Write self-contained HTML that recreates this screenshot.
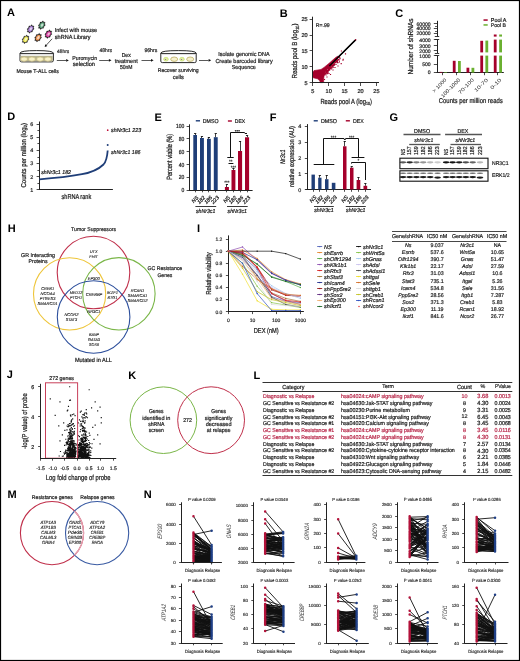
<!DOCTYPE html>
<html><head><meta charset="utf-8"><style>
html,body{margin:0;padding:0;background:#fff;}
svg{display:block;will-change:transform;filter:blur(0.3px);}
text{font-family:"Liberation Sans", sans-serif;text-rendering:geometricPrecision;}
</style></head><body>
<svg width="520" height="661" viewBox="0 0 520 661">
<rect x="0" y="0" width="520" height="661" fill="#fff"/>
<text x="7.00" y="16.08" font-size="11" font-weight="bold" fill="#000">A</text>
<path d="M32.72,30.32 L32.20,32.11 L30.75,32.10 L29.36,33.33 L28.69,32.05 L27.25,32.01 L27.75,30.22 L27.10,28.93 L28.48,27.68 L29.00,25.89 L30.45,25.90 L31.84,24.67 L32.51,25.95 L33.95,25.99 L33.45,27.78 L34.10,29.07Z" fill="#222" stroke="#111" stroke-width="0.3"/>
<ellipse cx="30.6" cy="29.0" rx="2.1" ry="3.1" transform="rotate(32 30.6 29.0)" fill="#a47ad0"/>
<ellipse cx="30.8" cy="28.8" rx="1.1" ry="1.7" transform="rotate(32 30.6 29.0)" fill="#fff" opacity="0.65"/>
<path d="M43.92,26.52 L43.40,28.31 L41.95,28.30 L40.56,29.53 L39.89,28.25 L38.45,28.21 L38.95,26.42 L38.30,25.13 L39.68,23.88 L40.20,22.09 L41.65,22.10 L43.04,20.87 L43.71,22.15 L45.15,22.19 L44.65,23.98 L45.30,25.27Z" fill="#222" stroke="#111" stroke-width="0.3"/>
<ellipse cx="41.8" cy="25.2" rx="2.1" ry="3.1" transform="rotate(32 41.8 25.2)" fill="#5aa078"/>
<ellipse cx="42.0" cy="25.0" rx="1.1" ry="1.7" transform="rotate(32 41.8 25.2)" fill="#fff" opacity="0.65"/>
<path d="M27.72,40.62 L27.20,42.41 L25.75,42.40 L24.36,43.63 L23.69,42.35 L22.25,42.31 L22.75,40.52 L22.10,39.23 L23.48,37.98 L24.00,36.19 L25.45,36.20 L26.84,34.97 L27.51,36.25 L28.95,36.29 L28.45,38.08 L29.10,39.37Z" fill="#222" stroke="#111" stroke-width="0.3"/>
<ellipse cx="25.6" cy="39.3" rx="2.1" ry="3.1" transform="rotate(32 25.6 39.3)" fill="#ece85a"/>
<ellipse cx="25.8" cy="39.099999999999994" rx="1.1" ry="1.7" transform="rotate(32 25.6 39.3)" fill="#fff" opacity="0.65"/>
<path d="M40.22,38.92 L39.70,40.71 L38.25,40.70 L36.86,41.93 L36.19,40.65 L34.75,40.61 L35.25,38.82 L34.60,37.53 L35.98,36.28 L36.50,34.49 L37.95,34.50 L39.34,33.27 L40.01,34.55 L41.45,34.59 L40.95,36.38 L41.60,37.67Z" fill="#222" stroke="#111" stroke-width="0.3"/>
<ellipse cx="38.1" cy="37.6" rx="2.1" ry="3.1" transform="rotate(32 38.1 37.6)" fill="#e89050"/>
<ellipse cx="38.300000000000004" cy="37.4" rx="1.1" ry="1.7" transform="rotate(32 38.1 37.6)" fill="#fff" opacity="0.65"/>
<path d="M50.52,35.42 L50.00,37.21 L48.55,37.20 L47.16,38.43 L46.49,37.15 L45.05,37.11 L45.55,35.32 L44.90,34.03 L46.28,32.78 L46.80,30.99 L48.25,31.00 L49.64,29.77 L50.31,31.05 L51.75,31.09 L51.25,32.88 L51.90,34.17Z" fill="#222" stroke="#111" stroke-width="0.3"/>
<ellipse cx="48.4" cy="34.1" rx="2.1" ry="3.1" transform="rotate(32 48.4 34.1)" fill="#d840a0"/>
<ellipse cx="48.6" cy="33.9" rx="1.1" ry="1.7" transform="rotate(32 48.4 34.1)" fill="#fff" opacity="0.65"/>
<text x="54.80" y="32.17" font-size="5.75" text-anchor="start" fill="#1c1c1c" stroke="#1c1c1c" stroke-width="0.220" textLength="42.20" lengthAdjust="spacingAndGlyphs">Infect with mouse</text>
<text x="54.80" y="38.61" font-size="5.87" text-anchor="start" fill="#1c1c1c" stroke="#1c1c1c" stroke-width="0.230" textLength="35.70" lengthAdjust="spacingAndGlyphs">shRNA Library</text>
<line x1="52.10" y1="38.80" x2="46.35" y2="45.08" stroke="#111" stroke-width="0.7"/>
<path d="M44.60,47.00 L45.32,44.14 L47.39,46.03Z" fill="#111" stroke="none" stroke-width="1"/>
<path d="M20.0,53.2 L20.0,60.5 Q20.0,61.9 21.6,61.9 L51.8,61.9 Q53.4,61.9 53.4,60.5 L53.4,53.2 Z" fill="#fff" stroke="#111" stroke-width="0.9"/>
<rect x="20.60" y="55.80" width="32.20" height="5.50" fill="#b8b490"/>
<ellipse cx="24.1" cy="59.1" rx="3.4" ry="2.1" fill="#f8f2c8" stroke="#cdbf80" stroke-width="0.7"/>
<ellipse cx="31.9" cy="59.1" rx="3.4" ry="2.1" fill="#f8f2c8" stroke="#cdbf80" stroke-width="0.7"/>
<ellipse cx="40.1" cy="59.1" rx="3.4" ry="2.1" fill="#f8f2c8" stroke="#cdbf80" stroke-width="0.7"/>
<ellipse cx="47.9" cy="59.1" rx="3.4" ry="2.1" fill="#f8f2c8" stroke="#cdbf80" stroke-width="0.7"/>
<path d="M20.0,53.2 Q20.0,50.6 36.7,50.6 Q53.4,50.6 53.4,53.2" fill="#fff" stroke="#111" stroke-width="0.9"/>
<line x1="20.00" y1="53.50" x2="53.40" y2="53.50" stroke="#111" stroke-width="0.7"/>
<line x1="20.50" y1="54.40" x2="52.90" y2="54.40" stroke="#bbb" stroke-width="0.5"/>
<path d="M160.8,53.2 L160.8,61.2 Q160.8,62.6 162.4,62.6 L194.6,62.6 Q196.2,62.6 196.2,61.2 L196.2,53.2 Z" fill="#fff" stroke="#111" stroke-width="0.9"/>
<ellipse cx="166.0" cy="59.2" rx="2.3" ry="1.9" fill="#e0f0a0" stroke="#c8e070" stroke-width="0.7"/>
<ellipse cx="174.2" cy="59.2" rx="3.5" ry="2.2" fill="#f6f0cc" stroke="#b0a050" stroke-width="0.7"/>
<ellipse cx="182.0" cy="59.2" rx="2.3" ry="1.9" fill="#e0f0a0" stroke="#c8e070" stroke-width="0.7"/>
<ellipse cx="190.2" cy="59.2" rx="3.5" ry="2.2" fill="#f6f0cc" stroke="#b0a050" stroke-width="0.7"/>
<path d="M160.8,53.2 Q160.8,50.6 178.5,50.6 Q196.2,50.6 196.2,53.2" fill="#fff" stroke="#111" stroke-width="0.9"/>
<line x1="160.80" y1="53.50" x2="196.20" y2="53.50" stroke="#111" stroke-width="0.7"/>
<line x1="161.30" y1="54.40" x2="195.70" y2="54.40" stroke="#bbb" stroke-width="0.5"/>
<circle cx="165.60" cy="59.60" r="0.50" fill="#8040a0" stroke="none" stroke-width="1"/>
<circle cx="181.60" cy="59.60" r="0.50" fill="#8040a0" stroke="none" stroke-width="1"/>
<text x="16.40" y="72.98" font-size="5.5" text-anchor="start" fill="#1c1c1c" stroke="#1c1c1c" stroke-width="0.202" textLength="42.40" lengthAdjust="spacingAndGlyphs">Mouse T-ALL cells</text>
<text x="57.10" y="52.75" font-size="5.13" text-anchor="start" fill="#1c1c1c" stroke="#1c1c1c" stroke-width="0.175" textLength="12.10" lengthAdjust="spacingAndGlyphs">48hrs</text>
<line x1="56.80" y1="60.50" x2="66.20" y2="60.50" stroke="#111" stroke-width="0.7"/>
<path d="M68.80,60.40 L66.20,61.80 L66.20,59.00Z" fill="#111" stroke="none" stroke-width="1"/>
<text x="72.20" y="59.62" font-size="5.61" text-anchor="start" fill="#1c1c1c" stroke="#1c1c1c" stroke-width="0.210" textLength="25.00" lengthAdjust="spacingAndGlyphs">Puromycin</text>
<text x="72.80" y="66.35" font-size="5.96" text-anchor="start" fill="#1c1c1c" stroke="#1c1c1c" stroke-width="0.237" textLength="22.20" lengthAdjust="spacingAndGlyphs">selection</text>
<text x="99.60" y="52.39" font-size="5.25" text-anchor="start" fill="#1c1c1c" stroke="#1c1c1c" stroke-width="0.184" textLength="12.40" lengthAdjust="spacingAndGlyphs">48hrs</text>
<line x1="99.20" y1="60.50" x2="108.90" y2="60.50" stroke="#111" stroke-width="0.7"/>
<path d="M111.50,60.30 L108.90,61.70 L108.90,58.90Z" fill="#111" stroke="none" stroke-width="1"/>
<text x="126.20" y="56.79" font-size="5.8" text-anchor="middle" fill="#1c1c1c" stroke="#1c1c1c" stroke-width="0.224" textLength="9.00" lengthAdjust="spacingAndGlyphs">Dex</text>
<text x="126.20" y="63.09" font-size="5.8" text-anchor="middle" fill="#1c1c1c" stroke="#1c1c1c" stroke-width="0.224" textLength="23.00" lengthAdjust="spacingAndGlyphs">treatment</text>
<text x="126.20" y="69.29" font-size="5.8" text-anchor="middle" fill="#1c1c1c" stroke="#1c1c1c" stroke-width="0.224" textLength="12.60" lengthAdjust="spacingAndGlyphs">50nM</text>
<text x="144.40" y="52.47" font-size="5.47" text-anchor="start" fill="#1c1c1c" stroke="#1c1c1c" stroke-width="0.199" textLength="12.90" lengthAdjust="spacingAndGlyphs">96hrs</text>
<line x1="141.50" y1="60.50" x2="151.00" y2="60.50" stroke="#111" stroke-width="0.7"/>
<path d="M153.60,60.30 L151.00,61.70 L151.00,58.90Z" fill="#111" stroke="none" stroke-width="1"/>
<text x="157.70" y="72.37" font-size="5.47" text-anchor="start" fill="#1c1c1c" stroke="#1c1c1c" stroke-width="0.199" textLength="41.00" lengthAdjust="spacingAndGlyphs">Recover surviving</text>
<text x="178.20" y="78.69" font-size="5.8" text-anchor="middle" fill="#1c1c1c" stroke="#1c1c1c" stroke-width="0.224" textLength="11.00" lengthAdjust="spacingAndGlyphs">cells</text>
<line x1="199.00" y1="60.50" x2="208.60" y2="60.50" stroke="#111" stroke-width="0.7"/>
<path d="M211.20,60.30 L208.60,61.70 L208.60,58.90Z" fill="#111" stroke="none" stroke-width="1"/>
<text x="218.30" y="56.48" font-size="5.79" text-anchor="start" fill="#1c1c1c" stroke="#1c1c1c" stroke-width="0.223" textLength="51.30" lengthAdjust="spacingAndGlyphs">Isolate genomic DNA</text>
<text x="215.40" y="62.69" font-size="5.81" text-anchor="start" fill="#1c1c1c" stroke="#1c1c1c" stroke-width="0.225" textLength="57.30" lengthAdjust="spacingAndGlyphs">Create barcoded library</text>
<text x="231.70" y="68.64" font-size="5.67" text-anchor="start" fill="#1c1c1c" stroke="#1c1c1c" stroke-width="0.214" textLength="24.10" lengthAdjust="spacingAndGlyphs">Sequence</text>
<text x="279.80" y="16.68" font-size="11" font-weight="bold" fill="#000">B</text>
<line x1="317.57" y1="77.61" x2="355.73" y2="39.77" stroke="#000" stroke-width="1.25"/>
<path d="M312.8,72.5 L314.0,70.6 L318.0,69.9 L321.0,69.4 L324.0,67.4 L327.0,65.0 L330.0,62.5 L333.0,59.8 L336.0,57.2 L337.8,56.2 L338.6,57.4 L336.5,60.3 L333.5,63.3 L330.5,66.2 L327.5,69.0 L325.3,71.5 L324.3,74.5 L323.8,78.0 L323.6,82.5 L320.5,82.7 L319.5,80.5 L317.5,78.8 L315.0,78.2 L312.8,77.6Z" fill="#a5002b" stroke="#a5002b" stroke-width="0.6"/>
<path d="M326.2 70.6h1.1v1.1h-1.1zM330.9 64.8h1.1v1.1h-1.1zM321.8 74.5h1.1v1.1h-1.1zM326.5 70.5h1.1v1.1h-1.1zM336.6 61.1h1.1v1.1h-1.1zM325.6 73.0h1.1v1.1h-1.1zM329.3 67.1h1.1v1.1h-1.1zM322.0 74.2h1.1v1.1h-1.1zM329.1 69.7h1.1v1.1h-1.1zM329.1 68.3h1.1v1.1h-1.1zM333.7 63.2h1.1v1.1h-1.1zM337.4 62.1h1.1v1.1h-1.1zM335.6 60.5h1.1v1.1h-1.1zM326.1 70.9h1.1v1.1h-1.1zM331.5 65.1h1.1v1.1h-1.1zM328.3 68.9h1.1v1.1h-1.1zM332.3 65.6h1.1v1.1h-1.1zM338.9 61.3h1.1v1.1h-1.1zM333.3 64.9h1.1v1.1h-1.1zM338.0 59.4h1.1v1.1h-1.1zM333.0 64.3h1.1v1.1h-1.1zM330.1 65.4h1.1v1.1h-1.1zM335.2 60.6h1.1v1.1h-1.1zM334.4 61.7h1.1v1.1h-1.1zM325.9 71.1h1.1v1.1h-1.1zM321.9 73.7h1.1v1.1h-1.1zM334.0 64.2h1.1v1.1h-1.1zM342.7 58.7h1.1v1.1h-1.1zM327.9 69.8h1.1v1.1h-1.1zM321.9 74.5h1.1v1.1h-1.1zM330.8 64.7h1.1v1.1h-1.1zM336.4 62.2h1.1v1.1h-1.1zM336.5 60.6h1.1v1.1h-1.1zM330.6 66.8h1.1v1.1h-1.1zM332.8 66.6h1.1v1.1h-1.1zM331.4 66.7h1.1v1.1h-1.1zM326.1 72.5h1.1v1.1h-1.1zM329.4 66.0h1.1v1.1h-1.1zM327.7 67.7h1.1v1.1h-1.1zM331.0 64.6h1.1v1.1h-1.1zM333.4 64.5h1.1v1.1h-1.1zM327.2 69.8h1.1v1.1h-1.1zM323.6 74.3h1.1v1.1h-1.1zM336.2 59.8h1.1v1.1h-1.1zM331.0 65.5h1.1v1.1h-1.1zM327.4 70.0h1.1v1.1h-1.1zM327.8 70.4h1.1v1.1h-1.1zM323.8 74.3h1.1v1.1h-1.1zM326.3 70.7h1.1v1.1h-1.1zM325.3 71.2h1.1v1.1h-1.1zM333.2 63.5h1.1v1.1h-1.1zM327.1 69.6h1.1v1.1h-1.1zM335.2 61.2h1.1v1.1h-1.1zM332.6 64.4h1.1v1.1h-1.1zM326.0 71.3h1.1v1.1h-1.1zM325.0 72.6h1.1v1.1h-1.1zM324.3 72.7h1.1v1.1h-1.1zM331.6 64.7h1.1v1.1h-1.1zM323.7 73.5h1.1v1.1h-1.1zM326.2 70.6h1.1v1.1h-1.1zM330.8 68.5h1.1v1.1h-1.1zM327.5 71.8h1.1v1.1h-1.1zM336.7 60.3h1.1v1.1h-1.1zM337.1 59.3h1.1v1.1h-1.1zM334.0 63.3h1.1v1.1h-1.1zM329.5 66.7h1.1v1.1h-1.1zM326.6 71.0h1.1v1.1h-1.1zM325.6 69.9h1.1v1.1h-1.1zM336.6 61.5h1.1v1.1h-1.1zM336.9 60.6h1.1v1.1h-1.1zM321.1 74.5h1.1v1.1h-1.1zM326.7 70.3h1.1v1.1h-1.1zM329.6 68.0h1.1v1.1h-1.1zM326.3 70.4h1.1v1.1h-1.1zM328.8 67.3h1.1v1.1h-1.1zM327.1 71.4h1.1v1.1h-1.1zM324.6 73.2h1.1v1.1h-1.1zM333.7 61.5h1.1v1.1h-1.1zM331.2 64.4h1.1v1.1h-1.1zM325.4 70.9h1.1v1.1h-1.1zM330.5 67.7h1.1v1.1h-1.1zM321.7 74.3h1.1v1.1h-1.1zM327.1 73.1h1.1v1.1h-1.1zM336.2 61.1h1.1v1.1h-1.1zM326.5 69.9h1.1v1.1h-1.1zM332.5 64.3h1.1v1.1h-1.1zM324.3 71.5h1.1v1.1h-1.1zM330.0 66.1h1.1v1.1h-1.1zM322.8 73.6h1.1v1.1h-1.1zM330.8 65.4h1.1v1.1h-1.1zM334.9 62.1h1.1v1.1h-1.1zM329.5 68.3h1.1v1.1h-1.1zM328.2 68.3h1.1v1.1h-1.1zM327.4 70.6h1.1v1.1h-1.1zM323.6 73.4h1.1v1.1h-1.1zM336.4 60.5h1.1v1.1h-1.1zM335.5 60.5h1.1v1.1h-1.1zM330.5 67.8h1.1v1.1h-1.1zM333.7 64.6h1.1v1.1h-1.1zM331.7 64.6h1.1v1.1h-1.1zM322.6 72.6h1.1v1.1h-1.1zM323.2 72.2h1.1v1.1h-1.1zM325.2 73.7h1.1v1.1h-1.1zM327.0 71.6h1.1v1.1h-1.1zM324.2 73.3h1.1v1.1h-1.1zM336.3 61.2h1.1v1.1h-1.1zM336.4 61.8h1.1v1.1h-1.1zM329.1 66.4h1.1v1.1h-1.1zM333.3 62.4h1.1v1.1h-1.1zM329.0 69.6h1.1v1.1h-1.1zM325.3 70.9h1.1v1.1h-1.1zM330.7 65.2h1.1v1.1h-1.1zM328.0 68.8h1.1v1.1h-1.1zM329.3 68.0h1.1v1.1h-1.1zM338.8 59.4h1.1v1.1h-1.1zM324.5 72.9h1.1v1.1h-1.1zM333.5 63.6h1.1v1.1h-1.1zM331.9 64.2h1.1v1.1h-1.1zM322.4 74.4h1.1v1.1h-1.1zM331.7 66.4h1.1v1.1h-1.1z" fill="#a5002b"/>
<path d="M340.8 50.4h1.2v1.2h-1.2zM344.9 53.2h1.2v1.2h-1.2zM340.6 63.0h1.2v1.2h-1.2zM339.1 56.7h1.2v1.2h-1.2zM337.9 58.9h1.2v1.2h-1.2zM339.4 58.0h1.2v1.2h-1.2zM342.4 59.6h1.2v1.2h-1.2zM328.4 72.9h1.2v1.2h-1.2zM332.4 69.4h1.2v1.2h-1.2zM326.4 76.4h1.2v1.2h-1.2zM329.9 73.9h1.2v1.2h-1.2zM334.4 66.9h1.2v1.2h-1.2zM337.4 65.4h1.2v1.2h-1.2zM323.9 78.9h1.2v1.2h-1.2zM325.4 74.4h1.2v1.2h-1.2zM331.4 67.4h1.2v1.2h-1.2zM335.4 63.9h1.2v1.2h-1.2z" fill="#a5002b"/>
<line x1="329.34" y1="66.00" x2="355.73" y2="39.77" stroke="#000" stroke-width="1.25"/>
<circle cx="355.73" cy="39.77" r="0.70" fill="#a5002b" stroke="none" stroke-width="1"/>
<line x1="312.50" y1="16.70" x2="312.50" y2="83.10" stroke="#222" stroke-width="1.0"/>
<line x1="312.40" y1="82.50" x2="379.00" y2="82.50" stroke="#222" stroke-width="1.0"/>
<line x1="309.60" y1="82.50" x2="312.80" y2="82.50" stroke="#222" stroke-width="0.8"/>
<text x="307.70" y="84.72" font-size="5.6" text-anchor="end" fill="#1c1c1c" stroke="#1c1c1c" stroke-width="0.209">5</text>
<line x1="312.50" y1="82.70" x2="312.50" y2="86.00" stroke="#222" stroke-width="0.8"/>
<text x="312.80" y="93.02" font-size="5.6" text-anchor="middle" fill="#1c1c1c" stroke="#1c1c1c" stroke-width="0.209">5</text>
<line x1="309.60" y1="66.50" x2="312.80" y2="66.50" stroke="#222" stroke-width="0.8"/>
<text x="307.70" y="68.82" font-size="5.6" text-anchor="end" fill="#1c1c1c" stroke="#1c1c1c" stroke-width="0.209">10</text>
<line x1="328.50" y1="82.70" x2="328.50" y2="86.00" stroke="#222" stroke-width="0.8"/>
<text x="328.70" y="93.02" font-size="5.6" text-anchor="middle" fill="#1c1c1c" stroke="#1c1c1c" stroke-width="0.209">10</text>
<line x1="309.60" y1="50.50" x2="312.80" y2="50.50" stroke="#222" stroke-width="0.8"/>
<text x="307.70" y="52.92" font-size="5.6" text-anchor="end" fill="#1c1c1c" stroke="#1c1c1c" stroke-width="0.209">15</text>
<line x1="344.50" y1="82.70" x2="344.50" y2="86.00" stroke="#222" stroke-width="0.8"/>
<text x="344.60" y="93.02" font-size="5.6" text-anchor="middle" fill="#1c1c1c" stroke="#1c1c1c" stroke-width="0.209">15</text>
<line x1="309.60" y1="35.50" x2="312.80" y2="35.50" stroke="#222" stroke-width="0.8"/>
<text x="307.70" y="37.02" font-size="5.6" text-anchor="end" fill="#1c1c1c" stroke="#1c1c1c" stroke-width="0.209">20</text>
<line x1="360.50" y1="82.70" x2="360.50" y2="86.00" stroke="#222" stroke-width="0.8"/>
<text x="360.50" y="93.02" font-size="5.6" text-anchor="middle" fill="#1c1c1c" stroke="#1c1c1c" stroke-width="0.209">20</text>
<line x1="309.60" y1="19.50" x2="312.80" y2="19.50" stroke="#222" stroke-width="0.8"/>
<text x="307.70" y="21.12" font-size="5.6" text-anchor="end" fill="#1c1c1c" stroke="#1c1c1c" stroke-width="0.209">25</text>
<line x1="376.50" y1="82.70" x2="376.50" y2="86.00" stroke="#222" stroke-width="0.8"/>
<text x="376.40" y="93.02" font-size="5.6" text-anchor="middle" fill="#1c1c1c" stroke="#1c1c1c" stroke-width="0.209">25</text>
<text x="315.80" y="27.37" font-size="5.46" text-anchor="start" fill="#1c1c1c" stroke="#1c1c1c" stroke-width="0.199" textLength="13.90" lengthAdjust="spacingAndGlyphs">R=.99</text>
<text x="320.4" y="103.60" font-size="7.3" stroke="#1c1c1c" stroke-width="0.24" fill="#1c1c1c" textLength="51.6" lengthAdjust="spacingAndGlyphs">Reads pool A (log<tspan font-size="4.6" dy="1.5">10</tspan><tspan dy="-1.5">)</tspan></text>
<text transform="translate(294.5,51) rotate(-90)" x="0" y="2.6" font-size="7.3" stroke="#1c1c1c" stroke-width="0.24" text-anchor="middle" fill="#1c1c1c" textLength="55" lengthAdjust="spacingAndGlyphs">Reads pool B (log<tspan font-size="4.6" dy="1.5">10</tspan><tspan dy="-1.5">)</tspan></text>
<text x="395.20" y="17.08" font-size="11" font-weight="bold" fill="#000">C</text>
<line x1="437.50" y1="20.80" x2="437.50" y2="36.40" stroke="#222" stroke-width="1.0"/>
<line x1="437.50" y1="39.40" x2="437.50" y2="53.00" stroke="#222" stroke-width="1.0"/>
<line x1="437.50" y1="55.60" x2="437.50" y2="72.80" stroke="#222" stroke-width="1.0"/>
<line x1="434.80" y1="36.50" x2="439.20" y2="36.50" stroke="#222" stroke-width="0.9"/>
<line x1="434.80" y1="39.50" x2="439.20" y2="39.50" stroke="#222" stroke-width="0.9"/>
<line x1="434.80" y1="53.50" x2="439.20" y2="53.50" stroke="#222" stroke-width="0.9"/>
<line x1="434.80" y1="55.50" x2="439.20" y2="55.50" stroke="#222" stroke-width="0.9"/>
<line x1="433.80" y1="23.50" x2="437.00" y2="23.50" stroke="#222" stroke-width="0.8"/>
<text x="430.70" y="25.64" font-size="5.1" text-anchor="end" fill="#1c1c1c" stroke="#1c1c1c" stroke-width="0.173">60000</text>
<line x1="433.80" y1="28.50" x2="437.00" y2="28.50" stroke="#222" stroke-width="0.8"/>
<text x="430.70" y="30.34" font-size="5.1" text-anchor="end" fill="#1c1c1c" stroke="#1c1c1c" stroke-width="0.173">40000</text>
<line x1="433.80" y1="33.50" x2="437.00" y2="33.50" stroke="#222" stroke-width="0.8"/>
<text x="430.70" y="34.84" font-size="5.1" text-anchor="end" fill="#1c1c1c" stroke="#1c1c1c" stroke-width="0.173">20000</text>
<line x1="433.80" y1="39.50" x2="437.00" y2="39.50" stroke="#222" stroke-width="0.8"/>
<text x="430.70" y="41.54" font-size="5.1" text-anchor="end" fill="#1c1c1c" stroke="#1c1c1c" stroke-width="0.173">4000</text>
<line x1="433.80" y1="45.50" x2="437.00" y2="45.50" stroke="#222" stroke-width="0.8"/>
<text x="430.70" y="47.64" font-size="5.1" text-anchor="end" fill="#1c1c1c" stroke="#1c1c1c" stroke-width="0.173">3000</text>
<line x1="433.80" y1="50.50" x2="437.00" y2="50.50" stroke="#222" stroke-width="0.8"/>
<text x="430.70" y="52.64" font-size="5.1" text-anchor="end" fill="#1c1c1c" stroke="#1c1c1c" stroke-width="0.173">2000</text>
<line x1="433.80" y1="55.50" x2="437.00" y2="55.50" stroke="#222" stroke-width="0.8"/>
<text x="430.70" y="57.54" font-size="5.1" text-anchor="end" fill="#1c1c1c" stroke="#1c1c1c" stroke-width="0.173">1000</text>
<line x1="433.80" y1="64.50" x2="437.00" y2="64.50" stroke="#222" stroke-width="0.8"/>
<text x="430.70" y="66.14" font-size="5.1" text-anchor="end" fill="#1c1c1c" stroke="#1c1c1c" stroke-width="0.173">500</text>
<line x1="433.80" y1="72.50" x2="437.00" y2="72.50" stroke="#222" stroke-width="0.8"/>
<text x="430.70" y="74.44" font-size="5.1" text-anchor="end" fill="#1c1c1c" stroke="#1c1c1c" stroke-width="0.173">0</text>
<line x1="435.00" y1="26.50" x2="437.00" y2="26.50" stroke="#222" stroke-width="0.7"/>
<line x1="435.00" y1="31.50" x2="437.00" y2="31.50" stroke="#222" stroke-width="0.7"/>
<line x1="436.60" y1="72.50" x2="503.80" y2="72.50" stroke="#222" stroke-width="1.0"/>
<line x1="442.50" y1="72.60" x2="442.50" y2="75.20" stroke="#222" stroke-width="0.8"/>
<line x1="456.50" y1="72.60" x2="456.50" y2="75.20" stroke="#222" stroke-width="0.8"/>
<line x1="470.50" y1="72.60" x2="470.50" y2="75.20" stroke="#222" stroke-width="0.8"/>
<line x1="484.50" y1="72.60" x2="484.50" y2="75.20" stroke="#222" stroke-width="0.8"/>
<line x1="497.50" y1="72.60" x2="497.50" y2="75.20" stroke="#222" stroke-width="0.8"/>
<rect x="439.60" y="71.90" width="2.80" height="0.70" fill="#a5002b"/>
<rect x="444.20" y="72.00" width="2.80" height="0.60" fill="#6ab030"/>
<rect x="452.80" y="60.80" width="2.80" height="11.80" fill="#a5002b"/>
<rect x="458.00" y="61.00" width="2.80" height="11.60" fill="#6ab030"/>
<rect x="466.50" y="67.70" width="2.80" height="4.90" fill="#a5002b"/>
<rect x="471.50" y="67.80" width="2.80" height="4.80" fill="#6ab030"/>
<rect x="480.30" y="40.80" width="2.80" height="11.60" fill="#a5002b"/>
<rect x="480.30" y="55.60" width="2.80" height="17.00" fill="#a5002b"/>
<rect x="485.40" y="40.60" width="2.80" height="11.80" fill="#6ab030"/>
<rect x="485.40" y="55.60" width="2.80" height="17.00" fill="#6ab030"/>
<rect x="493.80" y="34.50" width="2.80" height="2.10" fill="#a5002b"/>
<rect x="493.80" y="39.60" width="2.80" height="12.80" fill="#a5002b"/>
<rect x="493.80" y="55.60" width="2.80" height="17.00" fill="#a5002b"/>
<rect x="499.20" y="34.50" width="2.80" height="2.10" fill="#6ab030"/>
<rect x="499.20" y="39.60" width="2.80" height="12.80" fill="#6ab030"/>
<rect x="499.20" y="55.60" width="2.80" height="17.00" fill="#6ab030"/>
<rect x="483.50" y="19.30" width="4.20" height="1.50" fill="#a5002b"/>
<text x="490.80" y="22.07" font-size="5.76" text-anchor="start" fill="#1c1c1c" stroke="#1c1c1c" stroke-width="0.221" textLength="15.70" lengthAdjust="spacingAndGlyphs">Pool A</text>
<rect x="483.50" y="24.20" width="4.20" height="1.50" fill="#6ab030"/>
<text x="490.80" y="26.87" font-size="5.47" text-anchor="start" fill="#1c1c1c" stroke="#1c1c1c" stroke-width="0.199" textLength="15.20" lengthAdjust="spacingAndGlyphs">Pool B</text>
<text transform="translate(410.80,46.50) rotate(-90)" x="0" y="2.63" font-size="7.3" text-anchor="middle" fill="#1c1c1c" stroke="#1c1c1c" stroke-width="0.240" textLength="56.00" lengthAdjust="spacingAndGlyphs">Number of shRNAs</text>
<text transform="translate(445.60,79.00) rotate(-45)" x="0" y="1.8" font-size="5.0" text-anchor="end" fill="#1c1c1c" textLength="18.0" lengthAdjust="spacingAndGlyphs">&gt; 1000</text>
<text transform="translate(459.30,79.00) rotate(-45)" x="0" y="1.8" font-size="5.0" text-anchor="end" fill="#1c1c1c" textLength="25.0" lengthAdjust="spacingAndGlyphs">100-1000</text>
<text transform="translate(473.10,79.00) rotate(-45)" x="0" y="1.8" font-size="5.0" text-anchor="end" fill="#1c1c1c" textLength="20.0" lengthAdjust="spacingAndGlyphs">70-100</text>
<text transform="translate(487.00,79.00) rotate(-45)" x="0" y="1.8" font-size="5.0" text-anchor="end" fill="#1c1c1c" textLength="17.0" lengthAdjust="spacingAndGlyphs">10-70</text>
<text transform="translate(500.50,79.00) rotate(-45)" x="0" y="1.8" font-size="5.0" text-anchor="end" fill="#1c1c1c" textLength="13.5" lengthAdjust="spacingAndGlyphs">0-10</text>
<text x="438.80" y="102.92" font-size="7.0" text-anchor="start" fill="#1c1c1c" stroke="#1c1c1c" stroke-width="0.240" textLength="63.90" lengthAdjust="spacingAndGlyphs">Counts per million reads</text>
<text x="7.30" y="120.18" font-size="11" font-weight="bold" fill="#000">D</text>
<line x1="39.50" y1="121.50" x2="39.50" y2="189.90" stroke="#222" stroke-width="1.0"/>
<line x1="38.80" y1="189.50" x2="112.90" y2="189.50" stroke="#222" stroke-width="1.0"/>
<line x1="36.60" y1="124.50" x2="39.20" y2="124.50" stroke="#222" stroke-width="0.8"/>
<text x="33.20" y="126.24" font-size="5.4" text-anchor="end" fill="#1c1c1c" stroke="#1c1c1c" stroke-width="0.194">6</text>
<line x1="37.40" y1="130.50" x2="39.20" y2="130.50" stroke="#222" stroke-width="0.8"/>
<line x1="36.60" y1="137.50" x2="39.20" y2="137.50" stroke="#222" stroke-width="0.8"/>
<text x="33.20" y="139.32" font-size="5.4" text-anchor="end" fill="#1c1c1c" stroke="#1c1c1c" stroke-width="0.194">5</text>
<line x1="37.40" y1="143.50" x2="39.20" y2="143.50" stroke="#222" stroke-width="0.8"/>
<line x1="36.60" y1="150.50" x2="39.20" y2="150.50" stroke="#222" stroke-width="0.8"/>
<text x="33.20" y="152.40" font-size="5.4" text-anchor="end" fill="#1c1c1c" stroke="#1c1c1c" stroke-width="0.194">4</text>
<line x1="37.40" y1="157.50" x2="39.20" y2="157.50" stroke="#222" stroke-width="0.8"/>
<line x1="36.60" y1="163.50" x2="39.20" y2="163.50" stroke="#222" stroke-width="0.8"/>
<text x="33.20" y="165.48" font-size="5.4" text-anchor="end" fill="#1c1c1c" stroke="#1c1c1c" stroke-width="0.194">3</text>
<line x1="37.40" y1="170.50" x2="39.20" y2="170.50" stroke="#222" stroke-width="0.8"/>
<line x1="36.60" y1="176.50" x2="39.20" y2="176.50" stroke="#222" stroke-width="0.8"/>
<text x="33.20" y="178.56" font-size="5.4" text-anchor="end" fill="#1c1c1c" stroke="#1c1c1c" stroke-width="0.194">2</text>
<line x1="37.40" y1="183.50" x2="39.20" y2="183.50" stroke="#222" stroke-width="0.8"/>
<line x1="36.60" y1="189.50" x2="39.20" y2="189.50" stroke="#222" stroke-width="0.8"/>
<text x="33.20" y="191.64" font-size="5.4" text-anchor="end" fill="#1c1c1c" stroke="#1c1c1c" stroke-width="0.194">1</text>
<text transform="translate(23.0,155.3) rotate(-90)" x="0" y="2.5" font-size="7.0" stroke="#1c1c1c" stroke-width="0.24" text-anchor="middle" fill="#1c1c1c" textLength="64.5" lengthAdjust="spacingAndGlyphs">Counts per million (log<tspan font-size="4.6" dy="1.5">2</tspan><tspan dy="-1.5">)</tspan></text>
<path d="M39.4,179.3 C55,178.2 70,176.5 82,174.2 C92,172.4 99,168.8 103.5,164.5 C106.2,161.6 107.2,157 107.7,150.5" fill="none" stroke="#1f3e78" stroke-width="1.8"/>
<circle cx="107.70" cy="145.00" r="1.00" fill="#1f3e78" stroke="none" stroke-width="1"/>
<circle cx="107.70" cy="130.20" r="0.85" fill="#c0103a" stroke="none" stroke-width="1"/>
<text x="111.00" y="132.23" font-size="5.65" text-anchor="start" fill="#1c1c1c" font-style="italic" stroke="#1c1c1c" stroke-width="0.213" textLength="30.20" lengthAdjust="spacingAndGlyphs">shNr3c1 223</text>
<text x="111.00" y="153.98" font-size="5.5" text-anchor="start" fill="#1c1c1c" font-style="italic" stroke="#1c1c1c" stroke-width="0.202" textLength="29.40" lengthAdjust="spacingAndGlyphs">shNr3c1 186</text>
<text x="41.20" y="174.01" font-size="5.57" text-anchor="start" fill="#1c1c1c" font-style="italic" stroke="#1c1c1c" stroke-width="0.207" textLength="29.80" lengthAdjust="spacingAndGlyphs">shNr3c1 182</text>
<text x="61.50" y="199.42" font-size="7.0" text-anchor="start" fill="#1c1c1c" stroke="#1c1c1c" stroke-width="0.240" textLength="29.70" lengthAdjust="spacingAndGlyphs">shRNA rank</text>
<text x="154.50" y="120.88" font-size="11" font-weight="bold" fill="#000">E</text>
<rect x="195.80" y="120.10" width="4.20" height="1.40" fill="#1f3e78"/>
<text x="202.80" y="122.80" font-size="5.55" text-anchor="start" fill="#1c1c1c" stroke="#1c1c1c" stroke-width="0.205" textLength="15.70" lengthAdjust="spacingAndGlyphs">DMSO</text>
<rect x="227.90" y="120.30" width="4.00" height="1.40" fill="#a5002b"/>
<text x="234.80" y="122.93" font-size="5.36" text-anchor="start" fill="#1c1c1c" stroke="#1c1c1c" stroke-width="0.192" textLength="10.40" lengthAdjust="spacingAndGlyphs">DEX</text>
<line x1="189.50" y1="124.30" x2="189.50" y2="190.40" stroke="#222" stroke-width="1.0"/>
<line x1="188.80" y1="190.50" x2="252.60" y2="190.50" stroke="#222" stroke-width="1.0"/>
<line x1="186.60" y1="126.50" x2="189.20" y2="126.50" stroke="#222" stroke-width="0.8"/>
<text x="184.30" y="128.32" font-size="5.9" text-anchor="end" fill="#1c1c1c" stroke="#1c1c1c" stroke-width="0.232" textLength="8.37" lengthAdjust="spacingAndGlyphs">100</text>
<line x1="186.60" y1="138.50" x2="189.20" y2="138.50" stroke="#222" stroke-width="0.8"/>
<text x="184.30" y="141.08" font-size="5.9" text-anchor="end" fill="#1c1c1c" stroke="#1c1c1c" stroke-width="0.232" textLength="5.58" lengthAdjust="spacingAndGlyphs">80</text>
<line x1="186.60" y1="151.50" x2="189.20" y2="151.50" stroke="#222" stroke-width="0.8"/>
<text x="184.30" y="153.84" font-size="5.9" text-anchor="end" fill="#1c1c1c" stroke="#1c1c1c" stroke-width="0.232" textLength="5.58" lengthAdjust="spacingAndGlyphs">60</text>
<line x1="186.60" y1="164.50" x2="189.20" y2="164.50" stroke="#222" stroke-width="0.8"/>
<text x="184.30" y="166.60" font-size="5.9" text-anchor="end" fill="#1c1c1c" stroke="#1c1c1c" stroke-width="0.232" textLength="5.58" lengthAdjust="spacingAndGlyphs">40</text>
<line x1="186.60" y1="177.50" x2="189.20" y2="177.50" stroke="#222" stroke-width="0.8"/>
<text x="184.30" y="179.36" font-size="5.9" text-anchor="end" fill="#1c1c1c" stroke="#1c1c1c" stroke-width="0.232" textLength="5.58" lengthAdjust="spacingAndGlyphs">20</text>
<line x1="186.60" y1="190.50" x2="189.20" y2="190.50" stroke="#222" stroke-width="0.8"/>
<text x="184.30" y="192.12" font-size="5.9" text-anchor="end" fill="#1c1c1c" stroke="#1c1c1c" stroke-width="0.232" textLength="2.79" lengthAdjust="spacingAndGlyphs">0</text>
<text transform="translate(169.20,156.80) rotate(-90)" x="0" y="2.74" font-size="7.6" text-anchor="middle" fill="#1c1c1c" stroke="#1c1c1c" stroke-width="0.240" textLength="46.00" lengthAdjust="spacingAndGlyphs">Percent viable (%)</text>
<rect x="193.30" y="135.00" width="3.70" height="55.00" fill="#1f3e78"/>
<line x1="195.50" y1="133.80" x2="195.50" y2="135.00" stroke="#111" stroke-width="0.8"/>
<line x1="194.05" y1="133.50" x2="196.25" y2="133.50" stroke="#111" stroke-width="0.9"/>
<rect x="200.00" y="138.00" width="3.90" height="52.00" fill="#1f3e78"/>
<line x1="201.50" y1="136.60" x2="201.50" y2="138.00" stroke="#111" stroke-width="0.8"/>
<line x1="200.85" y1="136.50" x2="203.05" y2="136.50" stroke="#111" stroke-width="0.9"/>
<rect x="207.00" y="138.80" width="3.80" height="51.20" fill="#1f3e78"/>
<line x1="208.50" y1="137.00" x2="208.50" y2="138.80" stroke="#111" stroke-width="0.8"/>
<line x1="207.80" y1="137.50" x2="210.00" y2="137.50" stroke="#111" stroke-width="0.9"/>
<rect x="213.80" y="137.20" width="3.90" height="52.80" fill="#1f3e78"/>
<line x1="215.50" y1="133.80" x2="215.50" y2="137.20" stroke="#111" stroke-width="0.8"/>
<line x1="214.65" y1="133.50" x2="216.85" y2="133.50" stroke="#111" stroke-width="0.9"/>
<rect x="224.90" y="187.00" width="4.00" height="3.00" fill="#a5002b"/>
<line x1="226.50" y1="184.60" x2="226.50" y2="187.00" stroke="#111" stroke-width="0.8"/>
<line x1="225.80" y1="184.50" x2="228.00" y2="184.50" stroke="#111" stroke-width="0.9"/>
<rect x="231.50" y="170.00" width="3.90" height="20.00" fill="#a5002b"/>
<line x1="233.50" y1="168.20" x2="233.50" y2="170.00" stroke="#111" stroke-width="0.8"/>
<line x1="232.35" y1="168.50" x2="234.55" y2="168.50" stroke="#111" stroke-width="0.9"/>
<rect x="238.00" y="151.00" width="4.10" height="39.00" fill="#a5002b"/>
<line x1="240.50" y1="141.00" x2="240.50" y2="151.00" stroke="#111" stroke-width="0.8"/>
<line x1="238.95" y1="141.50" x2="241.15" y2="141.50" stroke="#111" stroke-width="0.9"/>
<rect x="245.00" y="137.30" width="4.10" height="52.70" fill="#a5002b"/>
<line x1="247.50" y1="135.60" x2="247.50" y2="137.30" stroke="#111" stroke-width="0.8"/>
<line x1="245.95" y1="135.50" x2="248.15" y2="135.50" stroke="#111" stroke-width="0.9"/>
<path d="M230.5,157.5 L230.5,132.5 L244.5,132.5 L245.0,133.5 L247.0,133.5" fill="none" stroke="#111" stroke-width="1.0"/>
<line x1="227.30" y1="157.50" x2="233.70" y2="157.50" stroke="#111" stroke-width="1.0"/>
<text x="237.40" y="132.58" font-size="4.4" text-anchor="middle" fill="#111" stroke="#111" stroke-width="0.129">***</text>
<text x="230.80" y="163.06" font-size="4.6" text-anchor="middle" fill="#111" stroke="#111" stroke-width="0.141">**</text>
<line x1="228.50" y1="163.50" x2="233.40" y2="163.50" stroke="#111" stroke-width="1.0"/>
<text x="233.40" y="169.06" font-size="4.6" text-anchor="middle" fill="#111" stroke="#111" stroke-width="0.141">***</text>
<text x="226.90" y="184.26" font-size="4.6" text-anchor="middle" fill="#111" stroke="#111" stroke-width="0.141">***</text>
<line x1="195.50" y1="190.00" x2="195.50" y2="192.30" stroke="#222" stroke-width="0.8"/>
<line x1="202.50" y1="190.00" x2="202.50" y2="192.30" stroke="#222" stroke-width="0.8"/>
<line x1="208.50" y1="190.00" x2="208.50" y2="192.30" stroke="#222" stroke-width="0.8"/>
<line x1="215.50" y1="190.00" x2="215.50" y2="192.30" stroke="#222" stroke-width="0.8"/>
<line x1="226.50" y1="190.00" x2="226.50" y2="192.30" stroke="#222" stroke-width="0.8"/>
<line x1="233.50" y1="190.00" x2="233.50" y2="192.30" stroke="#222" stroke-width="0.8"/>
<line x1="240.50" y1="190.00" x2="240.50" y2="192.30" stroke="#222" stroke-width="0.8"/>
<line x1="247.50" y1="190.00" x2="247.50" y2="192.30" stroke="#222" stroke-width="0.8"/>
<text transform="translate(197.40,196.60) rotate(-47)" x="0" y="1.9" font-size="5.3" text-anchor="end" font-style="italic" fill="#222" stroke="#222" stroke-width="0.22">NS</text>
<text transform="translate(204.20,196.60) rotate(-47)" x="0" y="1.9" font-size="5.3" text-anchor="end" font-style="italic" fill="#222" stroke="#222" stroke-width="0.22">182</text>
<text transform="translate(211.10,196.60) rotate(-47)" x="0" y="1.9" font-size="5.3" text-anchor="end" font-style="italic" fill="#222" stroke="#222" stroke-width="0.22">186</text>
<text transform="translate(218.00,196.60) rotate(-47)" x="0" y="1.9" font-size="5.3" text-anchor="end" font-style="italic" fill="#222" stroke="#222" stroke-width="0.22">223</text>
<text transform="translate(229.10,196.60) rotate(-47)" x="0" y="1.9" font-size="5.3" text-anchor="end" font-style="italic" fill="#222" stroke="#222" stroke-width="0.22">NS</text>
<text transform="translate(235.70,196.60) rotate(-47)" x="0" y="1.9" font-size="5.3" text-anchor="end" font-style="italic" fill="#222" stroke="#222" stroke-width="0.22">182</text>
<text transform="translate(242.30,196.60) rotate(-47)" x="0" y="1.9" font-size="5.3" text-anchor="end" font-style="italic" fill="#222" stroke="#222" stroke-width="0.22">186</text>
<text transform="translate(249.30,196.60) rotate(-47)" x="0" y="1.9" font-size="5.3" text-anchor="end" font-style="italic" fill="#222" stroke="#222" stroke-width="0.22">223</text>
<line x1="195.40" y1="206.50" x2="216.20" y2="206.50" stroke="#222" stroke-width="0.9"/>
<line x1="227.00" y1="206.50" x2="247.70" y2="206.50" stroke="#222" stroke-width="0.9"/>
<text x="205.60" y="212.69" font-size="5.8" text-anchor="middle" fill="#1c1c1c" font-style="italic" stroke="#1c1c1c" stroke-width="0.224" textLength="19.40" lengthAdjust="spacingAndGlyphs">shNr3c1</text>
<text x="237.30" y="212.69" font-size="5.8" text-anchor="middle" fill="#1c1c1c" font-style="italic" stroke="#1c1c1c" stroke-width="0.224" textLength="19.40" lengthAdjust="spacingAndGlyphs">shNr3c1</text>
<text x="269.80" y="120.58" font-size="11" font-weight="bold" fill="#000">F</text>
<rect x="313.70" y="120.10" width="4.10" height="1.40" fill="#1f3e78"/>
<text x="320.90" y="122.83" font-size="5.65" text-anchor="start" fill="#1c1c1c" stroke="#1c1c1c" stroke-width="0.213" textLength="16.00" lengthAdjust="spacingAndGlyphs">DMSO</text>
<rect x="345.80" y="120.10" width="4.10" height="1.40" fill="#a5002b"/>
<text x="353.00" y="122.79" font-size="5.52" text-anchor="start" fill="#1c1c1c" stroke="#1c1c1c" stroke-width="0.203" textLength="10.70" lengthAdjust="spacingAndGlyphs">DEX</text>
<line x1="307.50" y1="124.10" x2="307.50" y2="189.90" stroke="#222" stroke-width="1.0"/>
<line x1="305.40" y1="189.50" x2="371.00" y2="189.50" stroke="#222" stroke-width="1.0"/>
<line x1="304.80" y1="126.50" x2="307.40" y2="126.50" stroke="#222" stroke-width="0.8"/>
<text x="301.20" y="128.34" font-size="5.4" text-anchor="end" fill="#1c1c1c" stroke="#1c1c1c" stroke-width="0.194">4</text>
<line x1="304.80" y1="142.50" x2="307.40" y2="142.50" stroke="#222" stroke-width="0.8"/>
<text x="301.20" y="144.14" font-size="5.4" text-anchor="end" fill="#1c1c1c" stroke="#1c1c1c" stroke-width="0.194">3</text>
<line x1="304.80" y1="158.50" x2="307.40" y2="158.50" stroke="#222" stroke-width="0.8"/>
<text x="301.20" y="159.94" font-size="5.4" text-anchor="end" fill="#1c1c1c" stroke="#1c1c1c" stroke-width="0.194">2</text>
<line x1="304.80" y1="173.50" x2="307.40" y2="173.50" stroke="#222" stroke-width="0.8"/>
<text x="301.20" y="175.74" font-size="5.4" text-anchor="end" fill="#1c1c1c" stroke="#1c1c1c" stroke-width="0.194">1</text>
<line x1="304.80" y1="189.50" x2="307.40" y2="189.50" stroke="#222" stroke-width="0.8"/>
<text x="301.20" y="191.54" font-size="5.4" text-anchor="end" fill="#1c1c1c" stroke="#1c1c1c" stroke-width="0.194">0</text>
<text transform="translate(282.60,156.80) rotate(-90)" x="0" y="2.45" font-size="6.8" text-anchor="middle" fill="#1c1c1c" font-style="italic" stroke="#1c1c1c" stroke-width="0.240" textLength="14.50" lengthAdjust="spacingAndGlyphs">Nr3c1</text>
<text transform="translate(291.20,156.50) rotate(-90)" x="0" y="2.45" font-size="6.8" text-anchor="middle" fill="#1c1c1c" stroke="#1c1c1c" stroke-width="0.240" textLength="61.00" lengthAdjust="spacingAndGlyphs">relative expression (AU)</text>
<rect x="311.50" y="174.60" width="3.40" height="14.90" fill="#1f3e78"/>
<rect x="318.20" y="177.70" width="3.30" height="11.80" fill="#1f3e78"/>
<line x1="319.50" y1="175.80" x2="319.50" y2="177.70" stroke="#111" stroke-width="0.8"/>
<line x1="318.75" y1="175.50" x2="320.95" y2="175.50" stroke="#111" stroke-width="0.9"/>
<rect x="325.00" y="179.20" width="3.50" height="10.30" fill="#1f3e78"/>
<line x1="326.50" y1="175.50" x2="326.50" y2="179.20" stroke="#111" stroke-width="0.8"/>
<line x1="325.65" y1="175.50" x2="327.85" y2="175.50" stroke="#111" stroke-width="0.9"/>
<rect x="331.80" y="182.80" width="3.60" height="6.70" fill="#1f3e78"/>
<rect x="343.00" y="146.30" width="3.50" height="43.20" fill="#a5002b"/>
<line x1="344.50" y1="141.20" x2="344.50" y2="146.30" stroke="#111" stroke-width="0.8"/>
<line x1="343.65" y1="141.50" x2="345.85" y2="141.50" stroke="#111" stroke-width="0.9"/>
<rect x="350.00" y="167.70" width="3.50" height="21.80" fill="#a5002b"/>
<line x1="351.50" y1="166.60" x2="351.50" y2="167.70" stroke="#111" stroke-width="0.8"/>
<line x1="350.65" y1="166.50" x2="352.85" y2="166.50" stroke="#111" stroke-width="0.9"/>
<rect x="356.60" y="180.00" width="3.70" height="9.50" fill="#a5002b"/>
<line x1="358.50" y1="177.50" x2="358.50" y2="180.00" stroke="#111" stroke-width="0.8"/>
<line x1="357.35" y1="177.50" x2="359.55" y2="177.50" stroke="#111" stroke-width="0.9"/>
<rect x="363.50" y="185.80" width="3.70" height="3.70" fill="#a5002b"/>
<line x1="365.50" y1="183.50" x2="365.50" y2="185.80" stroke="#111" stroke-width="0.8"/>
<line x1="364.25" y1="183.50" x2="366.45" y2="183.50" stroke="#111" stroke-width="0.9"/>
<line x1="313.70" y1="164.50" x2="334.30" y2="164.50" stroke="#111" stroke-width="1.0"/>
<path d="M323.5,164.5 L323.5,138.5 L344.0,138.5 L344.6,140.0" fill="none" stroke="#111" stroke-width="1.0"/>
<path d="M345.0,140.0 L345.6,138.5 L358.5,138.5 L358.5,157.5" fill="none" stroke="#111" stroke-width="1.0"/>
<line x1="351.60" y1="157.50" x2="364.40" y2="157.50" stroke="#111" stroke-width="1.0"/>
<text x="333.50" y="138.96" font-size="4.6" text-anchor="middle" fill="#111" stroke="#111" stroke-width="0.141">***</text>
<text x="351.60" y="138.96" font-size="4.6" text-anchor="middle" fill="#111" stroke="#111" stroke-width="0.141">***</text>
<text x="358.40" y="161.96" font-size="4.6" text-anchor="middle" fill="#111" stroke="#111" stroke-width="0.141">*</text>
<path d="M351.5,163.6 L351.5,162.5 L365.5,162.5 L365.5,180.0" fill="none" stroke="#111" stroke-width="1.0"/>
<line x1="313.50" y1="189.50" x2="313.50" y2="191.80" stroke="#222" stroke-width="0.8"/>
<line x1="319.50" y1="189.50" x2="319.50" y2="191.80" stroke="#222" stroke-width="0.8"/>
<line x1="326.50" y1="189.50" x2="326.50" y2="191.80" stroke="#222" stroke-width="0.8"/>
<line x1="333.50" y1="189.50" x2="333.50" y2="191.80" stroke="#222" stroke-width="0.8"/>
<line x1="344.50" y1="189.50" x2="344.50" y2="191.80" stroke="#222" stroke-width="0.8"/>
<line x1="351.50" y1="189.50" x2="351.50" y2="191.80" stroke="#222" stroke-width="0.8"/>
<line x1="358.50" y1="189.50" x2="358.50" y2="191.80" stroke="#222" stroke-width="0.8"/>
<line x1="365.50" y1="189.50" x2="365.50" y2="191.80" stroke="#222" stroke-width="0.8"/>
<text transform="translate(315.40,196.20) rotate(-47)" x="0" y="1.9" font-size="5.3" text-anchor="end" font-style="italic" fill="#222" stroke="#222" stroke-width="0.22">NS</text>
<text transform="translate(322.10,196.20) rotate(-47)" x="0" y="1.9" font-size="5.3" text-anchor="end" font-style="italic" fill="#222" stroke="#222" stroke-width="0.22">182</text>
<text transform="translate(329.00,196.20) rotate(-47)" x="0" y="1.9" font-size="5.3" text-anchor="end" font-style="italic" fill="#222" stroke="#222" stroke-width="0.22">186</text>
<text transform="translate(335.80,196.20) rotate(-47)" x="0" y="1.9" font-size="5.3" text-anchor="end" font-style="italic" fill="#222" stroke="#222" stroke-width="0.22">223</text>
<text transform="translate(347.00,196.20) rotate(-47)" x="0" y="1.9" font-size="5.3" text-anchor="end" font-style="italic" fill="#222" stroke="#222" stroke-width="0.22">NS</text>
<text transform="translate(354.00,196.20) rotate(-47)" x="0" y="1.9" font-size="5.3" text-anchor="end" font-style="italic" fill="#222" stroke="#222" stroke-width="0.22">182</text>
<text transform="translate(360.70,196.20) rotate(-47)" x="0" y="1.9" font-size="5.3" text-anchor="end" font-style="italic" fill="#222" stroke="#222" stroke-width="0.22">186</text>
<text transform="translate(367.60,196.20) rotate(-47)" x="0" y="1.9" font-size="5.3" text-anchor="end" font-style="italic" fill="#222" stroke="#222" stroke-width="0.22">223</text>
<line x1="314.00" y1="206.50" x2="333.80" y2="206.50" stroke="#222" stroke-width="0.9"/>
<line x1="345.80" y1="206.50" x2="365.80" y2="206.50" stroke="#222" stroke-width="0.9"/>
<text x="323.90" y="212.49" font-size="5.8" text-anchor="middle" fill="#1c1c1c" font-style="italic" stroke="#1c1c1c" stroke-width="0.224" textLength="19.40" lengthAdjust="spacingAndGlyphs">shNr3c1</text>
<text x="355.80" y="212.49" font-size="5.8" text-anchor="middle" fill="#1c1c1c" font-style="italic" stroke="#1c1c1c" stroke-width="0.224" textLength="19.40" lengthAdjust="spacingAndGlyphs">shNr3c1</text>
<text x="389.60" y="120.58" font-size="11" font-weight="bold" fill="#000">G</text>
<text x="414.00" y="132.95" font-size="5.69" text-anchor="start" fill="#1c1c1c" stroke="#1c1c1c" stroke-width="0.216" textLength="16.10" lengthAdjust="spacingAndGlyphs">DMSO</text>
<text x="457.50" y="132.81" font-size="5.57" text-anchor="start" fill="#1c1c1c" stroke="#1c1c1c" stroke-width="0.207" textLength="10.80" lengthAdjust="spacingAndGlyphs">DEX</text>
<line x1="403.50" y1="134.50" x2="440.50" y2="134.50" stroke="#555" stroke-width="1.5"/>
<line x1="445.10" y1="134.50" x2="482.00" y2="134.50" stroke="#555" stroke-width="1.5"/>
<text x="414.20" y="142.16" font-size="5.44" text-anchor="start" fill="#1c1c1c" font-style="italic" stroke="#1c1c1c" stroke-width="0.197" textLength="19.10" lengthAdjust="spacingAndGlyphs">shNr3c1</text>
<text x="455.50" y="142.03" font-size="5.64" text-anchor="start" fill="#1c1c1c" font-style="italic" stroke="#1c1c1c" stroke-width="0.212" textLength="19.80" lengthAdjust="spacingAndGlyphs">shNr3c1</text>
<line x1="409.20" y1="144.50" x2="439.80" y2="144.50" stroke="#555" stroke-width="1.3"/>
<line x1="450.50" y1="144.50" x2="481.00" y2="144.50" stroke="#555" stroke-width="1.3"/>
<text transform="translate(404.60,155.0) rotate(-90)" x="0" y="0" font-size="5.8" fill="#1c1c1c" stroke="#1c1c1c" stroke-width="0.2" textLength="6.2" lengthAdjust="spacingAndGlyphs">NS</text>
<text transform="translate(411.30,155.0) rotate(-90)" x="0" y="0" font-size="5.8" fill="#1c1c1c" stroke="#1c1c1c" stroke-width="0.2" textLength="8.6" lengthAdjust="spacingAndGlyphs">157</text>
<text transform="translate(418.00,155.0) rotate(-90)" x="0" y="0" font-size="5.8" fill="#1c1c1c" stroke="#1c1c1c" stroke-width="0.2" textLength="8.6" lengthAdjust="spacingAndGlyphs">159</text>
<text transform="translate(424.80,155.0) rotate(-90)" x="0" y="0" font-size="5.8" fill="#1c1c1c" stroke="#1c1c1c" stroke-width="0.2" textLength="8.6" lengthAdjust="spacingAndGlyphs">182</text>
<text transform="translate(431.80,155.0) rotate(-90)" x="0" y="0" font-size="5.8" fill="#1c1c1c" stroke="#1c1c1c" stroke-width="0.2" textLength="8.6" lengthAdjust="spacingAndGlyphs">186</text>
<text transform="translate(439.20,155.0) rotate(-90)" x="0" y="0" font-size="5.8" fill="#1c1c1c" stroke="#1c1c1c" stroke-width="0.2" textLength="8.6" lengthAdjust="spacingAndGlyphs">223</text>
<text transform="translate(447.70,155.0) rotate(-90)" x="0" y="0" font-size="5.8" fill="#1c1c1c" stroke="#1c1c1c" stroke-width="0.2" textLength="6.2" lengthAdjust="spacingAndGlyphs">NS</text>
<text transform="translate(454.20,155.0) rotate(-90)" x="0" y="0" font-size="5.8" fill="#1c1c1c" stroke="#1c1c1c" stroke-width="0.2" textLength="8.6" lengthAdjust="spacingAndGlyphs">157</text>
<text transform="translate(460.80,155.0) rotate(-90)" x="0" y="0" font-size="5.8" fill="#1c1c1c" stroke="#1c1c1c" stroke-width="0.2" textLength="8.6" lengthAdjust="spacingAndGlyphs">159</text>
<text transform="translate(467.40,155.0) rotate(-90)" x="0" y="0" font-size="5.8" fill="#1c1c1c" stroke="#1c1c1c" stroke-width="0.2" textLength="8.6" lengthAdjust="spacingAndGlyphs">182</text>
<text transform="translate(474.30,155.0) rotate(-90)" x="0" y="0" font-size="5.8" fill="#1c1c1c" stroke="#1c1c1c" stroke-width="0.2" textLength="8.6" lengthAdjust="spacingAndGlyphs">186</text>
<text transform="translate(481.60,155.0) rotate(-90)" x="0" y="0" font-size="5.8" fill="#1c1c1c" stroke="#1c1c1c" stroke-width="0.2" textLength="8.6" lengthAdjust="spacingAndGlyphs">223</text>
<rect x="399.9" y="158.2" width="88.1" height="10.5" fill="#fff" stroke="#111" stroke-width="1.1"/>
<rect x="399.9" y="170.8" width="88.1" height="10.4" fill="#fff" stroke="#111" stroke-width="1.1"/>
<ellipse cx="403.00" cy="162.3" rx="3.2" ry="1.15" fill="#111" opacity="0.7"/>
<ellipse cx="409.70" cy="162.3" rx="3.2" ry="1.15" fill="#111" opacity="0.9"/>
<ellipse cx="416.40" cy="162.3" rx="3.2" ry="1.15" fill="#111" opacity="0.55"/>
<ellipse cx="423.20" cy="162.3" rx="3.2" ry="1.15" fill="#111" opacity="0.45"/>
<ellipse cx="430.20" cy="162.3" rx="3.2" ry="1.15" fill="#111" opacity="0.3"/>
<ellipse cx="437.60" cy="162.3" rx="3.2" ry="1.15" fill="#111" opacity="0.22"/>
<ellipse cx="446.10" cy="162.3" rx="3.2" ry="1.15" fill="#111" opacity="1"/>
<ellipse cx="452.60" cy="162.3" rx="3.2" ry="1.15" fill="#111" opacity="1"/>
<ellipse cx="459.20" cy="162.3" rx="3.2" ry="1.15" fill="#111" opacity="0.95"/>
<ellipse cx="465.80" cy="162.3" rx="3.2" ry="1.15" fill="#111" opacity="0.75"/>
<ellipse cx="472.70" cy="162.3" rx="3.2" ry="1.15" fill="#111" opacity="0.65"/>
<ellipse cx="480.00" cy="162.3" rx="3.2" ry="1.15" fill="#111" opacity="0.3"/>
<ellipse cx="403.00" cy="173.2" rx="3.2" ry="0.8" fill="#111" opacity="0.6"/>
<ellipse cx="403.00" cy="177.10" rx="3.3" ry="1.15" fill="#111" opacity="0.95"/>
<ellipse cx="409.70" cy="173.2" rx="3.2" ry="0.8" fill="#111" opacity="0.6"/>
<ellipse cx="409.70" cy="177.10" rx="3.3" ry="1.15" fill="#111" opacity="0.95"/>
<ellipse cx="416.40" cy="173.2" rx="3.2" ry="0.8" fill="#111" opacity="0.6"/>
<ellipse cx="416.40" cy="177.10" rx="3.3" ry="1.15" fill="#111" opacity="0.95"/>
<ellipse cx="423.20" cy="173.2" rx="3.2" ry="0.8" fill="#111" opacity="0.6"/>
<ellipse cx="423.20" cy="177.10" rx="3.3" ry="1.15" fill="#111" opacity="0.95"/>
<ellipse cx="430.20" cy="173.2" rx="3.2" ry="0.8" fill="#111" opacity="0.6"/>
<ellipse cx="430.20" cy="177.10" rx="3.3" ry="1.15" fill="#111" opacity="0.95"/>
<ellipse cx="437.60" cy="173.2" rx="3.2" ry="0.8" fill="#111" opacity="0.6"/>
<ellipse cx="437.60" cy="177.60" rx="3.3" ry="1.15" fill="#111" opacity="0.95"/>
<ellipse cx="446.10" cy="173.2" rx="3.2" ry="0.8" fill="#111" opacity="0.6"/>
<ellipse cx="446.10" cy="177.10" rx="3.3" ry="1.15" fill="#111" opacity="0.95"/>
<ellipse cx="452.60" cy="173.2" rx="3.2" ry="0.8" fill="#111" opacity="0.6"/>
<ellipse cx="452.60" cy="177.10" rx="3.3" ry="1.15" fill="#111" opacity="0.95"/>
<ellipse cx="459.20" cy="173.2" rx="3.2" ry="0.8" fill="#111" opacity="0.6"/>
<ellipse cx="459.20" cy="177.10" rx="3.3" ry="1.15" fill="#111" opacity="0.95"/>
<ellipse cx="465.80" cy="173.2" rx="3.2" ry="0.8" fill="#111" opacity="0.6"/>
<ellipse cx="465.80" cy="177.10" rx="3.3" ry="1.15" fill="#111" opacity="0.95"/>
<ellipse cx="472.70" cy="173.2" rx="3.2" ry="0.8" fill="#111" opacity="0.6"/>
<ellipse cx="472.70" cy="177.10" rx="3.3" ry="1.15" fill="#111" opacity="0.95"/>
<ellipse cx="480.00" cy="173.2" rx="3.2" ry="0.8" fill="#111" opacity="0.6"/>
<ellipse cx="480.00" cy="177.60" rx="3.3" ry="1.15" fill="#111" opacity="0.95"/>
<text x="492.00" y="164.83" font-size="5.37" text-anchor="start" fill="#1c1c1c" stroke="#1c1c1c" stroke-width="0.192" textLength="16.60" lengthAdjust="spacingAndGlyphs">NR3C1</text>
<text x="492.00" y="177.05" font-size="5.41" text-anchor="start" fill="#1c1c1c" stroke="#1c1c1c" stroke-width="0.195" textLength="17.60" lengthAdjust="spacingAndGlyphs">ERK1/2</text>
<text x="7.70" y="231.58" font-size="11" font-weight="bold" fill="#000">H</text>
<circle cx="93.50" cy="272.50" r="36.30" fill="none" stroke="#c0304b" stroke-width="1.1"/>
<circle cx="69.60" cy="293.90" r="36.10" fill="none" stroke="#eec53a" stroke-width="1.1"/>
<circle cx="118.90" cy="293.80" r="36.20" fill="none" stroke="#7ab648" stroke-width="1.1"/>
<circle cx="93.60" cy="317.00" r="36.30" fill="none" stroke="#2d4f9c" stroke-width="1.1"/>
<text x="71.10" y="231.17" font-size="5.46" text-anchor="start" fill="#1c1c1c" stroke="#1c1c1c" stroke-width="0.199" textLength="45.00" lengthAdjust="spacingAndGlyphs">Tumor Suppressors</text>
<text x="21.10" y="256.81" font-size="5.57" text-anchor="start" fill="#1c1c1c" stroke="#1c1c1c" stroke-width="0.207" textLength="33.90" lengthAdjust="spacingAndGlyphs">GR Interacting</text>
<text x="28.50" y="262.79" font-size="5.52" text-anchor="start" fill="#1c1c1c" stroke="#1c1c1c" stroke-width="0.203" textLength="19.10" lengthAdjust="spacingAndGlyphs">Proteins</text>
<text x="147.60" y="270.16" font-size="5.45" text-anchor="start" fill="#1c1c1c" stroke="#1c1c1c" stroke-width="0.198" textLength="34.60" lengthAdjust="spacingAndGlyphs">GC Resistance</text>
<text x="157.40" y="276.63" font-size="5.36" text-anchor="start" fill="#1c1c1c" stroke="#1c1c1c" stroke-width="0.192" textLength="14.90" lengthAdjust="spacingAndGlyphs">Genes</text>
<text x="74.90" y="362.42" font-size="5.88" text-anchor="start" fill="#1c1c1c" stroke="#1c1c1c" stroke-width="0.230" textLength="37.00" lengthAdjust="spacingAndGlyphs">Mutated in ALL</text>
<text x="93.60" y="252.88" font-size="4.1" text-anchor="middle" fill="#1c1c1c" font-style="italic" stroke="#1c1c1c" stroke-width="0.112" textLength="7.80" lengthAdjust="spacingAndGlyphs">UTX</text>
<text x="93.60" y="257.88" font-size="4.1" text-anchor="middle" fill="#1c1c1c" font-style="italic" stroke="#1c1c1c" stroke-width="0.112" textLength="8.60" lengthAdjust="spacingAndGlyphs">FHIT</text>
<text x="93.80" y="280.48" font-size="4.1" text-anchor="middle" fill="#1c1c1c" font-style="italic" stroke="#1c1c1c" stroke-width="0.112" textLength="12.10" lengthAdjust="spacingAndGlyphs">EP300</text>
<text x="47.60" y="289.58" font-size="4.1" text-anchor="middle" fill="#1c1c1c" font-style="italic" stroke="#1c1c1c" stroke-width="0.112" textLength="12.90" lengthAdjust="spacingAndGlyphs">CREB1</text>
<text x="47.60" y="294.58" font-size="4.1" text-anchor="middle" fill="#1c1c1c" font-style="italic" stroke="#1c1c1c" stroke-width="0.112" textLength="14.20" lengthAdjust="spacingAndGlyphs">NCOA4</text>
<text x="47.60" y="299.58" font-size="4.1" text-anchor="middle" fill="#1c1c1c" font-style="italic" stroke="#1c1c1c" stroke-width="0.112" textLength="15.50" lengthAdjust="spacingAndGlyphs">PTGES3</text>
<text x="47.60" y="304.58" font-size="4.1" text-anchor="middle" fill="#1c1c1c" font-style="italic" stroke="#1c1c1c" stroke-width="0.112" textLength="20.20" lengthAdjust="spacingAndGlyphs">SMARCD1</text>
<text x="76.00" y="294.18" font-size="4.1" text-anchor="middle" fill="#1c1c1c" font-style="italic" stroke="#1c1c1c" stroke-width="0.112" textLength="12.70" lengthAdjust="spacingAndGlyphs">MED12</text>
<text x="76.00" y="298.98" font-size="4.1" text-anchor="middle" fill="#1c1c1c" font-style="italic" stroke="#1c1c1c" stroke-width="0.112" textLength="11.90" lengthAdjust="spacingAndGlyphs">PTCH1</text>
<text x="94.00" y="296.38" font-size="4.1" text-anchor="middle" fill="#1c1c1c" font-style="italic" stroke="#1c1c1c" stroke-width="0.112" textLength="16.50" lengthAdjust="spacingAndGlyphs">CREBBP</text>
<text x="112.40" y="293.88" font-size="4.1" text-anchor="middle" fill="#1c1c1c" font-style="italic" stroke="#1c1c1c" stroke-width="0.112" textLength="11.00" lengthAdjust="spacingAndGlyphs">IKZF1</text>
<text x="112.40" y="298.78" font-size="4.1" text-anchor="middle" fill="#1c1c1c" font-style="italic" stroke="#1c1c1c" stroke-width="0.112" textLength="9.60" lengthAdjust="spacingAndGlyphs">BTG1</text>
<text x="137.60" y="291.58" font-size="4.1" text-anchor="middle" fill="#1c1c1c" font-style="italic" stroke="#1c1c1c" stroke-width="0.112" textLength="13.50" lengthAdjust="spacingAndGlyphs">RCAN1</text>
<text x="137.60" y="296.68" font-size="4.1" text-anchor="middle" fill="#1c1c1c" font-style="italic" stroke="#1c1c1c" stroke-width="0.112" textLength="19.50" lengthAdjust="spacingAndGlyphs">SMARCA1</text>
<text x="137.60" y="301.78" font-size="4.1" text-anchor="middle" fill="#1c1c1c" font-style="italic" stroke="#1c1c1c" stroke-width="0.112" textLength="20.00" lengthAdjust="spacingAndGlyphs">SMARCD2</text>
<text x="93.80" y="313.18" font-size="4.1" text-anchor="middle" fill="#1c1c1c" font-style="italic" stroke="#1c1c1c" stroke-width="0.112" textLength="13.00" lengthAdjust="spacingAndGlyphs">NR3C1</text>
<text x="71.40" y="315.88" font-size="4.1" text-anchor="middle" fill="#1c1c1c" font-style="italic" stroke="#1c1c1c" stroke-width="0.112" textLength="14.00" lengthAdjust="spacingAndGlyphs">NCOR2</text>
<text x="71.40" y="321.08" font-size="4.1" text-anchor="middle" fill="#1c1c1c" font-style="italic" stroke="#1c1c1c" stroke-width="0.112" textLength="11.50" lengthAdjust="spacingAndGlyphs">STAT3</text>
<text x="94.00" y="336.38" font-size="4.1" text-anchor="middle" fill="#1c1c1c" font-style="italic" stroke="#1c1c1c" stroke-width="0.112" textLength="10.00" lengthAdjust="spacingAndGlyphs">BANP</text>
<text x="94.00" y="341.43" font-size="4.1" text-anchor="middle" fill="#1c1c1c" font-style="italic" stroke="#1c1c1c" stroke-width="0.112" textLength="12.00" lengthAdjust="spacingAndGlyphs">GATA3</text>
<text x="94.00" y="346.48" font-size="4.1" text-anchor="middle" fill="#1c1c1c" font-style="italic" stroke="#1c1c1c" stroke-width="0.112" textLength="10.00" lengthAdjust="spacingAndGlyphs">SOX6</text>
<text x="197.00" y="231.68" font-size="11" font-weight="bold" fill="#000">I</text>
<line x1="228.50" y1="235.40" x2="228.50" y2="312.10" stroke="#222" stroke-width="1.0"/>
<line x1="228.10" y1="311.50" x2="303.90" y2="311.50" stroke="#222" stroke-width="1.0"/>
<line x1="225.90" y1="239.50" x2="228.50" y2="239.50" stroke="#222" stroke-width="0.8"/>
<text x="222.40" y="240.90" font-size="5.0" text-anchor="end" fill="#1c1c1c" stroke="#1c1c1c" stroke-width="0.167">1.2</text>
<line x1="225.90" y1="251.50" x2="228.50" y2="251.50" stroke="#222" stroke-width="0.8"/>
<text x="222.40" y="253.00" font-size="5.0" text-anchor="end" fill="#1c1c1c" stroke="#1c1c1c" stroke-width="0.167">1.0</text>
<line x1="225.90" y1="263.50" x2="228.50" y2="263.50" stroke="#222" stroke-width="0.8"/>
<text x="222.40" y="265.10" font-size="5.0" text-anchor="end" fill="#1c1c1c" stroke="#1c1c1c" stroke-width="0.167">0.8</text>
<line x1="225.90" y1="275.50" x2="228.50" y2="275.50" stroke="#222" stroke-width="0.8"/>
<text x="222.40" y="277.20" font-size="5.0" text-anchor="end" fill="#1c1c1c" stroke="#1c1c1c" stroke-width="0.167">0.6</text>
<line x1="225.90" y1="287.50" x2="228.50" y2="287.50" stroke="#222" stroke-width="0.8"/>
<text x="222.40" y="289.30" font-size="5.0" text-anchor="end" fill="#1c1c1c" stroke="#1c1c1c" stroke-width="0.167">0.4</text>
<line x1="225.90" y1="299.50" x2="228.50" y2="299.50" stroke="#222" stroke-width="0.8"/>
<text x="222.40" y="301.40" font-size="5.0" text-anchor="end" fill="#1c1c1c" stroke="#1c1c1c" stroke-width="0.167">0.2</text>
<line x1="225.90" y1="311.50" x2="228.50" y2="311.50" stroke="#222" stroke-width="0.8"/>
<text x="222.40" y="313.50" font-size="5.0" text-anchor="end" fill="#1c1c1c" stroke="#1c1c1c" stroke-width="0.167">0.0</text>
<line x1="228.50" y1="311.70" x2="228.50" y2="314.10" stroke="#222" stroke-width="0.8"/>
<text x="228.30" y="322.30" font-size="5.0" text-anchor="middle" fill="#1c1c1c" stroke="#1c1c1c" stroke-width="0.167">0</text>
<line x1="252.50" y1="311.70" x2="252.50" y2="314.10" stroke="#222" stroke-width="0.8"/>
<text x="252.50" y="322.30" font-size="5.0" text-anchor="middle" fill="#1c1c1c" stroke="#1c1c1c" stroke-width="0.167">10</text>
<line x1="276.50" y1="311.70" x2="276.50" y2="314.10" stroke="#222" stroke-width="0.8"/>
<text x="276.20" y="322.30" font-size="5.0" text-anchor="middle" fill="#1c1c1c" stroke="#1c1c1c" stroke-width="0.167">100</text>
<line x1="300.50" y1="311.70" x2="300.50" y2="314.10" stroke="#222" stroke-width="0.8"/>
<text x="300.40" y="322.30" font-size="5.0" text-anchor="middle" fill="#1c1c1c" stroke="#1c1c1c" stroke-width="0.167">1000</text>
<text x="253.70" y="333.29" font-size="7.2" text-anchor="start" fill="#1c1c1c" stroke="#1c1c1c" stroke-width="0.240" textLength="25.10" lengthAdjust="spacingAndGlyphs">DEX (nM)</text>
<text transform="translate(208.50,273.50) rotate(-90)" x="0" y="2.59" font-size="7.2" text-anchor="middle" fill="#1c1c1c" stroke="#1c1c1c" stroke-width="0.240" textLength="42.50" lengthAdjust="spacingAndGlyphs">Relative viability</text>
<polyline points="228.3,251.2 242.5,256.0 257.2,269.4 271.6,296.6 285.7,301.4 300.4,302.6" fill="none" stroke="#5566bb" stroke-width="0.7"/>
<rect x="227.70" y="250.60" width="1.20" height="1.20" fill="#5566bb"/>
<rect x="241.90" y="255.44" width="1.20" height="1.20" fill="#5566bb"/>
<rect x="256.60" y="268.75" width="1.20" height="1.20" fill="#5566bb"/>
<rect x="271.00" y="295.97" width="1.20" height="1.20" fill="#5566bb"/>
<rect x="285.10" y="300.81" width="1.20" height="1.20" fill="#5566bb"/>
<rect x="299.80" y="302.02" width="1.20" height="1.20" fill="#5566bb"/>
<polyline points="228.3,251.2 242.5,250.0 257.2,258.5 271.6,271.8 285.7,279.6 300.4,283.9" fill="none" stroke="#e5862e" stroke-width="0.7"/>
<rect x="227.70" y="250.60" width="1.20" height="1.20" fill="#e5862e"/>
<rect x="241.90" y="249.39" width="1.20" height="1.20" fill="#e5862e"/>
<rect x="256.60" y="257.86" width="1.20" height="1.20" fill="#e5862e"/>
<rect x="271.00" y="271.17" width="1.20" height="1.20" fill="#e5862e"/>
<rect x="285.10" y="279.03" width="1.20" height="1.20" fill="#e5862e"/>
<rect x="299.80" y="283.27" width="1.20" height="1.20" fill="#e5862e"/>
<polyline points="228.3,251.2 242.5,254.2 257.2,264.5 271.6,276.6 285.7,281.4 300.4,287.5" fill="none" stroke="#56ad47" stroke-width="0.7"/>
<rect x="227.70" y="250.60" width="1.20" height="1.20" fill="#56ad47"/>
<rect x="241.90" y="253.62" width="1.20" height="1.20" fill="#56ad47"/>
<rect x="256.60" y="263.91" width="1.20" height="1.20" fill="#56ad47"/>
<rect x="271.00" y="276.01" width="1.20" height="1.20" fill="#56ad47"/>
<rect x="285.10" y="280.85" width="1.20" height="1.20" fill="#56ad47"/>
<rect x="299.80" y="286.90" width="1.20" height="1.20" fill="#56ad47"/>
<polyline points="228.3,251.2 242.5,247.0 257.2,260.3 271.6,273.6 285.7,280.2 300.4,284.5" fill="none" stroke="#8e4fb2" stroke-width="0.7"/>
<rect x="227.70" y="250.60" width="1.20" height="1.20" fill="#8e4fb2"/>
<rect x="241.90" y="246.36" width="1.20" height="1.20" fill="#8e4fb2"/>
<rect x="256.60" y="259.67" width="1.20" height="1.20" fill="#8e4fb2"/>
<rect x="271.00" y="272.98" width="1.20" height="1.20" fill="#8e4fb2"/>
<rect x="285.10" y="279.64" width="1.20" height="1.20" fill="#8e4fb2"/>
<rect x="299.80" y="283.87" width="1.20" height="1.20" fill="#8e4fb2"/>
<polyline points="228.3,251.2 242.5,253.0 257.2,266.9 271.6,288.7 285.7,295.4 300.4,296.0" fill="none" stroke="#d92222" stroke-width="0.7"/>
<rect x="227.70" y="250.60" width="1.20" height="1.20" fill="#d92222"/>
<rect x="241.90" y="252.41" width="1.20" height="1.20" fill="#d92222"/>
<rect x="256.60" y="266.33" width="1.20" height="1.20" fill="#d92222"/>
<rect x="271.00" y="288.11" width="1.20" height="1.20" fill="#d92222"/>
<rect x="285.10" y="294.76" width="1.20" height="1.20" fill="#d92222"/>
<rect x="299.80" y="295.37" width="1.20" height="1.20" fill="#d92222"/>
<polyline points="228.3,251.2 242.5,254.8 257.2,278.4 271.6,292.9 285.7,298.4 300.4,301.4" fill="none" stroke="#a47434" stroke-width="0.7"/>
<rect x="227.70" y="250.60" width="1.20" height="1.20" fill="#a47434"/>
<rect x="241.90" y="254.23" width="1.20" height="1.20" fill="#a47434"/>
<rect x="256.60" y="277.82" width="1.20" height="1.20" fill="#a47434"/>
<rect x="271.00" y="292.34" width="1.20" height="1.20" fill="#a47434"/>
<rect x="285.10" y="297.79" width="1.20" height="1.20" fill="#a47434"/>
<rect x="299.80" y="300.81" width="1.20" height="1.20" fill="#a47434"/>
<polyline points="228.3,251.2 242.5,252.4 257.2,259.7 271.6,273.0 285.7,280.2 300.4,285.1" fill="none" stroke="#24318f" stroke-width="0.7"/>
<rect x="227.70" y="250.60" width="1.20" height="1.20" fill="#24318f"/>
<rect x="241.90" y="251.81" width="1.20" height="1.20" fill="#24318f"/>
<rect x="256.60" y="259.07" width="1.20" height="1.20" fill="#24318f"/>
<rect x="271.00" y="272.38" width="1.20" height="1.20" fill="#24318f"/>
<rect x="285.10" y="279.64" width="1.20" height="1.20" fill="#24318f"/>
<rect x="299.80" y="284.48" width="1.20" height="1.20" fill="#24318f"/>
<polyline points="228.3,251.2 242.5,253.6 257.2,267.5 271.6,289.9 285.7,294.8 300.4,296.6" fill="none" stroke="#951a1a" stroke-width="0.7"/>
<rect x="227.70" y="250.60" width="1.20" height="1.20" fill="#951a1a"/>
<rect x="241.90" y="253.02" width="1.20" height="1.20" fill="#951a1a"/>
<rect x="256.60" y="266.93" width="1.20" height="1.20" fill="#951a1a"/>
<rect x="271.00" y="289.32" width="1.20" height="1.20" fill="#951a1a"/>
<rect x="285.10" y="294.16" width="1.20" height="1.20" fill="#951a1a"/>
<rect x="299.80" y="295.97" width="1.20" height="1.20" fill="#951a1a"/>
<polyline points="228.3,251.2 242.5,258.5 257.2,275.4 271.6,293.6 285.7,300.8 300.4,304.4" fill="none" stroke="#602a80" stroke-width="0.7"/>
<rect x="227.70" y="250.60" width="1.20" height="1.20" fill="#602a80"/>
<rect x="241.90" y="257.86" width="1.20" height="1.20" fill="#602a80"/>
<rect x="256.60" y="274.80" width="1.20" height="1.20" fill="#602a80"/>
<rect x="271.00" y="292.95" width="1.20" height="1.20" fill="#602a80"/>
<rect x="285.10" y="300.21" width="1.20" height="1.20" fill="#602a80"/>
<rect x="299.80" y="303.84" width="1.20" height="1.20" fill="#602a80"/>
<polyline points="228.3,251.2 242.5,260.3 257.2,278.4 271.6,298.4 285.7,301.4 300.4,304.4" fill="none" stroke="#f0b070" stroke-width="0.7"/>
<rect x="227.70" y="250.60" width="1.20" height="1.20" fill="#f0b070"/>
<rect x="241.90" y="259.67" width="1.20" height="1.20" fill="#f0b070"/>
<rect x="256.60" y="277.82" width="1.20" height="1.20" fill="#f0b070"/>
<rect x="271.00" y="297.79" width="1.20" height="1.20" fill="#f0b070"/>
<rect x="285.10" y="300.81" width="1.20" height="1.20" fill="#f0b070"/>
<rect x="299.80" y="303.84" width="1.20" height="1.20" fill="#f0b070"/>
<polyline points="228.3,251.2 242.5,255.4 257.2,263.9 271.6,277.2 285.7,281.4 300.4,284.5" fill="none" stroke="#1f6a2a" stroke-width="0.7"/>
<rect x="227.70" y="250.60" width="1.20" height="1.20" fill="#1f6a2a"/>
<rect x="241.90" y="254.84" width="1.20" height="1.20" fill="#1f6a2a"/>
<rect x="256.60" y="263.30" width="1.20" height="1.20" fill="#1f6a2a"/>
<rect x="271.00" y="276.61" width="1.20" height="1.20" fill="#1f6a2a"/>
<rect x="285.10" y="280.85" width="1.20" height="1.20" fill="#1f6a2a"/>
<rect x="299.80" y="283.87" width="1.20" height="1.20" fill="#1f6a2a"/>
<polyline points="228.3,251.2 242.5,251.2 257.2,251.2 271.6,251.2 285.7,253.6 300.4,259.1" fill="none" stroke="#111111" stroke-width="0.7"/>
<rect x="227.70" y="250.60" width="1.20" height="1.20" fill="#111111"/>
<rect x="241.90" y="250.60" width="1.20" height="1.20" fill="#111111"/>
<rect x="256.60" y="250.60" width="1.20" height="1.20" fill="#111111"/>
<rect x="271.00" y="250.60" width="1.20" height="1.20" fill="#111111"/>
<rect x="285.10" y="253.02" width="1.20" height="1.20" fill="#111111"/>
<rect x="299.80" y="258.46" width="1.20" height="1.20" fill="#111111"/>
<polyline points="228.3,251.2 242.5,263.3 257.2,286.3 271.6,302.6 285.7,305.0 300.4,307.5" fill="none" stroke="#86c44a" stroke-width="0.7"/>
<rect x="227.70" y="250.60" width="1.20" height="1.20" fill="#86c44a"/>
<rect x="241.90" y="262.70" width="1.20" height="1.20" fill="#86c44a"/>
<rect x="256.60" y="285.69" width="1.20" height="1.20" fill="#86c44a"/>
<rect x="271.00" y="302.02" width="1.20" height="1.20" fill="#86c44a"/>
<rect x="285.10" y="304.44" width="1.20" height="1.20" fill="#86c44a"/>
<rect x="299.80" y="306.86" width="1.20" height="1.20" fill="#86c44a"/>
<polyline points="228.3,251.2 242.5,257.2 257.2,271.8 271.6,285.7 285.7,293.6 300.4,298.4" fill="none" stroke="#a8ccf0" stroke-width="0.7"/>
<rect x="227.70" y="250.60" width="1.20" height="1.20" fill="#a8ccf0"/>
<rect x="241.90" y="256.65" width="1.20" height="1.20" fill="#a8ccf0"/>
<rect x="256.60" y="271.17" width="1.20" height="1.20" fill="#a8ccf0"/>
<rect x="271.00" y="285.08" width="1.20" height="1.20" fill="#a8ccf0"/>
<rect x="285.10" y="292.95" width="1.20" height="1.20" fill="#a8ccf0"/>
<rect x="299.80" y="297.79" width="1.20" height="1.20" fill="#a8ccf0"/>
<polyline points="228.3,251.2 242.5,258.5 257.2,274.2 271.6,287.5 285.7,293.6 300.4,296.6" fill="none" stroke="#cbc4ee" stroke-width="0.7"/>
<rect x="227.70" y="250.60" width="1.20" height="1.20" fill="#cbc4ee"/>
<rect x="241.90" y="257.86" width="1.20" height="1.20" fill="#cbc4ee"/>
<rect x="256.60" y="273.59" width="1.20" height="1.20" fill="#cbc4ee"/>
<rect x="271.00" y="286.90" width="1.20" height="1.20" fill="#cbc4ee"/>
<rect x="285.10" y="292.95" width="1.20" height="1.20" fill="#cbc4ee"/>
<rect x="299.80" y="295.97" width="1.20" height="1.20" fill="#cbc4ee"/>
<polyline points="228.3,251.2 242.5,257.2 257.2,275.4 271.6,297.2 285.7,304.4 300.4,306.9" fill="none" stroke="#555555" stroke-width="0.7"/>
<rect x="227.70" y="250.60" width="1.20" height="1.20" fill="#555555"/>
<rect x="241.90" y="256.65" width="1.20" height="1.20" fill="#555555"/>
<rect x="256.60" y="274.80" width="1.20" height="1.20" fill="#555555"/>
<rect x="271.00" y="296.58" width="1.20" height="1.20" fill="#555555"/>
<rect x="285.10" y="303.84" width="1.20" height="1.20" fill="#555555"/>
<rect x="299.80" y="306.26" width="1.20" height="1.20" fill="#555555"/>
<polyline points="228.3,251.2 242.5,274.2 257.2,300.8 271.6,309.3 285.7,309.9 300.4,309.9" fill="none" stroke="#f0e030" stroke-width="0.7"/>
<rect x="227.70" y="250.60" width="1.20" height="1.20" fill="#f0e030"/>
<rect x="241.90" y="273.59" width="1.20" height="1.20" fill="#f0e030"/>
<rect x="256.60" y="300.21" width="1.20" height="1.20" fill="#f0e030"/>
<rect x="271.00" y="308.68" width="1.20" height="1.20" fill="#f0e030"/>
<rect x="285.10" y="309.28" width="1.20" height="1.20" fill="#f0e030"/>
<rect x="299.80" y="309.28" width="1.20" height="1.20" fill="#f0e030"/>
<polyline points="228.3,251.2 242.5,266.3 257.2,279.6 271.6,288.7 285.7,294.2 300.4,295.4" fill="none" stroke="#d4702a" stroke-width="0.7"/>
<rect x="227.70" y="250.60" width="1.20" height="1.20" fill="#d4702a"/>
<rect x="241.90" y="265.72" width="1.20" height="1.20" fill="#d4702a"/>
<rect x="256.60" y="279.03" width="1.20" height="1.20" fill="#d4702a"/>
<rect x="271.00" y="288.11" width="1.20" height="1.20" fill="#d4702a"/>
<rect x="285.10" y="293.55" width="1.20" height="1.20" fill="#d4702a"/>
<rect x="299.80" y="294.76" width="1.20" height="1.20" fill="#d4702a"/>
<polyline points="228.3,251.2 242.5,260.3 257.2,281.4 271.6,304.4 285.7,305.6 300.4,306.3" fill="none" stroke="#dddddd" stroke-width="0.7"/>
<rect x="227.70" y="250.60" width="1.20" height="1.20" fill="#dddddd"/>
<rect x="241.90" y="259.67" width="1.20" height="1.20" fill="#dddddd"/>
<rect x="256.60" y="280.85" width="1.20" height="1.20" fill="#dddddd"/>
<rect x="271.00" y="303.84" width="1.20" height="1.20" fill="#dddddd"/>
<rect x="285.10" y="305.05" width="1.20" height="1.20" fill="#dddddd"/>
<rect x="299.80" y="305.65" width="1.20" height="1.20" fill="#dddddd"/>
<polyline points="228.3,251.2 242.5,268.1 257.2,291.7 271.6,299.6 285.7,302.6 300.4,305.6" fill="none" stroke="#c4c426" stroke-width="0.7"/>
<rect x="227.70" y="250.60" width="1.20" height="1.20" fill="#c4c426"/>
<rect x="241.90" y="267.54" width="1.20" height="1.20" fill="#c4c426"/>
<rect x="256.60" y="291.13" width="1.20" height="1.20" fill="#c4c426"/>
<rect x="271.00" y="299.00" width="1.20" height="1.20" fill="#c4c426"/>
<rect x="285.10" y="302.02" width="1.20" height="1.20" fill="#c4c426"/>
<rect x="299.80" y="305.05" width="1.20" height="1.20" fill="#c4c426"/>
<polyline points="228.3,251.2 242.5,263.3 257.2,293.6 271.6,310.5 285.7,310.5 300.4,310.5" fill="none" stroke="#3152c2" stroke-width="0.7"/>
<rect x="227.70" y="250.60" width="1.20" height="1.20" fill="#3152c2"/>
<rect x="241.90" y="262.70" width="1.20" height="1.20" fill="#3152c2"/>
<rect x="256.60" y="292.95" width="1.20" height="1.20" fill="#3152c2"/>
<rect x="271.00" y="309.89" width="1.20" height="1.20" fill="#3152c2"/>
<rect x="285.10" y="309.89" width="1.20" height="1.20" fill="#3152c2"/>
<rect x="299.80" y="309.89" width="1.20" height="1.20" fill="#3152c2"/>
<polyline points="228.3,251.2 242.5,251.8 257.2,267.5 271.6,293.6 285.7,300.2 300.4,302.0" fill="none" stroke="#e02222" stroke-width="0.7"/>
<rect x="227.70" y="250.60" width="1.20" height="1.20" fill="#e02222"/>
<rect x="241.90" y="251.21" width="1.20" height="1.20" fill="#e02222"/>
<rect x="256.60" y="266.93" width="1.20" height="1.20" fill="#e02222"/>
<rect x="271.00" y="292.95" width="1.20" height="1.20" fill="#e02222"/>
<rect x="285.10" y="299.60" width="1.20" height="1.20" fill="#e02222"/>
<rect x="299.80" y="301.42" width="1.20" height="1.20" fill="#e02222"/>
<line x1="317.20" y1="246.50" x2="322.20" y2="246.50" stroke="#5566bb" stroke-width="0.9"/>
<rect x="319.10" y="246.00" width="1.20" height="1.20" fill="#5566bb"/>
<text x="324.10" y="248.58" font-size="5.5" text-anchor="start" fill="#1c1c1c" font-style="italic" stroke="#1c1c1c" stroke-width="0.202">NS</text>
<line x1="317.20" y1="252.50" x2="322.20" y2="252.50" stroke="#e5862e" stroke-width="0.9"/>
<rect x="319.10" y="251.99" width="1.20" height="1.20" fill="#e5862e"/>
<text x="324.10" y="254.57" font-size="5.5" text-anchor="start" fill="#1c1c1c" font-style="italic" stroke="#1c1c1c" stroke-width="0.202">shEsrrb</text>
<line x1="317.20" y1="258.50" x2="322.20" y2="258.50" stroke="#56ad47" stroke-width="0.9"/>
<rect x="319.10" y="257.98" width="1.20" height="1.20" fill="#56ad47"/>
<text x="324.10" y="260.56" font-size="5.5" text-anchor="start" fill="#1c1c1c" font-style="italic" stroke="#1c1c1c" stroke-width="0.202">shOlfr1294</text>
<line x1="317.20" y1="264.50" x2="322.20" y2="264.50" stroke="#8e4fb2" stroke-width="0.9"/>
<rect x="319.10" y="263.97" width="1.20" height="1.20" fill="#8e4fb2"/>
<text x="324.10" y="266.55" font-size="5.5" text-anchor="start" fill="#1c1c1c" font-style="italic" stroke="#1c1c1c" stroke-width="0.202">shKlk1b1</text>
<line x1="317.20" y1="270.50" x2="322.20" y2="270.50" stroke="#d92222" stroke-width="0.9"/>
<rect x="319.10" y="269.96" width="1.20" height="1.20" fill="#d92222"/>
<text x="324.10" y="272.54" font-size="5.5" text-anchor="start" fill="#1c1c1c" font-style="italic" stroke="#1c1c1c" stroke-width="0.202">shRfx3</text>
<line x1="317.20" y1="276.50" x2="322.20" y2="276.50" stroke="#a47434" stroke-width="0.9"/>
<rect x="319.10" y="275.95" width="1.20" height="1.20" fill="#a47434"/>
<text x="324.10" y="278.53" font-size="5.5" text-anchor="start" fill="#1c1c1c" font-style="italic" stroke="#1c1c1c" stroke-width="0.202">shStat3</text>
<line x1="317.20" y1="282.50" x2="322.20" y2="282.50" stroke="#24318f" stroke-width="0.9"/>
<rect x="319.10" y="281.94" width="1.20" height="1.20" fill="#24318f"/>
<text x="324.10" y="284.52" font-size="5.5" text-anchor="start" fill="#1c1c1c" font-style="italic" stroke="#1c1c1c" stroke-width="0.202">shIcam4</text>
<line x1="317.20" y1="288.50" x2="322.20" y2="288.50" stroke="#951a1a" stroke-width="0.9"/>
<rect x="319.10" y="287.93" width="1.20" height="1.20" fill="#951a1a"/>
<text x="324.10" y="290.51" font-size="5.5" text-anchor="start" fill="#1c1c1c" font-style="italic" stroke="#1c1c1c" stroke-width="0.202">shPpp5re2</text>
<line x1="317.20" y1="294.50" x2="322.20" y2="294.50" stroke="#602a80" stroke-width="0.9"/>
<rect x="319.10" y="293.92" width="1.20" height="1.20" fill="#602a80"/>
<text x="324.10" y="296.50" font-size="5.5" text-anchor="start" fill="#1c1c1c" font-style="italic" stroke="#1c1c1c" stroke-width="0.202">shSox2</text>
<line x1="317.20" y1="300.50" x2="322.20" y2="300.50" stroke="#f0b070" stroke-width="0.9"/>
<rect x="319.10" y="299.91" width="1.20" height="1.20" fill="#f0b070"/>
<text x="324.10" y="302.49" font-size="5.5" text-anchor="start" fill="#1c1c1c" font-style="italic" stroke="#1c1c1c" stroke-width="0.202">shEp300</text>
<line x1="317.20" y1="306.50" x2="322.20" y2="306.50" stroke="#1f6a2a" stroke-width="0.9"/>
<rect x="319.10" y="305.90" width="1.20" height="1.20" fill="#1f6a2a"/>
<text x="324.10" y="308.48" font-size="5.5" text-anchor="start" fill="#1c1c1c" font-style="italic" stroke="#1c1c1c" stroke-width="0.202">shIkzf1</text>
<line x1="356.10" y1="246.50" x2="361.10" y2="246.50" stroke="#111111" stroke-width="0.9"/>
<rect x="358.00" y="246.00" width="1.20" height="1.20" fill="#111111"/>
<text x="362.90" y="248.58" font-size="5.5" text-anchor="start" fill="#1c1c1c" font-style="italic" stroke="#1c1c1c" stroke-width="0.202">shNr3c1</text>
<line x1="356.10" y1="252.50" x2="361.10" y2="252.50" stroke="#86c44a" stroke-width="0.9"/>
<rect x="358.00" y="251.99" width="1.20" height="1.20" fill="#86c44a"/>
<text x="362.90" y="254.57" font-size="5.5" text-anchor="start" fill="#1c1c1c" font-style="italic" stroke="#1c1c1c" stroke-width="0.202">shWnt5a</text>
<line x1="356.10" y1="258.50" x2="361.10" y2="258.50" stroke="#a8ccf0" stroke-width="0.9"/>
<rect x="358.00" y="257.98" width="1.20" height="1.20" fill="#a8ccf0"/>
<text x="362.90" y="260.56" font-size="5.5" text-anchor="start" fill="#1c1c1c" font-style="italic" stroke="#1c1c1c" stroke-width="0.202">shGnas</text>
<line x1="356.10" y1="264.50" x2="361.10" y2="264.50" stroke="#cbc4ee" stroke-width="0.9"/>
<rect x="358.00" y="263.97" width="1.20" height="1.20" fill="#cbc4ee"/>
<text x="362.90" y="266.55" font-size="5.5" text-anchor="start" fill="#1c1c1c" font-style="italic" stroke="#1c1c1c" stroke-width="0.202">shAdsl</text>
<line x1="356.10" y1="270.50" x2="361.10" y2="270.50" stroke="#555555" stroke-width="0.9"/>
<rect x="358.00" y="269.96" width="1.20" height="1.20" fill="#555555"/>
<text x="362.90" y="272.54" font-size="5.5" text-anchor="start" fill="#1c1c1c" font-style="italic" stroke="#1c1c1c" stroke-width="0.202">shAdssl1</text>
<line x1="356.10" y1="276.50" x2="361.10" y2="276.50" stroke="#f0e030" stroke-width="0.9"/>
<rect x="358.00" y="275.95" width="1.20" height="1.20" fill="#f0e030"/>
<text x="362.90" y="278.53" font-size="5.5" text-anchor="start" fill="#1c1c1c" font-style="italic" stroke="#1c1c1c" stroke-width="0.202">shItgal</text>
<line x1="356.10" y1="282.50" x2="361.10" y2="282.50" stroke="#d4702a" stroke-width="0.9"/>
<rect x="358.00" y="281.94" width="1.20" height="1.20" fill="#d4702a"/>
<text x="362.90" y="284.52" font-size="5.5" text-anchor="start" fill="#1c1c1c" font-style="italic" stroke="#1c1c1c" stroke-width="0.202">shSele</text>
<line x1="356.10" y1="288.50" x2="361.10" y2="288.50" stroke="#dddddd" stroke-width="0.9"/>
<rect x="358.00" y="287.93" width="1.20" height="1.20" fill="#dddddd"/>
<text x="362.90" y="290.51" font-size="5.5" text-anchor="start" fill="#1c1c1c" font-style="italic" stroke="#1c1c1c" stroke-width="0.202">shItgb1</text>
<line x1="356.10" y1="294.50" x2="361.10" y2="294.50" stroke="#c4c426" stroke-width="0.9"/>
<rect x="358.00" y="293.92" width="1.20" height="1.20" fill="#c4c426"/>
<text x="362.90" y="296.50" font-size="5.5" text-anchor="start" fill="#1c1c1c" font-style="italic" stroke="#1c1c1c" stroke-width="0.202">shCreb1</text>
<line x1="356.10" y1="300.50" x2="361.10" y2="300.50" stroke="#3152c2" stroke-width="0.9"/>
<rect x="358.00" y="299.91" width="1.20" height="1.20" fill="#3152c2"/>
<text x="362.90" y="302.49" font-size="5.5" text-anchor="start" fill="#1c1c1c" font-style="italic" stroke="#1c1c1c" stroke-width="0.202">shRcan1</text>
<rect x="358.40" y="305.90" width="1.20" height="1.20" fill="#e02222"/>
<text x="362.90" y="308.48" font-size="5.5" text-anchor="start" fill="#1c1c1c" font-style="italic" stroke="#1c1c1c" stroke-width="0.202">shNcor2</text>
<line x1="392.00" y1="231.50" x2="506.50" y2="231.50" stroke="#333" stroke-width="0.9"/>
<line x1="392.00" y1="241.50" x2="506.50" y2="241.50" stroke="#333" stroke-width="0.9"/>
<text x="392.00" y="237.81" font-size="5.58" text-anchor="start" fill="#1c1c1c" stroke="#1c1c1c" stroke-width="0.208" textLength="31.00" lengthAdjust="spacingAndGlyphs">Gene/shRNA</text>
<text x="427.00" y="237.84" font-size="5.67" text-anchor="start" fill="#1c1c1c" stroke="#1c1c1c" stroke-width="0.214" textLength="20.20" lengthAdjust="spacingAndGlyphs">IC50 nM</text>
<text x="452.00" y="237.81" font-size="5.58" text-anchor="start" fill="#1c1c1c" stroke="#1c1c1c" stroke-width="0.208" textLength="31.00" lengthAdjust="spacingAndGlyphs">Gene/shRNA</text>
<text x="487.00" y="237.84" font-size="5.67" text-anchor="start" fill="#1c1c1c" stroke="#1c1c1c" stroke-width="0.214" textLength="20.20" lengthAdjust="spacingAndGlyphs">IC50 nM</text>
<text x="408.20" y="246.81" font-size="5.3" text-anchor="middle" fill="#1c1c1c" font-style="italic" stroke="#1c1c1c" stroke-width="0.187">Ns</text>
<text x="437.10" y="246.81" font-size="5.3" text-anchor="middle" fill="#1c1c1c" stroke="#1c1c1c" stroke-width="0.187">9.037</text>
<text x="467.20" y="246.81" font-size="5.3" text-anchor="middle" fill="#1c1c1c" font-style="italic" stroke="#1c1c1c" stroke-width="0.187">Nr3c1</text>
<text x="497.40" y="246.81" font-size="5.3" text-anchor="middle" fill="#1c1c1c" stroke="#1c1c1c" stroke-width="0.187">NA</text>
<text x="408.20" y="253.97" font-size="5.3" text-anchor="middle" fill="#1c1c1c" font-style="italic" stroke="#1c1c1c" stroke-width="0.187">Esrrb</text>
<text x="437.10" y="253.97" font-size="5.3" text-anchor="middle" fill="#1c1c1c" stroke="#1c1c1c" stroke-width="0.187">537.6</text>
<text x="467.20" y="253.97" font-size="5.3" text-anchor="middle" fill="#1c1c1c" font-style="italic" stroke="#1c1c1c" stroke-width="0.187">Wnt5a</text>
<text x="497.40" y="253.97" font-size="5.3" text-anchor="middle" fill="#1c1c1c" stroke="#1c1c1c" stroke-width="0.187">10.65</text>
<text x="408.20" y="261.13" font-size="5.3" text-anchor="middle" fill="#1c1c1c" font-style="italic" stroke="#1c1c1c" stroke-width="0.187">Olfr1294</text>
<text x="437.10" y="261.13" font-size="5.3" text-anchor="middle" fill="#1c1c1c" stroke="#1c1c1c" stroke-width="0.187">390.7</text>
<text x="467.20" y="261.13" font-size="5.3" text-anchor="middle" fill="#1c1c1c" font-style="italic" stroke="#1c1c1c" stroke-width="0.187">Gnas</text>
<text x="497.40" y="261.13" font-size="5.3" text-anchor="middle" fill="#1c1c1c" stroke="#1c1c1c" stroke-width="0.187">51.47</text>
<text x="408.20" y="268.29" font-size="5.3" text-anchor="middle" fill="#1c1c1c" font-style="italic" stroke="#1c1c1c" stroke-width="0.187">Klk1b1</text>
<text x="437.10" y="268.29" font-size="5.3" text-anchor="middle" fill="#1c1c1c" stroke="#1c1c1c" stroke-width="0.187">22.17</text>
<text x="467.20" y="268.29" font-size="5.3" text-anchor="middle" fill="#1c1c1c" font-style="italic" stroke="#1c1c1c" stroke-width="0.187">Adsl</text>
<text x="497.40" y="268.29" font-size="5.3" text-anchor="middle" fill="#1c1c1c" stroke="#1c1c1c" stroke-width="0.187">27.59</text>
<text x="408.20" y="275.45" font-size="5.3" text-anchor="middle" fill="#1c1c1c" font-style="italic" stroke="#1c1c1c" stroke-width="0.187">Rfx3</text>
<text x="437.10" y="275.45" font-size="5.3" text-anchor="middle" fill="#1c1c1c" stroke="#1c1c1c" stroke-width="0.187">31.03</text>
<text x="467.20" y="275.45" font-size="5.3" text-anchor="middle" fill="#1c1c1c" font-style="italic" stroke="#1c1c1c" stroke-width="0.187">Adssl1</text>
<text x="497.40" y="275.45" font-size="5.3" text-anchor="middle" fill="#1c1c1c" stroke="#1c1c1c" stroke-width="0.187">10.6</text>
<text x="408.20" y="282.61" font-size="5.3" text-anchor="middle" fill="#1c1c1c" font-style="italic" stroke="#1c1c1c" stroke-width="0.187">Stat3</text>
<text x="437.10" y="282.61" font-size="5.3" text-anchor="middle" fill="#1c1c1c" stroke="#1c1c1c" stroke-width="0.187">735.1</text>
<text x="467.20" y="282.61" font-size="5.3" text-anchor="middle" fill="#1c1c1c" font-style="italic" stroke="#1c1c1c" stroke-width="0.187">Itgal</text>
<text x="497.40" y="282.61" font-size="5.3" text-anchor="middle" fill="#1c1c1c" stroke="#1c1c1c" stroke-width="0.187">5.26</text>
<text x="408.20" y="289.77" font-size="5.3" text-anchor="middle" fill="#1c1c1c" font-style="italic" stroke="#1c1c1c" stroke-width="0.187">Icam4</text>
<text x="437.10" y="289.77" font-size="5.3" text-anchor="middle" fill="#1c1c1c" stroke="#1c1c1c" stroke-width="0.187">534.8</text>
<text x="467.20" y="289.77" font-size="5.3" text-anchor="middle" fill="#1c1c1c" font-style="italic" stroke="#1c1c1c" stroke-width="0.187">Sele</text>
<text x="497.40" y="289.77" font-size="5.3" text-anchor="middle" fill="#1c1c1c" stroke="#1c1c1c" stroke-width="0.187">31.56</text>
<text x="408.20" y="296.93" font-size="5.3" text-anchor="middle" fill="#1c1c1c" font-style="italic" stroke="#1c1c1c" stroke-width="0.187">Ppp5re2</text>
<text x="437.10" y="296.93" font-size="5.3" text-anchor="middle" fill="#1c1c1c" stroke="#1c1c1c" stroke-width="0.187">28.56</text>
<text x="467.20" y="296.93" font-size="5.3" text-anchor="middle" fill="#1c1c1c" font-style="italic" stroke="#1c1c1c" stroke-width="0.187">Itgb1</text>
<text x="497.40" y="296.93" font-size="5.3" text-anchor="middle" fill="#1c1c1c" stroke="#1c1c1c" stroke-width="0.187">7.287</text>
<text x="408.20" y="304.09" font-size="5.3" text-anchor="middle" fill="#1c1c1c" font-style="italic" stroke="#1c1c1c" stroke-width="0.187">Sox2</text>
<text x="437.10" y="304.09" font-size="5.3" text-anchor="middle" fill="#1c1c1c" stroke="#1c1c1c" stroke-width="0.187">371.3</text>
<text x="467.20" y="304.09" font-size="5.3" text-anchor="middle" fill="#1c1c1c" font-style="italic" stroke="#1c1c1c" stroke-width="0.187">Creb1</text>
<text x="497.40" y="304.09" font-size="5.3" text-anchor="middle" fill="#1c1c1c" stroke="#1c1c1c" stroke-width="0.187">5.83</text>
<text x="408.20" y="311.25" font-size="5.3" text-anchor="middle" fill="#1c1c1c" font-style="italic" stroke="#1c1c1c" stroke-width="0.187">Ep300</text>
<text x="437.10" y="311.25" font-size="5.3" text-anchor="middle" fill="#1c1c1c" stroke="#1c1c1c" stroke-width="0.187">11.19</text>
<text x="467.20" y="311.25" font-size="5.3" text-anchor="middle" fill="#1c1c1c" font-style="italic" stroke="#1c1c1c" stroke-width="0.187">Rcan1</text>
<text x="497.40" y="311.25" font-size="5.3" text-anchor="middle" fill="#1c1c1c" stroke="#1c1c1c" stroke-width="0.187">18.92</text>
<text x="408.20" y="318.41" font-size="5.3" text-anchor="middle" fill="#1c1c1c" font-style="italic" stroke="#1c1c1c" stroke-width="0.187">Ikzf1</text>
<text x="437.10" y="318.41" font-size="5.3" text-anchor="middle" fill="#1c1c1c" stroke="#1c1c1c" stroke-width="0.187">841.6</text>
<text x="467.20" y="318.41" font-size="5.3" text-anchor="middle" fill="#1c1c1c" font-style="italic" stroke="#1c1c1c" stroke-width="0.187">Ncor2</text>
<text x="497.40" y="318.41" font-size="5.3" text-anchor="middle" fill="#1c1c1c" stroke="#1c1c1c" stroke-width="0.187">26.77</text>
<text x="6.80" y="377.88" font-size="11" font-weight="bold" fill="#000">J</text>
<text x="49.30" y="379.62" font-size="5.61" text-anchor="start" fill="#1c1c1c" stroke="#1c1c1c" stroke-width="0.210" textLength="24.70" lengthAdjust="spacingAndGlyphs">272 genes</text>
<path d="M73.7 448.7h1.15v1.15h-1.15zM81.4 448.0h1.15v1.15h-1.15zM66.7 449.8h1.15v1.15h-1.15zM66.2 453.7h1.15v1.15h-1.15zM70.3 439.7h1.15v1.15h-1.15zM82.5 421.4h1.15v1.15h-1.15zM83.3 447.3h1.15v1.15h-1.15zM83.5 456.9h1.15v1.15h-1.15zM74.4 454.6h1.15v1.15h-1.15zM71.1 437.6h1.15v1.15h-1.15zM78.6 446.5h1.15v1.15h-1.15zM70.6 454.1h1.15v1.15h-1.15zM82.5 429.8h1.15v1.15h-1.15zM67.7 453.9h1.15v1.15h-1.15zM66.4 441.9h1.15v1.15h-1.15zM72.7 423.3h1.15v1.15h-1.15zM74.5 415.1h1.15v1.15h-1.15zM66.3 456.8h1.15v1.15h-1.15zM66.1 456.6h1.15v1.15h-1.15zM70.6 421.6h1.15v1.15h-1.15zM68.8 456.4h1.15v1.15h-1.15zM72.1 440.3h1.15v1.15h-1.15zM74.6 455.3h1.15v1.15h-1.15zM81.9 456.1h1.15v1.15h-1.15zM69.2 455.0h1.15v1.15h-1.15zM71.1 419.3h1.15v1.15h-1.15zM80.2 455.0h1.15v1.15h-1.15zM69.9 436.8h1.15v1.15h-1.15zM81.7 455.0h1.15v1.15h-1.15zM69.5 441.6h1.15v1.15h-1.15zM73.2 456.6h1.15v1.15h-1.15zM80.3 454.6h1.15v1.15h-1.15zM69.5 423.0h1.15v1.15h-1.15zM71.9 448.3h1.15v1.15h-1.15zM69.6 431.7h1.15v1.15h-1.15zM85.1 454.5h1.15v1.15h-1.15zM88.3 455.2h1.15v1.15h-1.15zM81.1 434.5h1.15v1.15h-1.15zM82.2 454.6h1.15v1.15h-1.15zM80.7 447.8h1.15v1.15h-1.15zM70.3 455.5h1.15v1.15h-1.15zM69.4 448.7h1.15v1.15h-1.15zM81.7 447.3h1.15v1.15h-1.15zM72.1 456.9h1.15v1.15h-1.15zM86.0 456.1h1.15v1.15h-1.15zM73.8 433.6h1.15v1.15h-1.15zM82.4 448.1h1.15v1.15h-1.15zM82.6 450.5h1.15v1.15h-1.15zM79.9 456.7h1.15v1.15h-1.15zM86.7 443.1h1.15v1.15h-1.15zM80.5 440.5h1.15v1.15h-1.15zM80.1 452.9h1.15v1.15h-1.15zM80.0 451.8h1.15v1.15h-1.15zM80.8 448.4h1.15v1.15h-1.15zM80.9 447.4h1.15v1.15h-1.15zM73.0 446.6h1.15v1.15h-1.15zM70.4 443.2h1.15v1.15h-1.15zM83.7 451.3h1.15v1.15h-1.15zM83.6 450.5h1.15v1.15h-1.15zM75.2 447.3h1.15v1.15h-1.15zM85.9 454.4h1.15v1.15h-1.15zM83.2 455.1h1.15v1.15h-1.15zM69.4 432.1h1.15v1.15h-1.15zM79.9 453.3h1.15v1.15h-1.15zM77.2 455.2h1.15v1.15h-1.15zM84.7 434.6h1.15v1.15h-1.15zM69.9 448.1h1.15v1.15h-1.15zM71.8 438.0h1.15v1.15h-1.15zM85.2 444.2h1.15v1.15h-1.15zM69.8 451.1h1.15v1.15h-1.15zM66.4 455.0h1.15v1.15h-1.15zM73.0 453.5h1.15v1.15h-1.15zM82.3 414.1h1.15v1.15h-1.15zM70.9 435.3h1.15v1.15h-1.15zM68.4 444.3h1.15v1.15h-1.15zM74.8 451.0h1.15v1.15h-1.15zM79.7 451.2h1.15v1.15h-1.15zM81.0 423.2h1.15v1.15h-1.15zM80.8 455.2h1.15v1.15h-1.15zM70.9 450.7h1.15v1.15h-1.15zM82.5 455.5h1.15v1.15h-1.15zM85.9 449.6h1.15v1.15h-1.15zM79.2 442.3h1.15v1.15h-1.15zM86.9 456.6h1.15v1.15h-1.15zM85.1 443.7h1.15v1.15h-1.15zM84.6 431.6h1.15v1.15h-1.15zM74.6 448.5h1.15v1.15h-1.15zM79.0 450.9h1.15v1.15h-1.15zM81.9 455.1h1.15v1.15h-1.15zM77.9 443.9h1.15v1.15h-1.15zM73.7 432.7h1.15v1.15h-1.15zM81.8 453.4h1.15v1.15h-1.15zM82.4 436.6h1.15v1.15h-1.15zM71.6 448.9h1.15v1.15h-1.15zM88.7 450.4h1.15v1.15h-1.15zM71.4 440.2h1.15v1.15h-1.15zM71.0 453.2h1.15v1.15h-1.15zM68.9 449.7h1.15v1.15h-1.15zM80.8 437.8h1.15v1.15h-1.15zM66.5 425.4h1.15v1.15h-1.15zM67.8 454.9h1.15v1.15h-1.15zM82.6 446.6h1.15v1.15h-1.15zM81.0 437.5h1.15v1.15h-1.15zM69.8 437.4h1.15v1.15h-1.15zM88.4 455.1h1.15v1.15h-1.15zM77.9 448.4h1.15v1.15h-1.15zM82.4 450.0h1.15v1.15h-1.15zM82.5 449.7h1.15v1.15h-1.15zM67.8 440.1h1.15v1.15h-1.15zM81.4 456.9h1.15v1.15h-1.15zM90.2 451.8h1.15v1.15h-1.15zM68.6 450.7h1.15v1.15h-1.15zM73.4 451.4h1.15v1.15h-1.15zM63.9 453.5h1.15v1.15h-1.15zM72.0 447.2h1.15v1.15h-1.15zM69.4 454.8h1.15v1.15h-1.15zM68.1 447.1h1.15v1.15h-1.15zM73.0 443.4h1.15v1.15h-1.15zM73.5 455.2h1.15v1.15h-1.15zM80.6 451.4h1.15v1.15h-1.15zM85.6 455.7h1.15v1.15h-1.15zM68.2 446.8h1.15v1.15h-1.15zM80.1 447.4h1.15v1.15h-1.15zM82.6 454.7h1.15v1.15h-1.15zM78.3 453.5h1.15v1.15h-1.15zM90.3 454.9h1.15v1.15h-1.15zM70.5 454.6h1.15v1.15h-1.15zM88.3 454.3h1.15v1.15h-1.15zM73.4 440.7h1.15v1.15h-1.15zM70.3 452.0h1.15v1.15h-1.15zM70.1 445.2h1.15v1.15h-1.15zM84.6 420.2h1.15v1.15h-1.15zM85.5 450.0h1.15v1.15h-1.15zM84.5 455.3h1.15v1.15h-1.15zM71.2 448.9h1.15v1.15h-1.15zM84.2 448.5h1.15v1.15h-1.15zM71.8 437.8h1.15v1.15h-1.15zM83.6 429.3h1.15v1.15h-1.15zM83.6 450.9h1.15v1.15h-1.15zM79.0 453.3h1.15v1.15h-1.15zM71.3 447.7h1.15v1.15h-1.15zM71.6 444.5h1.15v1.15h-1.15zM69.1 443.0h1.15v1.15h-1.15zM72.7 455.2h1.15v1.15h-1.15zM72.8 433.4h1.15v1.15h-1.15zM85.6 444.4h1.15v1.15h-1.15zM67.3 447.7h1.15v1.15h-1.15zM83.5 413.7h1.15v1.15h-1.15zM81.0 442.8h1.15v1.15h-1.15zM78.5 439.4h1.15v1.15h-1.15zM86.4 444.8h1.15v1.15h-1.15zM79.4 441.9h1.15v1.15h-1.15zM73.6 453.1h1.15v1.15h-1.15zM86.9 454.7h1.15v1.15h-1.15zM80.7 445.7h1.15v1.15h-1.15zM86.9 449.4h1.15v1.15h-1.15zM69.4 436.4h1.15v1.15h-1.15zM82.1 454.4h1.15v1.15h-1.15zM71.2 452.5h1.15v1.15h-1.15zM74.2 454.5h1.15v1.15h-1.15zM81.7 420.7h1.15v1.15h-1.15zM83.3 436.5h1.15v1.15h-1.15zM82.0 442.2h1.15v1.15h-1.15zM71.7 428.8h1.15v1.15h-1.15zM73.6 450.2h1.15v1.15h-1.15zM86.5 456.9h1.15v1.15h-1.15zM81.9 447.7h1.15v1.15h-1.15zM68.1 454.0h1.15v1.15h-1.15zM67.6 444.0h1.15v1.15h-1.15zM71.4 442.4h1.15v1.15h-1.15zM70.6 433.0h1.15v1.15h-1.15zM82.4 426.3h1.15v1.15h-1.15zM68.4 432.1h1.15v1.15h-1.15zM84.7 454.6h1.15v1.15h-1.15zM82.6 427.6h1.15v1.15h-1.15zM80.2 439.2h1.15v1.15h-1.15zM80.2 456.3h1.15v1.15h-1.15zM67.8 457.0h1.15v1.15h-1.15zM78.0 456.2h1.15v1.15h-1.15zM72.4 454.3h1.15v1.15h-1.15zM83.7 451.7h1.15v1.15h-1.15zM80.8 424.6h1.15v1.15h-1.15zM88.5 454.6h1.15v1.15h-1.15zM87.1 447.0h1.15v1.15h-1.15zM68.8 454.2h1.15v1.15h-1.15zM79.4 446.7h1.15v1.15h-1.15zM83.0 455.3h1.15v1.15h-1.15zM89.3 434.8h1.15v1.15h-1.15zM70.1 456.9h1.15v1.15h-1.15zM86.7 456.4h1.15v1.15h-1.15zM87.6 456.8h1.15v1.15h-1.15zM85.3 446.8h1.15v1.15h-1.15zM71.3 450.5h1.15v1.15h-1.15zM85.2 437.9h1.15v1.15h-1.15zM72.4 456.2h1.15v1.15h-1.15zM78.4 455.0h1.15v1.15h-1.15zM71.8 454.4h1.15v1.15h-1.15zM80.3 446.8h1.15v1.15h-1.15zM85.5 442.8h1.15v1.15h-1.15zM68.8 456.5h1.15v1.15h-1.15zM87.0 456.7h1.15v1.15h-1.15zM72.4 445.1h1.15v1.15h-1.15zM72.2 441.4h1.15v1.15h-1.15zM84.1 456.7h1.15v1.15h-1.15zM69.8 443.6h1.15v1.15h-1.15zM68.0 452.8h1.15v1.15h-1.15zM86.9 452.7h1.15v1.15h-1.15zM85.1 430.5h1.15v1.15h-1.15zM79.6 431.1h1.15v1.15h-1.15zM72.9 453.5h1.15v1.15h-1.15zM71.7 428.1h1.15v1.15h-1.15zM69.0 452.7h1.15v1.15h-1.15zM68.9 452.1h1.15v1.15h-1.15zM84.1 440.3h1.15v1.15h-1.15zM81.6 438.0h1.15v1.15h-1.15zM82.4 434.6h1.15v1.15h-1.15zM82.8 420.9h1.15v1.15h-1.15zM86.0 439.9h1.15v1.15h-1.15zM84.8 456.6h1.15v1.15h-1.15zM71.5 443.1h1.15v1.15h-1.15zM82.1 455.9h1.15v1.15h-1.15zM83.0 446.3h1.15v1.15h-1.15zM85.2 449.6h1.15v1.15h-1.15zM78.4 452.2h1.15v1.15h-1.15zM90.1 450.2h1.15v1.15h-1.15zM81.4 443.8h1.15v1.15h-1.15zM65.2 438.7h1.15v1.15h-1.15zM84.5 436.8h1.15v1.15h-1.15zM79.7 423.4h1.15v1.15h-1.15zM81.6 449.6h1.15v1.15h-1.15zM64.9 451.7h1.15v1.15h-1.15zM73.3 443.0h1.15v1.15h-1.15zM70.4 455.1h1.15v1.15h-1.15zM71.8 453.9h1.15v1.15h-1.15zM70.4 456.3h1.15v1.15h-1.15zM83.4 441.4h1.15v1.15h-1.15zM71.6 448.1h1.15v1.15h-1.15zM72.0 454.7h1.15v1.15h-1.15zM83.3 447.8h1.15v1.15h-1.15zM72.8 455.5h1.15v1.15h-1.15zM78.9 453.6h1.15v1.15h-1.15zM69.4 434.0h1.15v1.15h-1.15zM78.9 453.1h1.15v1.15h-1.15zM80.6 440.1h1.15v1.15h-1.15zM85.8 454.1h1.15v1.15h-1.15zM83.0 446.0h1.15v1.15h-1.15zM71.1 452.6h1.15v1.15h-1.15zM81.7 444.1h1.15v1.15h-1.15zM69.4 453.4h1.15v1.15h-1.15zM67.3 435.6h1.15v1.15h-1.15zM82.5 454.2h1.15v1.15h-1.15zM83.0 455.8h1.15v1.15h-1.15zM82.9 437.3h1.15v1.15h-1.15zM82.3 456.7h1.15v1.15h-1.15zM75.7 450.5h1.15v1.15h-1.15zM67.5 423.9h1.15v1.15h-1.15zM67.9 440.7h1.15v1.15h-1.15zM73.8 430.7h1.15v1.15h-1.15zM73.8 449.1h1.15v1.15h-1.15zM84.5 455.7h1.15v1.15h-1.15zM67.9 456.7h1.15v1.15h-1.15zM69.9 450.8h1.15v1.15h-1.15zM79.7 456.4h1.15v1.15h-1.15zM73.3 450.9h1.15v1.15h-1.15zM69.3 452.5h1.15v1.15h-1.15zM79.5 454.7h1.15v1.15h-1.15zM69.7 431.2h1.15v1.15h-1.15zM69.9 447.2h1.15v1.15h-1.15zM86.2 453.8h1.15v1.15h-1.15zM69.3 452.2h1.15v1.15h-1.15zM68.7 443.4h1.15v1.15h-1.15zM67.9 426.2h1.15v1.15h-1.15zM69.1 438.6h1.15v1.15h-1.15zM75.0 455.9h1.15v1.15h-1.15zM85.9 455.4h1.15v1.15h-1.15zM69.7 438.0h1.15v1.15h-1.15zM69.7 455.7h1.15v1.15h-1.15zM74.1 451.9h1.15v1.15h-1.15zM85.9 446.3h1.15v1.15h-1.15zM81.3 439.0h1.15v1.15h-1.15zM75.6 444.6h1.15v1.15h-1.15zM82.4 447.4h1.15v1.15h-1.15zM67.9 453.2h1.15v1.15h-1.15zM74.6 452.5h1.15v1.15h-1.15zM84.6 440.8h1.15v1.15h-1.15zM67.3 441.9h1.15v1.15h-1.15zM80.8 449.0h1.15v1.15h-1.15zM73.3 444.1h1.15v1.15h-1.15zM81.7 449.7h1.15v1.15h-1.15zM67.2 426.2h1.15v1.15h-1.15zM85.3 455.2h1.15v1.15h-1.15zM84.1 444.7h1.15v1.15h-1.15zM69.2 429.0h1.15v1.15h-1.15zM72.1 418.3h1.15v1.15h-1.15zM68.0 432.2h1.15v1.15h-1.15zM81.8 454.3h1.15v1.15h-1.15zM82.2 430.6h1.15v1.15h-1.15zM81.9 453.9h1.15v1.15h-1.15zM77.8 454.6h1.15v1.15h-1.15zM80.0 456.7h1.15v1.15h-1.15zM73.3 455.4h1.15v1.15h-1.15zM70.0 445.6h1.15v1.15h-1.15zM78.0 452.4h1.15v1.15h-1.15zM67.1 455.2h1.15v1.15h-1.15zM67.1 455.9h1.15v1.15h-1.15zM73.3 449.7h1.15v1.15h-1.15zM68.4 448.5h1.15v1.15h-1.15zM74.2 445.6h1.15v1.15h-1.15zM68.9 423.0h1.15v1.15h-1.15zM68.6 447.0h1.15v1.15h-1.15zM83.0 442.2h1.15v1.15h-1.15zM80.2 437.9h1.15v1.15h-1.15zM79.1 451.9h1.15v1.15h-1.15zM84.6 449.5h1.15v1.15h-1.15zM85.4 451.5h1.15v1.15h-1.15zM69.2 443.6h1.15v1.15h-1.15zM79.2 443.3h1.15v1.15h-1.15zM67.7 447.9h1.15v1.15h-1.15zM66.6 456.2h1.15v1.15h-1.15zM72.0 457.0h1.15v1.15h-1.15zM83.2 449.5h1.15v1.15h-1.15zM73.6 454.7h1.15v1.15h-1.15zM73.6 431.4h1.15v1.15h-1.15zM82.0 451.7h1.15v1.15h-1.15zM82.9 454.9h1.15v1.15h-1.15zM78.4 456.5h1.15v1.15h-1.15zM77.2 456.2h1.15v1.15h-1.15zM68.6 453.7h1.15v1.15h-1.15zM74.2 456.9h1.15v1.15h-1.15zM67.1 448.1h1.15v1.15h-1.15zM69.6 428.2h1.15v1.15h-1.15zM83.7 450.7h1.15v1.15h-1.15zM84.7 433.0h1.15v1.15h-1.15zM68.9 437.9h1.15v1.15h-1.15zM72.6 434.7h1.15v1.15h-1.15zM81.5 455.1h1.15v1.15h-1.15zM68.3 443.6h1.15v1.15h-1.15zM88.6 444.1h1.15v1.15h-1.15zM73.5 444.7h1.15v1.15h-1.15zM69.2 454.9h1.15v1.15h-1.15zM71.2 444.2h1.15v1.15h-1.15zM72.3 445.8h1.15v1.15h-1.15zM79.3 452.6h1.15v1.15h-1.15zM78.3 454.8h1.15v1.15h-1.15zM82.3 445.7h1.15v1.15h-1.15zM73.2 413.5h1.15v1.15h-1.15zM69.7 449.5h1.15v1.15h-1.15zM82.8 454.0h1.15v1.15h-1.15zM72.4 440.0h1.15v1.15h-1.15zM84.5 454.5h1.15v1.15h-1.15zM73.2 449.0h1.15v1.15h-1.15zM65.9 442.6h1.15v1.15h-1.15zM73.7 455.4h1.15v1.15h-1.15zM79.8 452.8h1.15v1.15h-1.15zM78.3 450.0h1.15v1.15h-1.15zM77.8 445.1h1.15v1.15h-1.15zM81.9 455.6h1.15v1.15h-1.15zM77.4 454.7h1.15v1.15h-1.15zM84.6 440.7h1.15v1.15h-1.15zM71.4 450.3h1.15v1.15h-1.15zM77.8 444.0h1.15v1.15h-1.15zM67.4 455.8h1.15v1.15h-1.15zM67.4 450.2h1.15v1.15h-1.15zM71.7 440.3h1.15v1.15h-1.15zM68.2 431.9h1.15v1.15h-1.15zM81.2 454.7h1.15v1.15h-1.15zM73.4 453.6h1.15v1.15h-1.15zM83.7 449.5h1.15v1.15h-1.15zM75.4 448.0h1.15v1.15h-1.15zM74.0 454.4h1.15v1.15h-1.15zM73.1 444.9h1.15v1.15h-1.15zM65.5 451.9h1.15v1.15h-1.15zM71.6 455.0h1.15v1.15h-1.15zM70.4 442.1h1.15v1.15h-1.15zM77.4 455.9h1.15v1.15h-1.15zM72.2 454.6h1.15v1.15h-1.15zM80.7 455.9h1.15v1.15h-1.15zM72.5 456.7h1.15v1.15h-1.15zM70.4 432.4h1.15v1.15h-1.15zM68.4 448.9h1.15v1.15h-1.15zM73.4 450.9h1.15v1.15h-1.15zM69.9 414.6h1.15v1.15h-1.15zM73.4 453.0h1.15v1.15h-1.15zM78.9 436.0h1.15v1.15h-1.15zM66.9 452.2h1.15v1.15h-1.15zM83.4 452.4h1.15v1.15h-1.15zM68.2 455.4h1.15v1.15h-1.15zM83.7 455.7h1.15v1.15h-1.15zM72.9 453.6h1.15v1.15h-1.15zM71.6 435.1h1.15v1.15h-1.15zM68.7 456.8h1.15v1.15h-1.15zM82.9 452.7h1.15v1.15h-1.15zM71.3 454.3h1.15v1.15h-1.15zM70.3 429.8h1.15v1.15h-1.15zM67.9 455.8h1.15v1.15h-1.15zM83.5 452.8h1.15v1.15h-1.15zM74.5 452.3h1.15v1.15h-1.15zM86.3 449.7h1.15v1.15h-1.15zM70.7 452.2h1.15v1.15h-1.15zM71.5 447.8h1.15v1.15h-1.15zM66.8 453.5h1.15v1.15h-1.15zM72.2 444.3h1.15v1.15h-1.15zM69.8 443.6h1.15v1.15h-1.15zM68.9 454.0h1.15v1.15h-1.15zM78.0 452.0h1.15v1.15h-1.15zM75.1 453.9h1.15v1.15h-1.15zM71.3 455.0h1.15v1.15h-1.15zM83.2 448.6h1.15v1.15h-1.15zM82.2 417.4h1.15v1.15h-1.15zM87.9 455.0h1.15v1.15h-1.15zM88.6 445.7h1.15v1.15h-1.15zM68.9 446.8h1.15v1.15h-1.15zM69.7 451.6h1.15v1.15h-1.15zM71.3 453.3h1.15v1.15h-1.15zM72.5 454.0h1.15v1.15h-1.15zM73.6 455.6h1.15v1.15h-1.15zM85.6 454.6h1.15v1.15h-1.15zM72.4 455.8h1.15v1.15h-1.15zM78.8 444.5h1.15v1.15h-1.15zM68.9 452.2h1.15v1.15h-1.15zM69.6 456.9h1.15v1.15h-1.15zM71.2 448.1h1.15v1.15h-1.15zM70.6 453.3h1.15v1.15h-1.15zM71.1 433.5h1.15v1.15h-1.15zM81.9 454.3h1.15v1.15h-1.15zM68.9 447.3h1.15v1.15h-1.15zM80.0 452.7h1.15v1.15h-1.15zM79.7 447.1h1.15v1.15h-1.15zM69.6 451.8h1.15v1.15h-1.15zM89.2 452.4h1.15v1.15h-1.15zM73.6 452.8h1.15v1.15h-1.15zM83.9 455.8h1.15v1.15h-1.15zM85.3 454.7h1.15v1.15h-1.15zM68.8 449.1h1.15v1.15h-1.15zM71.9 446.2h1.15v1.15h-1.15zM77.7 447.0h1.15v1.15h-1.15zM80.6 453.2h1.15v1.15h-1.15zM69.2 434.1h1.15v1.15h-1.15zM87.2 445.0h1.15v1.15h-1.15zM84.9 438.8h1.15v1.15h-1.15zM74.2 448.6h1.15v1.15h-1.15zM70.6 454.0h1.15v1.15h-1.15zM66.3 454.5h1.15v1.15h-1.15zM68.8 455.5h1.15v1.15h-1.15zM70.4 456.8h1.15v1.15h-1.15zM73.0 444.4h1.15v1.15h-1.15zM85.3 450.5h1.15v1.15h-1.15zM71.1 435.8h1.15v1.15h-1.15zM69.8 449.9h1.15v1.15h-1.15zM82.4 452.2h1.15v1.15h-1.15zM80.5 453.3h1.15v1.15h-1.15zM73.4 442.2h1.15v1.15h-1.15zM77.8 451.7h1.15v1.15h-1.15zM85.6 447.0h1.15v1.15h-1.15zM65.4 452.5h1.15v1.15h-1.15zM83.2 454.7h1.15v1.15h-1.15zM83.3 427.0h1.15v1.15h-1.15zM81.6 456.0h1.15v1.15h-1.15zM79.8 452.1h1.15v1.15h-1.15zM85.7 409.0h1.15v1.15h-1.15zM72.0 443.4h1.15v1.15h-1.15zM81.1 450.5h1.15v1.15h-1.15zM84.5 437.9h1.15v1.15h-1.15zM66.4 452.2h1.15v1.15h-1.15zM79.2 452.3h1.15v1.15h-1.15zM83.5 449.1h1.15v1.15h-1.15zM68.7 456.4h1.15v1.15h-1.15zM81.2 454.5h1.15v1.15h-1.15zM81.0 455.9h1.15v1.15h-1.15zM68.8 450.5h1.15v1.15h-1.15zM71.8 454.3h1.15v1.15h-1.15zM83.4 453.6h1.15v1.15h-1.15zM58.6 455.4h1.15v1.15h-1.15zM71.4 435.8h1.15v1.15h-1.15zM71.8 451.8h1.15v1.15h-1.15zM67.7 448.9h1.15v1.15h-1.15zM81.8 447.0h1.15v1.15h-1.15zM89.4 442.9h1.15v1.15h-1.15zM83.3 443.6h1.15v1.15h-1.15zM71.3 456.2h1.15v1.15h-1.15zM70.7 452.8h1.15v1.15h-1.15zM72.8 423.0h1.15v1.15h-1.15zM83.2 440.6h1.15v1.15h-1.15zM85.0 452.1h1.15v1.15h-1.15zM79.8 411.5h1.15v1.15h-1.15zM68.3 425.1h1.15v1.15h-1.15zM72.5 431.6h1.15v1.15h-1.15zM71.0 448.3h1.15v1.15h-1.15zM73.5 446.0h1.15v1.15h-1.15zM81.0 452.7h1.15v1.15h-1.15zM69.1 432.1h1.15v1.15h-1.15zM67.6 456.5h1.15v1.15h-1.15zM74.5 442.9h1.15v1.15h-1.15zM83.6 445.3h1.15v1.15h-1.15zM72.0 452.9h1.15v1.15h-1.15zM70.5 449.3h1.15v1.15h-1.15zM85.2 455.1h1.15v1.15h-1.15zM80.8 456.3h1.15v1.15h-1.15zM85.2 451.5h1.15v1.15h-1.15zM70.1 444.3h1.15v1.15h-1.15zM66.9 454.1h1.15v1.15h-1.15zM62.9 455.4h1.15v1.15h-1.15zM68.4 452.7h1.15v1.15h-1.15zM80.4 455.0h1.15v1.15h-1.15zM84.9 434.0h1.15v1.15h-1.15zM79.6 448.5h1.15v1.15h-1.15zM69.6 437.9h1.15v1.15h-1.15zM79.6 451.7h1.15v1.15h-1.15zM66.9 454.8h1.15v1.15h-1.15zM79.3 451.2h1.15v1.15h-1.15zM80.4 455.8h1.15v1.15h-1.15zM69.2 433.2h1.15v1.15h-1.15zM88.0 452.0h1.15v1.15h-1.15zM87.1 456.1h1.15v1.15h-1.15zM70.4 437.8h1.15v1.15h-1.15zM84.5 427.6h1.15v1.15h-1.15zM77.5 455.4h1.15v1.15h-1.15zM83.0 444.1h1.15v1.15h-1.15zM72.5 449.3h1.15v1.15h-1.15zM69.8 454.0h1.15v1.15h-1.15zM82.2 440.9h1.15v1.15h-1.15zM72.7 454.6h1.15v1.15h-1.15zM80.5 449.0h1.15v1.15h-1.15zM81.9 455.8h1.15v1.15h-1.15zM71.7 453.0h1.15v1.15h-1.15zM84.1 438.2h1.15v1.15h-1.15zM71.6 437.1h1.15v1.15h-1.15zM88.7 432.5h1.15v1.15h-1.15zM74.5 446.9h1.15v1.15h-1.15zM84.3 443.5h1.15v1.15h-1.15zM69.9 446.8h1.15v1.15h-1.15zM87.7 455.4h1.15v1.15h-1.15zM69.1 444.8h1.15v1.15h-1.15zM70.8 427.0h1.15v1.15h-1.15zM86.6 452.8h1.15v1.15h-1.15zM91.5 443.2h1.15v1.15h-1.15zM69.0 453.6h1.15v1.15h-1.15zM84.0 451.6h1.15v1.15h-1.15zM79.2 451.9h1.15v1.15h-1.15zM84.1 453.0h1.15v1.15h-1.15zM80.5 454.7h1.15v1.15h-1.15zM81.6 453.9h1.15v1.15h-1.15zM78.6 445.4h1.15v1.15h-1.15zM85.0 447.6h1.15v1.15h-1.15zM68.0 456.9h1.15v1.15h-1.15zM71.3 424.2h1.15v1.15h-1.15zM69.6 444.8h1.15v1.15h-1.15zM68.2 456.1h1.15v1.15h-1.15zM80.2 454.5h1.15v1.15h-1.15zM84.0 437.1h1.15v1.15h-1.15zM88.4 449.1h1.15v1.15h-1.15zM74.8 452.7h1.15v1.15h-1.15zM69.3 443.7h1.15v1.15h-1.15zM81.5 425.3h1.15v1.15h-1.15zM67.8 446.7h1.15v1.15h-1.15zM71.2 453.5h1.15v1.15h-1.15zM91.2 447.5h1.15v1.15h-1.15zM81.3 452.2h1.15v1.15h-1.15zM79.9 446.2h1.15v1.15h-1.15zM59.9 450.9h1.15v1.15h-1.15zM72.4 446.0h1.15v1.15h-1.15zM75.2 452.6h1.15v1.15h-1.15zM72.0 442.9h1.15v1.15h-1.15zM83.9 447.0h1.15v1.15h-1.15zM85.1 454.4h1.15v1.15h-1.15zM77.6 456.2h1.15v1.15h-1.15zM64.4 452.9h1.15v1.15h-1.15zM87.2 449.3h1.15v1.15h-1.15zM74.2 449.9h1.15v1.15h-1.15zM71.5 448.5h1.15v1.15h-1.15zM84.1 453.8h1.15v1.15h-1.15zM82.0 454.5h1.15v1.15h-1.15zM71.2 451.1h1.15v1.15h-1.15zM83.9 450.9h1.15v1.15h-1.15zM81.6 455.8h1.15v1.15h-1.15zM79.4 449.5h1.15v1.15h-1.15zM84.4 421.7h1.15v1.15h-1.15zM87.3 444.1h1.15v1.15h-1.15zM72.1 449.4h1.15v1.15h-1.15zM70.8 421.0h1.15v1.15h-1.15zM85.4 437.2h1.15v1.15h-1.15zM71.6 454.3h1.15v1.15h-1.15zM69.5 430.4h1.15v1.15h-1.15zM85.2 434.0h1.15v1.15h-1.15zM78.6 448.5h1.15v1.15h-1.15zM70.6 443.1h1.15v1.15h-1.15zM67.2 452.6h1.15v1.15h-1.15zM72.2 451.5h1.15v1.15h-1.15zM82.0 449.0h1.15v1.15h-1.15zM73.3 454.9h1.15v1.15h-1.15zM72.4 450.4h1.15v1.15h-1.15zM70.2 442.6h1.15v1.15h-1.15zM70.6 420.9h1.15v1.15h-1.15zM73.4 447.9h1.15v1.15h-1.15zM82.2 452.6h1.15v1.15h-1.15zM68.4 447.4h1.15v1.15h-1.15zM69.1 449.7h1.15v1.15h-1.15zM85.3 457.0h1.15v1.15h-1.15zM71.7 440.4h1.15v1.15h-1.15zM69.0 436.3h1.15v1.15h-1.15zM84.7 456.6h1.15v1.15h-1.15zM82.0 438.3h1.15v1.15h-1.15zM85.0 440.8h1.15v1.15h-1.15zM83.1 457.0h1.15v1.15h-1.15zM82.0 448.9h1.15v1.15h-1.15zM89.9 446.6h1.15v1.15h-1.15zM84.0 448.2h1.15v1.15h-1.15zM67.0 443.1h1.15v1.15h-1.15zM84.5 430.7h1.15v1.15h-1.15zM66.5 441.1h1.15v1.15h-1.15zM72.6 451.2h1.15v1.15h-1.15zM68.1 456.2h1.15v1.15h-1.15zM72.7 456.3h1.15v1.15h-1.15zM84.2 449.0h1.15v1.15h-1.15zM71.2 424.3h1.15v1.15h-1.15zM83.5 430.0h1.15v1.15h-1.15zM85.4 437.8h1.15v1.15h-1.15zM70.0 435.2h1.15v1.15h-1.15zM70.7 452.5h1.15v1.15h-1.15zM80.1 429.1h1.15v1.15h-1.15zM70.8 441.3h1.15v1.15h-1.15zM72.4 442.9h1.15v1.15h-1.15zM74.5 453.0h1.15v1.15h-1.15zM67.2 452.9h1.15v1.15h-1.15zM68.6 448.4h1.15v1.15h-1.15zM79.7 452.8h1.15v1.15h-1.15zM81.0 453.3h1.15v1.15h-1.15zM82.6 454.7h1.15v1.15h-1.15zM88.6 454.4h1.15v1.15h-1.15zM67.7 438.8h1.15v1.15h-1.15zM73.9 447.2h1.15v1.15h-1.15zM84.7 417.4h1.15v1.15h-1.15zM68.5 454.7h1.15v1.15h-1.15zM80.6 456.4h1.15v1.15h-1.15zM73.6 444.6h1.15v1.15h-1.15zM87.8 453.2h1.15v1.15h-1.15zM88.1 439.9h1.15v1.15h-1.15zM70.9 441.0h1.15v1.15h-1.15zM85.0 447.4h1.15v1.15h-1.15zM65.6 441.9h1.15v1.15h-1.15zM79.9 444.9h1.15v1.15h-1.15zM70.3 425.0h1.15v1.15h-1.15zM80.7 443.6h1.15v1.15h-1.15zM74.8 454.5h1.15v1.15h-1.15zM71.1 453.8h1.15v1.15h-1.15zM67.8 456.1h1.15v1.15h-1.15zM70.9 454.1h1.15v1.15h-1.15zM85.4 435.2h1.15v1.15h-1.15zM88.1 447.4h1.15v1.15h-1.15zM79.0 443.3h1.15v1.15h-1.15zM82.1 441.4h1.15v1.15h-1.15zM73.8 457.0h1.15v1.15h-1.15zM81.7 454.7h1.15v1.15h-1.15zM69.6 452.6h1.15v1.15h-1.15zM78.4 448.6h1.15v1.15h-1.15zM73.9 425.2h1.15v1.15h-1.15zM88.4 456.8h1.15v1.15h-1.15zM81.3 456.4h1.15v1.15h-1.15zM82.3 453.6h1.15v1.15h-1.15zM82.3 456.9h1.15v1.15h-1.15zM69.6 448.4h1.15v1.15h-1.15zM86.1 445.1h1.15v1.15h-1.15zM78.0 456.7h1.15v1.15h-1.15zM79.7 455.4h1.15v1.15h-1.15zM70.0 455.2h1.15v1.15h-1.15zM81.7 451.7h1.15v1.15h-1.15zM70.7 448.8h1.15v1.15h-1.15zM84.7 448.7h1.15v1.15h-1.15zM72.4 444.5h1.15v1.15h-1.15zM86.9 417.2h1.15v1.15h-1.15zM81.7 428.0h1.15v1.15h-1.15zM66.5 450.3h1.15v1.15h-1.15zM80.5 447.3h1.15v1.15h-1.15zM77.3 456.6h1.15v1.15h-1.15zM69.9 435.6h1.15v1.15h-1.15zM84.2 449.7h1.15v1.15h-1.15zM83.0 442.3h1.15v1.15h-1.15zM70.5 440.5h1.15v1.15h-1.15zM81.1 438.2h1.15v1.15h-1.15zM79.4 454.3h1.15v1.15h-1.15zM68.8 445.4h1.15v1.15h-1.15zM72.2 454.7h1.15v1.15h-1.15zM69.1 454.4h1.15v1.15h-1.15zM69.6 441.0h1.15v1.15h-1.15zM85.2 454.3h1.15v1.15h-1.15zM84.6 454.4h1.15v1.15h-1.15zM69.1 453.7h1.15v1.15h-1.15zM68.3 443.6h1.15v1.15h-1.15zM77.3 456.7h1.15v1.15h-1.15zM83.7 454.6h1.15v1.15h-1.15zM86.4 452.6h1.15v1.15h-1.15zM72.6 431.4h1.15v1.15h-1.15zM70.4 440.7h1.15v1.15h-1.15zM83.8 453.1h1.15v1.15h-1.15zM67.7 447.9h1.15v1.15h-1.15zM83.2 450.6h1.15v1.15h-1.15zM70.1 452.4h1.15v1.15h-1.15zM71.4 431.0h1.15v1.15h-1.15zM84.0 422.6h1.15v1.15h-1.15zM84.7 453.1h1.15v1.15h-1.15zM82.6 426.1h1.15v1.15h-1.15zM67.4 456.0h1.15v1.15h-1.15zM79.6 425.4h1.15v1.15h-1.15zM72.5 452.6h1.15v1.15h-1.15zM85.0 456.8h1.15v1.15h-1.15zM73.3 453.0h1.15v1.15h-1.15zM71.5 456.2h1.15v1.15h-1.15zM78.1 449.2h1.15v1.15h-1.15zM81.7 425.8h1.15v1.15h-1.15zM73.2 454.9h1.15v1.15h-1.15zM83.8 429.7h1.15v1.15h-1.15zM80.8 455.7h1.15v1.15h-1.15zM73.6 440.6h1.15v1.15h-1.15zM78.0 450.9h1.15v1.15h-1.15zM66.5 455.3h1.15v1.15h-1.15zM86.0 416.4h1.15v1.15h-1.15zM71.5 457.0h1.15v1.15h-1.15zM70.4 455.5h1.15v1.15h-1.15zM68.2 454.9h1.15v1.15h-1.15zM80.9 450.1h1.15v1.15h-1.15zM75.1 450.7h1.15v1.15h-1.15zM78.6 453.5h1.15v1.15h-1.15zM88.3 451.8h1.15v1.15h-1.15zM79.4 450.9h1.15v1.15h-1.15zM74.1 427.9h1.15v1.15h-1.15zM84.4 434.5h1.15v1.15h-1.15zM86.5 453.9h1.15v1.15h-1.15zM70.9 443.7h1.15v1.15h-1.15zM73.0 425.7h1.15v1.15h-1.15zM69.3 456.5h1.15v1.15h-1.15zM80.3 450.2h1.15v1.15h-1.15zM82.9 449.8h1.15v1.15h-1.15zM70.7 454.2h1.15v1.15h-1.15zM81.7 446.8h1.15v1.15h-1.15zM70.9 450.5h1.15v1.15h-1.15zM82.6 419.6h1.15v1.15h-1.15zM73.3 440.2h1.15v1.15h-1.15zM71.2 438.5h1.15v1.15h-1.15zM80.7 450.0h1.15v1.15h-1.15zM74.0 448.8h1.15v1.15h-1.15zM69.3 453.9h1.15v1.15h-1.15zM81.8 450.0h1.15v1.15h-1.15zM72.0 438.2h1.15v1.15h-1.15zM85.4 416.0h1.15v1.15h-1.15zM80.8 444.1h1.15v1.15h-1.15zM85.1 440.1h1.15v1.15h-1.15zM72.3 454.6h1.15v1.15h-1.15zM67.5 449.8h1.15v1.15h-1.15zM86.0 431.4h1.15v1.15h-1.15zM87.0 446.4h1.15v1.15h-1.15zM71.7 414.0h1.15v1.15h-1.15zM85.0 453.6h1.15v1.15h-1.15zM85.6 412.2h1.15v1.15h-1.15zM82.8 456.1h1.15v1.15h-1.15zM82.1 441.8h1.15v1.15h-1.15zM78.0 435.2h1.15v1.15h-1.15zM79.8 450.3h1.15v1.15h-1.15zM72.6 452.9h1.15v1.15h-1.15zM83.3 454.8h1.15v1.15h-1.15zM81.9 441.4h1.15v1.15h-1.15zM66.7 454.1h1.15v1.15h-1.15zM67.8 446.3h1.15v1.15h-1.15zM66.4 429.3h1.15v1.15h-1.15zM87.5 453.9h1.15v1.15h-1.15zM81.9 441.5h1.15v1.15h-1.15zM66.7 454.0h1.15v1.15h-1.15zM70.2 436.1h1.15v1.15h-1.15zM82.9 450.7h1.15v1.15h-1.15zM68.3 448.2h1.15v1.15h-1.15zM71.6 453.3h1.15v1.15h-1.15zM71.0 449.5h1.15v1.15h-1.15zM80.4 446.6h1.15v1.15h-1.15zM72.3 450.6h1.15v1.15h-1.15zM78.0 456.2h1.15v1.15h-1.15zM84.9 448.8h1.15v1.15h-1.15zM84.1 427.5h1.15v1.15h-1.15zM81.9 440.2h1.15v1.15h-1.15zM72.0 441.9h1.15v1.15h-1.15zM83.7 454.1h1.15v1.15h-1.15zM81.0 443.6h1.15v1.15h-1.15zM87.4 444.4h1.15v1.15h-1.15zM73.5 451.5h1.15v1.15h-1.15zM84.5 433.9h1.15v1.15h-1.15zM69.9 456.8h1.15v1.15h-1.15zM74.1 456.1h1.15v1.15h-1.15zM79.7 442.8h1.15v1.15h-1.15zM85.5 447.2h1.15v1.15h-1.15zM71.2 444.2h1.15v1.15h-1.15zM69.1 452.2h1.15v1.15h-1.15zM83.2 436.9h1.15v1.15h-1.15zM67.1 448.0h1.15v1.15h-1.15zM74.9 453.7h1.15v1.15h-1.15zM80.3 449.9h1.15v1.15h-1.15zM84.8 454.4h1.15v1.15h-1.15zM80.4 444.3h1.15v1.15h-1.15zM71.6 451.1h1.15v1.15h-1.15zM68.4 447.0h1.15v1.15h-1.15zM84.4 451.0h1.15v1.15h-1.15zM68.5 434.7h1.15v1.15h-1.15zM83.5 417.1h1.15v1.15h-1.15zM80.4 452.0h1.15v1.15h-1.15zM66.5 443.7h1.15v1.15h-1.15zM81.4 446.1h1.15v1.15h-1.15zM79.7 454.8h1.15v1.15h-1.15zM85.8 449.2h1.15v1.15h-1.15zM70.4 441.9h1.15v1.15h-1.15zM75.2 452.1h1.15v1.15h-1.15zM84.0 455.2h1.15v1.15h-1.15zM82.5 439.0h1.15v1.15h-1.15zM78.6 452.2h1.15v1.15h-1.15zM80.7 442.7h1.15v1.15h-1.15zM81.8 454.5h1.15v1.15h-1.15zM80.7 410.6h1.15v1.15h-1.15zM68.7 441.2h1.15v1.15h-1.15zM87.9 454.1h1.15v1.15h-1.15zM81.1 449.5h1.15v1.15h-1.15zM83.0 433.4h1.15v1.15h-1.15zM84.2 453.9h1.15v1.15h-1.15zM67.6 447.5h1.15v1.15h-1.15zM74.7 449.4h1.15v1.15h-1.15zM82.7 452.9h1.15v1.15h-1.15zM81.3 456.7h1.15v1.15h-1.15zM86.6 438.5h1.15v1.15h-1.15zM67.9 454.1h1.15v1.15h-1.15zM73.8 452.5h1.15v1.15h-1.15zM80.3 455.9h1.15v1.15h-1.15zM89.5 454.5h1.15v1.15h-1.15zM73.0 456.2h1.15v1.15h-1.15zM73.5 450.3h1.15v1.15h-1.15zM65.5 444.4h1.15v1.15h-1.15zM84.7 453.1h1.15v1.15h-1.15zM68.9 453.5h1.15v1.15h-1.15zM67.4 439.5h1.15v1.15h-1.15zM81.0 454.9h1.15v1.15h-1.15zM75.2 447.1h1.15v1.15h-1.15zM74.1 451.3h1.15v1.15h-1.15zM82.4 430.9h1.15v1.15h-1.15zM69.0 444.3h1.15v1.15h-1.15zM71.7 434.4h1.15v1.15h-1.15zM68.8 454.8h1.15v1.15h-1.15zM81.9 449.1h1.15v1.15h-1.15zM86.2 456.5h1.15v1.15h-1.15zM83.8 447.7h1.15v1.15h-1.15zM83.6 456.9h1.15v1.15h-1.15zM83.4 455.5h1.15v1.15h-1.15zM69.7 445.7h1.15v1.15h-1.15zM67.7 453.9h1.15v1.15h-1.15zM81.4 452.8h1.15v1.15h-1.15zM72.6 454.3h1.15v1.15h-1.15zM68.3 453.6h1.15v1.15h-1.15zM69.5 437.4h1.15v1.15h-1.15zM68.1 449.8h1.15v1.15h-1.15zM88.8 447.1h1.15v1.15h-1.15zM80.0 444.8h1.15v1.15h-1.15zM70.6 450.0h1.15v1.15h-1.15zM65.2 449.4h1.15v1.15h-1.15zM81.7 454.8h1.15v1.15h-1.15zM73.4 453.7h1.15v1.15h-1.15zM71.8 455.3h1.15v1.15h-1.15zM81.5 438.0h1.15v1.15h-1.15zM78.4 451.0h1.15v1.15h-1.15zM72.4 448.9h1.15v1.15h-1.15zM78.1 456.8h1.15v1.15h-1.15zM80.3 449.1h1.15v1.15h-1.15zM82.7 449.7h1.15v1.15h-1.15zM83.6 456.7h1.15v1.15h-1.15zM70.6 452.3h1.15v1.15h-1.15zM78.7 456.3h1.15v1.15h-1.15zM80.2 447.9h1.15v1.15h-1.15zM79.6 455.5h1.15v1.15h-1.15zM72.2 451.2h1.15v1.15h-1.15zM78.8 453.1h1.15v1.15h-1.15zM68.3 454.9h1.15v1.15h-1.15zM88.3 455.0h1.15v1.15h-1.15zM72.0 423.4h1.15v1.15h-1.15zM81.2 456.4h1.15v1.15h-1.15zM81.3 443.7h1.15v1.15h-1.15zM89.3 457.0h1.15v1.15h-1.15zM71.9 455.2h1.15v1.15h-1.15zM61.8 455.7h1.15v1.15h-1.15zM72.0 454.3h1.15v1.15h-1.15zM79.8 455.4h1.15v1.15h-1.15zM84.1 452.4h1.15v1.15h-1.15zM80.6 455.4h1.15v1.15h-1.15zM70.7 420.3h1.15v1.15h-1.15zM85.3 445.5h1.15v1.15h-1.15zM70.8 455.4h1.15v1.15h-1.15zM85.3 444.6h1.15v1.15h-1.15zM81.0 445.6h1.15v1.15h-1.15zM80.7 450.2h1.15v1.15h-1.15zM67.7 450.3h1.15v1.15h-1.15zM82.1 452.6h1.15v1.15h-1.15zM84.0 431.0h1.15v1.15h-1.15zM65.2 450.1h1.15v1.15h-1.15zM83.0 454.6h1.15v1.15h-1.15zM75.5 443.6h1.15v1.15h-1.15zM73.9 455.3h1.15v1.15h-1.15zM67.7 437.5h1.15v1.15h-1.15zM79.8 443.7h1.15v1.15h-1.15zM71.5 438.7h1.15v1.15h-1.15zM83.9 452.4h1.15v1.15h-1.15zM83.5 447.6h1.15v1.15h-1.15zM72.5 456.3h1.15v1.15h-1.15zM71.5 446.5h1.15v1.15h-1.15zM84.8 452.5h1.15v1.15h-1.15zM67.5 448.5h1.15v1.15h-1.15zM82.7 455.3h1.15v1.15h-1.15zM83.3 448.0h1.15v1.15h-1.15zM72.1 449.1h1.15v1.15h-1.15zM70.0 444.3h1.15v1.15h-1.15zM71.3 444.3h1.15v1.15h-1.15zM70.1 453.8h1.15v1.15h-1.15zM81.1 441.0h1.15v1.15h-1.15zM63.4 452.2h1.15v1.15h-1.15zM88.7 441.9h1.15v1.15h-1.15zM87.2 435.9h1.15v1.15h-1.15zM73.6 447.5h1.15v1.15h-1.15zM81.9 429.9h1.15v1.15h-1.15zM84.1 422.7h1.15v1.15h-1.15zM85.8 456.1h1.15v1.15h-1.15zM81.0 456.9h1.15v1.15h-1.15zM68.8 447.5h1.15v1.15h-1.15zM74.7 451.2h1.15v1.15h-1.15zM64.0 444.8h1.15v1.15h-1.15zM71.6 437.1h1.15v1.15h-1.15zM85.1 446.6h1.15v1.15h-1.15zM70.9 444.0h1.15v1.15h-1.15zM85.7 436.6h1.15v1.15h-1.15zM81.6 451.7h1.15v1.15h-1.15zM73.1 443.0h1.15v1.15h-1.15zM73.5 445.1h1.15v1.15h-1.15zM88.0 455.1h1.15v1.15h-1.15zM86.5 455.7h1.15v1.15h-1.15zM71.2 443.4h1.15v1.15h-1.15zM84.0 445.5h1.15v1.15h-1.15zM69.3 438.8h1.15v1.15h-1.15zM79.1 452.6h1.15v1.15h-1.15zM72.7 446.5h1.15v1.15h-1.15zM71.0 455.7h1.15v1.15h-1.15zM73.6 449.4h1.15v1.15h-1.15zM86.3 453.0h1.15v1.15h-1.15zM69.8 445.6h1.15v1.15h-1.15zM80.3 448.2h1.15v1.15h-1.15zM82.3 417.7h1.15v1.15h-1.15zM88.4 450.8h1.15v1.15h-1.15zM70.2 450.6h1.15v1.15h-1.15zM87.3 449.9h1.15v1.15h-1.15zM66.4 456.1h1.15v1.15h-1.15zM80.5 440.6h1.15v1.15h-1.15zM64.7 451.0h1.15v1.15h-1.15zM70.5 430.2h1.15v1.15h-1.15zM49.7 398.3h1.15v1.15h-1.15zM54.6 414.8h1.15v1.15h-1.15zM59.4 401.3h1.15v1.15h-1.15zM69.1 386.2h1.15v1.15h-1.15zM69.1 399.8h1.15v1.15h-1.15zM69.9 399.5h1.15v1.15h-1.15zM67.9 405.8h1.15v1.15h-1.15zM66.7 410.3h1.15v1.15h-1.15zM67.2 409.5h1.15v1.15h-1.15zM88.6 389.2h1.15v1.15h-1.15zM83.7 414.8h1.15v1.15h-1.15zM94.6 401.3h1.15v1.15h-1.15zM99.5 406.5h1.15v1.15h-1.15zM100.7 417.0h1.15v1.15h-1.15zM100.7 422.3h1.15v1.15h-1.15zM97.1 410.3h1.15v1.15h-1.15zM91.0 407.3h1.15v1.15h-1.15zM81.3 416.3h1.15v1.15h-1.15zM86.1 413.3h1.15v1.15h-1.15zM84.2 412.5h1.15v1.15h-1.15zM63.1 422.3h1.15v1.15h-1.15zM70.3 415.5h1.15v1.15h-1.15zM92.2 426.8h1.15v1.15h-1.15zM58.2 425.3h1.15v1.15h-1.15zM94.6 424.5h1.15v1.15h-1.15zM97.1 434.3h1.15v1.15h-1.15zM99.5 443.3h1.15v1.15h-1.15zM93.4 438.8h1.15v1.15h-1.15zM59.4 440.3h1.15v1.15h-1.15zM61.8 434.3h1.15v1.15h-1.15zM78.9 419.3h1.15v1.15h-1.15zM77.6 422.3h1.15v1.15h-1.15zM80.1 420.8h1.15v1.15h-1.15zM71.6 423.8h1.15v1.15h-1.15zM69.1 425.3h1.15v1.15h-1.15zM64.3 429.8h1.15v1.15h-1.15z" fill="#111"/>
<rect x="45.5" y="382.8" width="32.1" height="75.4" fill="none" stroke="#c8405a" stroke-width="1.0"/>
<line x1="40.50" y1="383.80" x2="40.50" y2="458.60" stroke="#222" stroke-width="1.0"/>
<line x1="40.00" y1="458.50" x2="116.20" y2="458.50" stroke="#222" stroke-width="1.0"/>
<line x1="38.10" y1="386.50" x2="40.70" y2="386.50" stroke="#222" stroke-width="0.8"/>
<text x="34.30" y="388.82" font-size="5.6" text-anchor="end" fill="#1c1c1c" stroke="#1c1c1c" stroke-width="0.209" textLength="2.96" lengthAdjust="spacingAndGlyphs">6</text>
<line x1="38.10" y1="416.50" x2="40.70" y2="416.50" stroke="#222" stroke-width="0.8"/>
<text x="34.30" y="418.62" font-size="5.6" text-anchor="end" fill="#1c1c1c" stroke="#1c1c1c" stroke-width="0.209" textLength="2.96" lengthAdjust="spacingAndGlyphs">4</text>
<line x1="38.10" y1="446.50" x2="40.70" y2="446.50" stroke="#222" stroke-width="0.8"/>
<text x="34.30" y="448.92" font-size="5.6" text-anchor="end" fill="#1c1c1c" stroke="#1c1c1c" stroke-width="0.209" textLength="2.96" lengthAdjust="spacingAndGlyphs">2</text>
<line x1="40.50" y1="458.20" x2="40.50" y2="460.70" stroke="#222" stroke-width="0.8"/>
<text x="40.50" y="469.50" font-size="5.0" text-anchor="middle" fill="#1c1c1c" stroke="#1c1c1c" stroke-width="0.167">-1.5</text>
<line x1="52.50" y1="458.20" x2="52.50" y2="460.70" stroke="#222" stroke-width="0.8"/>
<text x="52.70" y="469.50" font-size="5.0" text-anchor="middle" fill="#1c1c1c" stroke="#1c1c1c" stroke-width="0.167">-1.0</text>
<line x1="64.50" y1="458.20" x2="64.50" y2="460.70" stroke="#222" stroke-width="0.8"/>
<text x="64.70" y="469.50" font-size="5.0" text-anchor="middle" fill="#1c1c1c" stroke="#1c1c1c" stroke-width="0.167">-0.5</text>
<line x1="77.50" y1="458.20" x2="77.50" y2="460.70" stroke="#222" stroke-width="0.8"/>
<text x="77.00" y="469.50" font-size="5.0" text-anchor="middle" fill="#1c1c1c" stroke="#1c1c1c" stroke-width="0.167">0.0</text>
<line x1="89.50" y1="458.20" x2="89.50" y2="460.70" stroke="#222" stroke-width="0.8"/>
<text x="89.00" y="469.50" font-size="5.0" text-anchor="middle" fill="#1c1c1c" stroke="#1c1c1c" stroke-width="0.167">0.5</text>
<line x1="100.50" y1="458.20" x2="100.50" y2="460.70" stroke="#222" stroke-width="0.8"/>
<text x="100.50" y="469.50" font-size="5.0" text-anchor="middle" fill="#1c1c1c" stroke="#1c1c1c" stroke-width="0.167">1.0</text>
<line x1="113.50" y1="458.20" x2="113.50" y2="460.70" stroke="#222" stroke-width="0.8"/>
<text x="113.20" y="469.50" font-size="5.0" text-anchor="middle" fill="#1c1c1c" stroke="#1c1c1c" stroke-width="0.167">1.5</text>
<text x="45.80" y="479.83" font-size="7.3" text-anchor="start" fill="#1c1c1c" stroke="#1c1c1c" stroke-width="0.240" textLength="64.70" lengthAdjust="spacingAndGlyphs">Log fold change of probe</text>
<text transform="translate(24.30,421.20) rotate(-90)" x="0" y="2.52" font-size="7.0" text-anchor="middle" fill="#1c1c1c" stroke="#1c1c1c" stroke-width="0.240" textLength="55.70" lengthAdjust="spacingAndGlyphs">-log(P value) of probe</text>
<text x="128.30" y="378.68" font-size="11" font-weight="bold" fill="#000">K</text>
<circle cx="163.40" cy="420.20" r="33.30" fill="none" stroke="#7ab648" stroke-width="1.0"/>
<circle cx="211.10" cy="420.20" r="33.40" fill="none" stroke="#c0304b" stroke-width="1.0"/>
<text x="156.30" y="413.25" font-size="5.7" text-anchor="middle" fill="#1c1c1c" stroke="#1c1c1c" stroke-width="0.217" textLength="14.60" lengthAdjust="spacingAndGlyphs">Genes</text>
<text x="156.30" y="419.65" font-size="5.7" text-anchor="middle" fill="#1c1c1c" stroke="#1c1c1c" stroke-width="0.217" textLength="28.20" lengthAdjust="spacingAndGlyphs">identified in</text>
<text x="156.30" y="426.05" font-size="5.7" text-anchor="middle" fill="#1c1c1c" stroke="#1c1c1c" stroke-width="0.217" textLength="16.20" lengthAdjust="spacingAndGlyphs">shRNA</text>
<text x="156.30" y="432.45" font-size="5.7" text-anchor="middle" fill="#1c1c1c" stroke="#1c1c1c" stroke-width="0.217" textLength="15.00" lengthAdjust="spacingAndGlyphs">screen</text>
<text x="187.60" y="422.41" font-size="5.59" text-anchor="middle" fill="#1c1c1c" stroke="#1c1c1c" stroke-width="0.208" textLength="8.80" lengthAdjust="spacingAndGlyphs">272</text>
<text x="218.60" y="413.25" font-size="5.7" text-anchor="middle" fill="#1c1c1c" stroke="#1c1c1c" stroke-width="0.217" textLength="14.60" lengthAdjust="spacingAndGlyphs">Genes</text>
<text x="218.60" y="419.65" font-size="5.7" text-anchor="middle" fill="#1c1c1c" stroke="#1c1c1c" stroke-width="0.217" textLength="27.70" lengthAdjust="spacingAndGlyphs">significantly</text>
<text x="218.60" y="426.05" font-size="5.7" text-anchor="middle" fill="#1c1c1c" stroke="#1c1c1c" stroke-width="0.217" textLength="25.90" lengthAdjust="spacingAndGlyphs">decreased</text>
<text x="218.60" y="432.45" font-size="5.7" text-anchor="middle" fill="#1c1c1c" stroke="#1c1c1c" stroke-width="0.217" textLength="23.80" lengthAdjust="spacingAndGlyphs">at relapse</text>
<text x="253.60" y="378.68" font-size="11" font-weight="bold" fill="#000">L</text>
<line x1="262.50" y1="382.50" x2="512.30" y2="382.50" stroke="#333" stroke-width="1.0"/>
<line x1="262.50" y1="391.50" x2="512.30" y2="391.50" stroke="#333" stroke-width="1.0"/>
<line x1="262.50" y1="475.50" x2="512.30" y2="475.50" stroke="#333" stroke-width="1.0"/>
<text x="282.30" y="388.58" font-size="5.77" text-anchor="start" fill="#1c1c1c" stroke="#1c1c1c" stroke-width="0.222" textLength="22.10" lengthAdjust="spacingAndGlyphs">Category</text>
<text x="382.30" y="388.48" font-size="5.49" text-anchor="start" fill="#1c1c1c" stroke="#1c1c1c" stroke-width="0.201" textLength="11.50" lengthAdjust="spacingAndGlyphs">Term</text>
<text x="456.90" y="388.65" font-size="5.96" text-anchor="start" fill="#1c1c1c" stroke="#1c1c1c" stroke-width="0.237" textLength="15.00" lengthAdjust="spacingAndGlyphs">Count</text>
<text x="483.00" y="388.44" font-size="5.4" text-anchor="middle" fill="#1c1c1c" stroke="#1c1c1c" stroke-width="0.194">%</text>
<text x="495.00" y="388.42" font-size="5.32" text-anchor="start" fill="#1c1c1c" stroke="#1c1c1c" stroke-width="0.189" textLength="15.80" lengthAdjust="spacingAndGlyphs">PValue</text>
<text x="263.00" y="398.18" font-size="5.497869240575488" text-anchor="start" fill="#b8284a" stroke="#b8284a" stroke-width="0.202" textLength="51.31" lengthAdjust="spacingAndGlyphs">Diagnostic vs Relapse</text>
<text x="341.00" y="398.23" font-size="5.638730816004503" text-anchor="start" fill="#b8284a" stroke="#b8284a" stroke-width="0.212" textLength="82.70" lengthAdjust="spacingAndGlyphs">hsa04024:cAMP signaling pathway</text>
<text x="464.60" y="398.14" font-size="5.4" text-anchor="middle" fill="#b8284a" stroke="#b8284a" stroke-width="0.194">10</text>
<text x="482.80" y="398.36" font-size="5.99" text-anchor="middle" fill="#b8284a" stroke="#b8284a" stroke-width="0.239" textLength="11.00" lengthAdjust="spacingAndGlyphs">3.68</text>
<text x="494.60" y="398.22" font-size="5.61" text-anchor="start" fill="#b8284a" stroke="#b8284a" stroke-width="0.210" textLength="16.20" lengthAdjust="spacingAndGlyphs">0.0013</text>
<text x="263.00" y="404.96" font-size="5.497869240575488" text-anchor="start" fill="#1c1c1c" stroke="#1c1c1c" stroke-width="0.202" textLength="71.20" lengthAdjust="spacingAndGlyphs">GC Sensitive vs Resistance #2</text>
<text x="341.00" y="405.01" font-size="5.638730816004503" text-anchor="start" fill="#1c1c1c" stroke="#1c1c1c" stroke-width="0.212" textLength="91.37" lengthAdjust="spacingAndGlyphs">hsa04630:Jak-STAT signaling pathway</text>
<text x="464.60" y="404.92" font-size="5.4" text-anchor="middle" fill="#1c1c1c" stroke="#1c1c1c" stroke-width="0.194">8</text>
<text x="482.80" y="405.14" font-size="5.99" text-anchor="middle" fill="#1c1c1c" stroke="#1c1c1c" stroke-width="0.239" textLength="11.00" lengthAdjust="spacingAndGlyphs">4.30</text>
<text x="494.60" y="405.00" font-size="5.61" text-anchor="start" fill="#1c1c1c" stroke="#1c1c1c" stroke-width="0.210" textLength="16.20" lengthAdjust="spacingAndGlyphs">0.0024</text>
<text x="263.00" y="411.74" font-size="5.497869240575488" text-anchor="start" fill="#1c1c1c" stroke="#1c1c1c" stroke-width="0.202" textLength="51.31" lengthAdjust="spacingAndGlyphs">Diagnostic vs Relapse</text>
<text x="341.00" y="411.79" font-size="5.638730816004503" text-anchor="start" fill="#1c1c1c" stroke="#1c1c1c" stroke-width="0.212" textLength="68.89" lengthAdjust="spacingAndGlyphs">hsa00230:Purine metabolism</text>
<text x="464.60" y="411.70" font-size="5.4" text-anchor="middle" fill="#1c1c1c" stroke="#1c1c1c" stroke-width="0.194">9</text>
<text x="482.80" y="411.92" font-size="5.99" text-anchor="middle" fill="#1c1c1c" stroke="#1c1c1c" stroke-width="0.239" textLength="11.00" lengthAdjust="spacingAndGlyphs">3.31</text>
<text x="494.60" y="411.78" font-size="5.61" text-anchor="start" fill="#1c1c1c" stroke="#1c1c1c" stroke-width="0.210" textLength="16.20" lengthAdjust="spacingAndGlyphs">0.0025</text>
<text x="263.00" y="418.52" font-size="5.497869240575488" text-anchor="start" fill="#1c1c1c" stroke="#1c1c1c" stroke-width="0.202" textLength="71.20" lengthAdjust="spacingAndGlyphs">GC Sensitive vs Resistance #2</text>
<text x="341.00" y="418.57" font-size="5.638730816004503" text-anchor="start" fill="#1c1c1c" stroke="#1c1c1c" stroke-width="0.212" textLength="89.60" lengthAdjust="spacingAndGlyphs">hsa04151:PI3K-Akt signaling pathway</text>
<text x="464.60" y="418.48" font-size="5.4" text-anchor="middle" fill="#1c1c1c" stroke="#1c1c1c" stroke-width="0.194">12</text>
<text x="482.80" y="418.70" font-size="5.99" text-anchor="middle" fill="#1c1c1c" stroke="#1c1c1c" stroke-width="0.239" textLength="11.00" lengthAdjust="spacingAndGlyphs">6.45</text>
<text x="494.60" y="418.56" font-size="5.61" text-anchor="start" fill="#1c1c1c" stroke="#1c1c1c" stroke-width="0.210" textLength="16.20" lengthAdjust="spacingAndGlyphs">0.0043</text>
<text x="263.00" y="425.30" font-size="5.497869240575488" text-anchor="start" fill="#1c1c1c" stroke="#1c1c1c" stroke-width="0.202" textLength="71.20" lengthAdjust="spacingAndGlyphs">GC Sensitive vs Resistance #1</text>
<text x="341.00" y="425.35" font-size="5.638730816004503" text-anchor="start" fill="#1c1c1c" stroke="#1c1c1c" stroke-width="0.212" textLength="87.82" lengthAdjust="spacingAndGlyphs">hsa04020:Calcium signaling pathway</text>
<text x="464.60" y="425.26" font-size="5.4" text-anchor="middle" fill="#1c1c1c" stroke="#1c1c1c" stroke-width="0.194">8</text>
<text x="482.80" y="425.48" font-size="5.99" text-anchor="middle" fill="#1c1c1c" stroke="#1c1c1c" stroke-width="0.239" textLength="11.00" lengthAdjust="spacingAndGlyphs">3.45</text>
<text x="494.60" y="425.34" font-size="5.61" text-anchor="start" fill="#1c1c1c" stroke="#1c1c1c" stroke-width="0.210" textLength="16.20" lengthAdjust="spacingAndGlyphs">0.0068</text>
<text x="263.00" y="432.08" font-size="5.497869240575488" text-anchor="start" fill="#b8284a" stroke="#b8284a" stroke-width="0.202" textLength="71.20" lengthAdjust="spacingAndGlyphs">GC Sensitive vs Resistance #1</text>
<text x="341.00" y="432.13" font-size="5.638730816004503" text-anchor="start" fill="#b8284a" stroke="#b8284a" stroke-width="0.212" textLength="82.70" lengthAdjust="spacingAndGlyphs">hsa04024:cAMP signaling pathway</text>
<text x="464.60" y="432.04" font-size="5.4" text-anchor="middle" fill="#b8284a" stroke="#b8284a" stroke-width="0.194">8</text>
<text x="482.80" y="432.26" font-size="5.99" text-anchor="middle" fill="#b8284a" stroke="#b8284a" stroke-width="0.239" textLength="11.00" lengthAdjust="spacingAndGlyphs">3.45</text>
<text x="494.60" y="432.17" font-size="5.75" text-anchor="start" fill="#b8284a" stroke="#b8284a" stroke-width="0.220" textLength="16.20" lengthAdjust="spacingAndGlyphs">0.0116</text>
<text x="263.00" y="438.86" font-size="5.497869240575488" text-anchor="start" fill="#b8284a" stroke="#b8284a" stroke-width="0.202" textLength="71.20" lengthAdjust="spacingAndGlyphs">GC Sensitive vs Resistance #2</text>
<text x="341.00" y="438.91" font-size="5.638730816004503" text-anchor="start" fill="#b8284a" stroke="#b8284a" stroke-width="0.212" textLength="82.70" lengthAdjust="spacingAndGlyphs">hsa04024:cAMP signaling pathway</text>
<text x="464.60" y="438.82" font-size="5.4" text-anchor="middle" fill="#b8284a" stroke="#b8284a" stroke-width="0.194">8</text>
<text x="482.80" y="439.04" font-size="5.99" text-anchor="middle" fill="#b8284a" stroke="#b8284a" stroke-width="0.239" textLength="11.00" lengthAdjust="spacingAndGlyphs">4.30</text>
<text x="494.60" y="438.90" font-size="5.61" text-anchor="start" fill="#b8284a" stroke="#b8284a" stroke-width="0.210" textLength="16.20" lengthAdjust="spacingAndGlyphs">0.0131</text>
<text x="263.00" y="445.64" font-size="5.497869240575488" text-anchor="start" fill="#1c1c1c" stroke="#1c1c1c" stroke-width="0.202" textLength="51.31" lengthAdjust="spacingAndGlyphs">Diagnostic vs Relapse</text>
<text x="341.00" y="445.69" font-size="5.638730816004503" text-anchor="start" fill="#1c1c1c" stroke="#1c1c1c" stroke-width="0.212" textLength="91.37" lengthAdjust="spacingAndGlyphs">hsa04630:Jak-STAT signaling pathway</text>
<text x="464.60" y="445.60" font-size="5.4" text-anchor="middle" fill="#1c1c1c" stroke="#1c1c1c" stroke-width="0.194">7</text>
<text x="482.80" y="445.82" font-size="5.99" text-anchor="middle" fill="#1c1c1c" stroke="#1c1c1c" stroke-width="0.239" textLength="11.00" lengthAdjust="spacingAndGlyphs">2.57</text>
<text x="494.60" y="445.68" font-size="5.61" text-anchor="start" fill="#1c1c1c" stroke="#1c1c1c" stroke-width="0.210" textLength="16.20" lengthAdjust="spacingAndGlyphs">0.0134</text>
<text x="263.00" y="452.42" font-size="5.497869240575488" text-anchor="start" fill="#1c1c1c" stroke="#1c1c1c" stroke-width="0.202" textLength="71.20" lengthAdjust="spacingAndGlyphs">GC Sensitive vs Resistance #2</text>
<text x="341.00" y="452.47" font-size="5.638730816004503" text-anchor="start" fill="#1c1c1c" stroke="#1c1c1c" stroke-width="0.212" textLength="113.84" lengthAdjust="spacingAndGlyphs">hsa04060:Cytokine-cytokine receptor interaction</text>
<text x="464.60" y="452.38" font-size="5.4" text-anchor="middle" fill="#1c1c1c" stroke="#1c1c1c" stroke-width="0.194">8</text>
<text x="482.80" y="452.60" font-size="5.99" text-anchor="middle" fill="#1c1c1c" stroke="#1c1c1c" stroke-width="0.239" textLength="11.00" lengthAdjust="spacingAndGlyphs">4.30</text>
<text x="494.60" y="452.46" font-size="5.61" text-anchor="start" fill="#1c1c1c" stroke="#1c1c1c" stroke-width="0.210" textLength="16.20" lengthAdjust="spacingAndGlyphs">0.0354</text>
<text x="263.00" y="459.20" font-size="5.497869240575488" text-anchor="start" fill="#1c1c1c" stroke="#1c1c1c" stroke-width="0.202" textLength="51.31" lengthAdjust="spacingAndGlyphs">Diagnostic vs Relapse</text>
<text x="341.00" y="459.25" font-size="5.638730816004503" text-anchor="start" fill="#1c1c1c" stroke="#1c1c1c" stroke-width="0.212" textLength="78.07" lengthAdjust="spacingAndGlyphs">hsa04310:Wnt signaling pathway</text>
<text x="464.60" y="459.16" font-size="5.4" text-anchor="middle" fill="#1c1c1c" stroke="#1c1c1c" stroke-width="0.194">6</text>
<text x="482.80" y="459.38" font-size="5.99" text-anchor="middle" fill="#1c1c1c" stroke="#1c1c1c" stroke-width="0.239" textLength="11.00" lengthAdjust="spacingAndGlyphs">2.21</text>
<text x="494.60" y="459.24" font-size="5.61" text-anchor="start" fill="#1c1c1c" stroke="#1c1c1c" stroke-width="0.210" textLength="16.20" lengthAdjust="spacingAndGlyphs">0.0385</text>
<text x="263.00" y="465.98" font-size="5.497869240575488" text-anchor="start" fill="#1c1c1c" stroke="#1c1c1c" stroke-width="0.202" textLength="51.31" lengthAdjust="spacingAndGlyphs">Diagnostic vs Relapse</text>
<text x="341.00" y="466.03" font-size="5.638730816004503" text-anchor="start" fill="#1c1c1c" stroke="#1c1c1c" stroke-width="0.212" textLength="91.38" lengthAdjust="spacingAndGlyphs">hsa04922:Glucagon signaling pathway</text>
<text x="464.60" y="465.94" font-size="5.4" text-anchor="middle" fill="#1c1c1c" stroke="#1c1c1c" stroke-width="0.194">5</text>
<text x="482.80" y="466.16" font-size="5.99" text-anchor="middle" fill="#1c1c1c" stroke="#1c1c1c" stroke-width="0.239" textLength="11.00" lengthAdjust="spacingAndGlyphs">1.84</text>
<text x="494.60" y="466.02" font-size="5.61" text-anchor="start" fill="#1c1c1c" stroke="#1c1c1c" stroke-width="0.210" textLength="16.20" lengthAdjust="spacingAndGlyphs">0.0446</text>
<text x="263.00" y="472.76" font-size="5.497869240575488" text-anchor="start" fill="#1c1c1c" stroke="#1c1c1c" stroke-width="0.202" textLength="71.20" lengthAdjust="spacingAndGlyphs">GC Sensitive vs Resistance #2</text>
<text x="341.00" y="472.81" font-size="5.638730816004503" text-anchor="start" fill="#1c1c1c" stroke="#1c1c1c" stroke-width="0.212" textLength="100.53" lengthAdjust="spacingAndGlyphs">hsa04623:Cytosolic DNA-sensing pathway</text>
<text x="464.60" y="472.72" font-size="5.4" text-anchor="middle" fill="#1c1c1c" stroke="#1c1c1c" stroke-width="0.194">4</text>
<text x="482.80" y="472.94" font-size="5.99" text-anchor="middle" fill="#1c1c1c" stroke="#1c1c1c" stroke-width="0.239" textLength="11.00" lengthAdjust="spacingAndGlyphs">2.15</text>
<text x="494.60" y="472.80" font-size="5.61" text-anchor="start" fill="#1c1c1c" stroke="#1c1c1c" stroke-width="0.210" textLength="16.20" lengthAdjust="spacingAndGlyphs">0.0482</text>
<text x="7.40" y="498.08" font-size="11" font-weight="bold" fill="#000">M</text>
<text x="31.80" y="498.67" font-size="5.47" text-anchor="start" fill="#1c1c1c" stroke="#1c1c1c" stroke-width="0.199" textLength="41.00" lengthAdjust="spacingAndGlyphs">Resistance genes</text>
<text x="80.30" y="498.66" font-size="5.45" text-anchor="start" fill="#1c1c1c" stroke="#1c1c1c" stroke-width="0.198" textLength="34.30" lengthAdjust="spacingAndGlyphs">Relapse genes</text>
<circle cx="52.00" cy="533.10" r="31.60" fill="none" stroke="#c0304b" stroke-width="1.1"/>
<circle cx="97.10" cy="533.10" r="31.60" fill="none" stroke="#3a5ba3" stroke-width="1.1"/>
<path d="M74.55,510.96 A31.6,31.6 0 0 1 74.55,555.24" fill="none" stroke="#e6a2b2" stroke-width="1.2"/>
<text x="48.20" y="524.12" font-size="4.5" text-anchor="middle" fill="#1c1c1c" font-style="italic" stroke="#1c1c1c" stroke-width="0.135" textLength="15.40" lengthAdjust="spacingAndGlyphs">ATP1A3</text>
<text x="48.20" y="529.20" font-size="4.5" text-anchor="middle" fill="#1c1c1c" font-style="italic" stroke="#1c1c1c" stroke-width="0.135" textLength="15.10" lengthAdjust="spacingAndGlyphs">ATP1B3</text>
<text x="48.20" y="534.28" font-size="4.5" text-anchor="middle" fill="#1c1c1c" font-style="italic" stroke="#1c1c1c" stroke-width="0.135" textLength="14.10" lengthAdjust="spacingAndGlyphs">CALM3</text>
<text x="48.20" y="539.36" font-size="4.5" text-anchor="middle" fill="#1c1c1c" font-style="italic" stroke="#1c1c1c" stroke-width="0.135" textLength="16.40" lengthAdjust="spacingAndGlyphs">CALML3</text>
<text x="48.20" y="544.44" font-size="4.5" text-anchor="middle" fill="#1c1c1c" font-style="italic" stroke="#1c1c1c" stroke-width="0.135" textLength="12.60" lengthAdjust="spacingAndGlyphs">GRIA4</text>
<text x="75.00" y="524.12" font-size="4.5" text-anchor="middle" fill="#1c1c1c" font-style="italic" stroke="#1c1c1c" stroke-width="0.135" textLength="11.60" lengthAdjust="spacingAndGlyphs">GNAS</text>
<text x="75.00" y="529.20" font-size="4.5" text-anchor="middle" fill="#1c1c1c" font-style="italic" stroke="#1c1c1c" stroke-width="0.135" textLength="13.00" lengthAdjust="spacingAndGlyphs">PTCH1</text>
<text x="75.00" y="534.28" font-size="4.5" text-anchor="middle" fill="#1c1c1c" font-style="italic" stroke="#1c1c1c" stroke-width="0.135" textLength="14.40" lengthAdjust="spacingAndGlyphs">Pde3b</text>
<text x="75.00" y="539.36" font-size="4.5" text-anchor="middle" fill="#1c1c1c" font-style="italic" stroke="#1c1c1c" stroke-width="0.135" textLength="14.40" lengthAdjust="spacingAndGlyphs">GRIN2B</text>
<text x="75.00" y="544.44" font-size="4.5" text-anchor="middle" fill="#1c1c1c" font-style="italic" stroke="#1c1c1c" stroke-width="0.135" textLength="12.30" lengthAdjust="spacingAndGlyphs">EP300</text>
<text x="97.30" y="524.12" font-size="4.5" text-anchor="middle" fill="#1c1c1c" font-style="italic" stroke="#1c1c1c" stroke-width="0.135" textLength="14.20" lengthAdjust="spacingAndGlyphs">ADCY9</text>
<text x="97.30" y="529.20" font-size="4.5" text-anchor="middle" fill="#1c1c1c" font-style="italic" stroke="#1c1c1c" stroke-width="0.135" textLength="15.50" lengthAdjust="spacingAndGlyphs">ATP1A2</text>
<text x="97.30" y="534.28" font-size="4.5" text-anchor="middle" fill="#1c1c1c" font-style="italic" stroke="#1c1c1c" stroke-width="0.135" textLength="13.00" lengthAdjust="spacingAndGlyphs">CREB1</text>
<text x="97.30" y="539.36" font-size="4.5" text-anchor="middle" fill="#1c1c1c" font-style="italic" stroke="#1c1c1c" stroke-width="0.135" textLength="15.90" lengthAdjust="spacingAndGlyphs">CREBBP</text>
<text x="97.30" y="544.44" font-size="4.5" text-anchor="middle" fill="#1c1c1c" font-style="italic" stroke="#1c1c1c" stroke-width="0.135" textLength="11.20" lengthAdjust="spacingAndGlyphs">RHOA</text>
<text x="143.70" y="497.68" font-size="11" font-weight="bold" fill="#000">N</text>
<path d="M193.5 548.4L211.7 553.2M193.5 541.7L211.7 548.9M193.5 544.0L211.7 549.8M193.5 562.2L211.7 560.2M193.5 535.2L211.7 549.4M193.5 537.2L211.7 553.3M193.5 553.5L211.7 558.5M193.5 551.1L211.7 555.6M193.5 562.3L211.7 561.7M193.5 558.4L211.7 555.0M193.5 542.9L211.7 555.2M193.5 541.6L211.7 554.8M193.5 548.6L211.7 557.3M193.5 562.3L211.7 556.8M193.5 559.9L211.7 560.9M193.5 533.4L211.7 546.7M193.5 558.2L211.7 554.4M193.5 551.2L211.7 554.7M193.5 560.0L211.7 555.2M193.5 545.9L211.7 550.0M193.5 537.5L211.7 552.7M193.5 556.5L211.7 559.9M193.5 560.9L211.7 561.7M193.5 557.9L211.7 557.7M193.5 562.3L211.7 558.6M193.5 557.1L211.7 559.4M193.5 540.7L211.7 552.6M193.5 557.6L211.7 558.5M193.5 545.3L211.7 556.3M193.5 533.8L211.7 552.3M193.5 543.6L211.7 550.5M193.5 562.3L211.7 557.6M193.5 556.3L211.7 557.4M193.5 562.3L211.7 562.2M193.5 560.4L211.7 555.2M193.5 560.1L211.7 557.1M193.5 535.9L211.7 546.8M193.5 556.9L211.7 559.1M193.5 551.7L211.7 554.0M193.5 561.5L211.7 557.7M193.5 541.6L211.7 549.7M193.5 562.2L211.7 555.9M193.5 561.7L211.7 560.8M193.5 548.8L211.7 551.6M193.5 557.0L211.7 554.4M193.5 551.0L211.7 557.3M193.5 557.6L211.7 560.2M193.5 561.8L211.7 561.8M193.5 545.9L211.7 549.7M193.5 560.7L211.7 561.7M193.5 533.2L211.7 549.6M193.5 555.3L211.7 559.2M193.5 549.4L211.7 552.7M193.5 553.9L211.7 557.6M193.5 562.0L211.7 556.2M193.5 562.2L211.7 560.0M193.5 539.9L211.7 554.2M193.5 544.3L211.7 549.7M193.5 548.1L211.7 552.6M193.5 561.5L211.7 560.2M193.5 560.9L211.7 556.5M193.5 558.1L211.7 558.9M193.5 532.6L211.7 546.6M193.5 533.7L211.7 550.4M193.5 552.9L211.7 554.8M193.5 553.1L211.7 558.2M193.5 555.3L211.7 559.6M193.5 556.1L211.7 553.4M193.5 534.5L211.7 549.3M193.5 552.5L211.7 557.7M193.5 561.7L211.7 561.2M193.5 542.3L211.7 549.8M193.5 556.5L211.7 555.6M193.5 542.5L211.7 551.6M193.5 546.9L211.7 552.5M193.5 556.4L211.7 556.3M193.5 558.4L211.7 558.8M193.5 542.8L211.7 551.7M193.5 558.1L211.7 554.5M193.5 547.4L211.7 554.2M193.5 516.3L211.7 545.0M193.5 534.5L211.7 530.7M193.5 535.5L211.7 547.9M193.5 538.3L211.7 548.9M193.5 532.6L211.7 550.8M193.5 533.5L211.7 552.7" stroke="#111" stroke-width="0.9" fill="none"/>
<path d="M192.2 548.4a1.25 1.25 0 1 0 2.5 0a1.25 1.25 0 1 0 -2.5 0M192.2 541.7a1.25 1.25 0 1 0 2.5 0a1.25 1.25 0 1 0 -2.5 0M192.2 544.0a1.25 1.25 0 1 0 2.5 0a1.25 1.25 0 1 0 -2.5 0M192.2 562.2a1.25 1.25 0 1 0 2.5 0a1.25 1.25 0 1 0 -2.5 0M192.2 535.2a1.25 1.25 0 1 0 2.5 0a1.25 1.25 0 1 0 -2.5 0M192.2 537.2a1.25 1.25 0 1 0 2.5 0a1.25 1.25 0 1 0 -2.5 0M192.2 553.5a1.25 1.25 0 1 0 2.5 0a1.25 1.25 0 1 0 -2.5 0M192.2 551.1a1.25 1.25 0 1 0 2.5 0a1.25 1.25 0 1 0 -2.5 0M192.2 562.3a1.25 1.25 0 1 0 2.5 0a1.25 1.25 0 1 0 -2.5 0M192.2 558.4a1.25 1.25 0 1 0 2.5 0a1.25 1.25 0 1 0 -2.5 0M192.2 542.9a1.25 1.25 0 1 0 2.5 0a1.25 1.25 0 1 0 -2.5 0M192.2 541.6a1.25 1.25 0 1 0 2.5 0a1.25 1.25 0 1 0 -2.5 0M192.2 548.6a1.25 1.25 0 1 0 2.5 0a1.25 1.25 0 1 0 -2.5 0M192.2 562.3a1.25 1.25 0 1 0 2.5 0a1.25 1.25 0 1 0 -2.5 0M192.2 559.9a1.25 1.25 0 1 0 2.5 0a1.25 1.25 0 1 0 -2.5 0M192.2 533.4a1.25 1.25 0 1 0 2.5 0a1.25 1.25 0 1 0 -2.5 0M192.2 558.2a1.25 1.25 0 1 0 2.5 0a1.25 1.25 0 1 0 -2.5 0M192.2 551.2a1.25 1.25 0 1 0 2.5 0a1.25 1.25 0 1 0 -2.5 0M192.2 560.0a1.25 1.25 0 1 0 2.5 0a1.25 1.25 0 1 0 -2.5 0M192.2 545.9a1.25 1.25 0 1 0 2.5 0a1.25 1.25 0 1 0 -2.5 0M192.2 537.5a1.25 1.25 0 1 0 2.5 0a1.25 1.25 0 1 0 -2.5 0M192.2 556.5a1.25 1.25 0 1 0 2.5 0a1.25 1.25 0 1 0 -2.5 0M192.2 560.9a1.25 1.25 0 1 0 2.5 0a1.25 1.25 0 1 0 -2.5 0M192.2 557.9a1.25 1.25 0 1 0 2.5 0a1.25 1.25 0 1 0 -2.5 0M192.2 562.3a1.25 1.25 0 1 0 2.5 0a1.25 1.25 0 1 0 -2.5 0M192.2 557.1a1.25 1.25 0 1 0 2.5 0a1.25 1.25 0 1 0 -2.5 0M192.2 540.7a1.25 1.25 0 1 0 2.5 0a1.25 1.25 0 1 0 -2.5 0M192.2 557.6a1.25 1.25 0 1 0 2.5 0a1.25 1.25 0 1 0 -2.5 0M192.2 545.3a1.25 1.25 0 1 0 2.5 0a1.25 1.25 0 1 0 -2.5 0M192.2 533.8a1.25 1.25 0 1 0 2.5 0a1.25 1.25 0 1 0 -2.5 0M192.2 543.6a1.25 1.25 0 1 0 2.5 0a1.25 1.25 0 1 0 -2.5 0M192.2 562.3a1.25 1.25 0 1 0 2.5 0a1.25 1.25 0 1 0 -2.5 0M192.2 556.3a1.25 1.25 0 1 0 2.5 0a1.25 1.25 0 1 0 -2.5 0M192.2 562.3a1.25 1.25 0 1 0 2.5 0a1.25 1.25 0 1 0 -2.5 0M192.2 560.4a1.25 1.25 0 1 0 2.5 0a1.25 1.25 0 1 0 -2.5 0M192.2 560.1a1.25 1.25 0 1 0 2.5 0a1.25 1.25 0 1 0 -2.5 0M192.2 535.9a1.25 1.25 0 1 0 2.5 0a1.25 1.25 0 1 0 -2.5 0M192.2 556.9a1.25 1.25 0 1 0 2.5 0a1.25 1.25 0 1 0 -2.5 0M192.2 551.7a1.25 1.25 0 1 0 2.5 0a1.25 1.25 0 1 0 -2.5 0M192.2 561.5a1.25 1.25 0 1 0 2.5 0a1.25 1.25 0 1 0 -2.5 0M192.2 541.6a1.25 1.25 0 1 0 2.5 0a1.25 1.25 0 1 0 -2.5 0M192.2 562.2a1.25 1.25 0 1 0 2.5 0a1.25 1.25 0 1 0 -2.5 0M192.2 561.7a1.25 1.25 0 1 0 2.5 0a1.25 1.25 0 1 0 -2.5 0M192.2 548.8a1.25 1.25 0 1 0 2.5 0a1.25 1.25 0 1 0 -2.5 0M192.2 557.0a1.25 1.25 0 1 0 2.5 0a1.25 1.25 0 1 0 -2.5 0M192.2 551.0a1.25 1.25 0 1 0 2.5 0a1.25 1.25 0 1 0 -2.5 0M192.2 557.6a1.25 1.25 0 1 0 2.5 0a1.25 1.25 0 1 0 -2.5 0M192.2 561.8a1.25 1.25 0 1 0 2.5 0a1.25 1.25 0 1 0 -2.5 0M192.2 545.9a1.25 1.25 0 1 0 2.5 0a1.25 1.25 0 1 0 -2.5 0M192.2 560.7a1.25 1.25 0 1 0 2.5 0a1.25 1.25 0 1 0 -2.5 0M192.2 533.2a1.25 1.25 0 1 0 2.5 0a1.25 1.25 0 1 0 -2.5 0M192.2 555.3a1.25 1.25 0 1 0 2.5 0a1.25 1.25 0 1 0 -2.5 0M192.2 549.4a1.25 1.25 0 1 0 2.5 0a1.25 1.25 0 1 0 -2.5 0M192.2 553.9a1.25 1.25 0 1 0 2.5 0a1.25 1.25 0 1 0 -2.5 0M192.2 562.0a1.25 1.25 0 1 0 2.5 0a1.25 1.25 0 1 0 -2.5 0M192.2 562.2a1.25 1.25 0 1 0 2.5 0a1.25 1.25 0 1 0 -2.5 0M192.2 539.9a1.25 1.25 0 1 0 2.5 0a1.25 1.25 0 1 0 -2.5 0M192.2 544.3a1.25 1.25 0 1 0 2.5 0a1.25 1.25 0 1 0 -2.5 0M192.2 548.1a1.25 1.25 0 1 0 2.5 0a1.25 1.25 0 1 0 -2.5 0M192.2 561.5a1.25 1.25 0 1 0 2.5 0a1.25 1.25 0 1 0 -2.5 0M192.2 560.9a1.25 1.25 0 1 0 2.5 0a1.25 1.25 0 1 0 -2.5 0M192.2 558.1a1.25 1.25 0 1 0 2.5 0a1.25 1.25 0 1 0 -2.5 0M192.2 532.6a1.25 1.25 0 1 0 2.5 0a1.25 1.25 0 1 0 -2.5 0M192.2 533.7a1.25 1.25 0 1 0 2.5 0a1.25 1.25 0 1 0 -2.5 0M192.2 552.9a1.25 1.25 0 1 0 2.5 0a1.25 1.25 0 1 0 -2.5 0M192.2 553.1a1.25 1.25 0 1 0 2.5 0a1.25 1.25 0 1 0 -2.5 0M192.2 555.3a1.25 1.25 0 1 0 2.5 0a1.25 1.25 0 1 0 -2.5 0M192.2 556.1a1.25 1.25 0 1 0 2.5 0a1.25 1.25 0 1 0 -2.5 0M192.2 534.5a1.25 1.25 0 1 0 2.5 0a1.25 1.25 0 1 0 -2.5 0M192.2 552.5a1.25 1.25 0 1 0 2.5 0a1.25 1.25 0 1 0 -2.5 0M192.2 561.7a1.25 1.25 0 1 0 2.5 0a1.25 1.25 0 1 0 -2.5 0M192.2 542.3a1.25 1.25 0 1 0 2.5 0a1.25 1.25 0 1 0 -2.5 0M192.2 556.5a1.25 1.25 0 1 0 2.5 0a1.25 1.25 0 1 0 -2.5 0M192.2 542.5a1.25 1.25 0 1 0 2.5 0a1.25 1.25 0 1 0 -2.5 0M192.2 546.9a1.25 1.25 0 1 0 2.5 0a1.25 1.25 0 1 0 -2.5 0M192.2 556.4a1.25 1.25 0 1 0 2.5 0a1.25 1.25 0 1 0 -2.5 0M192.2 558.4a1.25 1.25 0 1 0 2.5 0a1.25 1.25 0 1 0 -2.5 0M192.2 542.8a1.25 1.25 0 1 0 2.5 0a1.25 1.25 0 1 0 -2.5 0M192.2 558.1a1.25 1.25 0 1 0 2.5 0a1.25 1.25 0 1 0 -2.5 0M192.2 547.4a1.25 1.25 0 1 0 2.5 0a1.25 1.25 0 1 0 -2.5 0M192.2 516.3a1.25 1.25 0 1 0 2.5 0a1.25 1.25 0 1 0 -2.5 0M192.2 534.5a1.25 1.25 0 1 0 2.5 0a1.25 1.25 0 1 0 -2.5 0M192.2 535.5a1.25 1.25 0 1 0 2.5 0a1.25 1.25 0 1 0 -2.5 0M192.2 538.3a1.25 1.25 0 1 0 2.5 0a1.25 1.25 0 1 0 -2.5 0M192.2 532.6a1.25 1.25 0 1 0 2.5 0a1.25 1.25 0 1 0 -2.5 0M192.2 533.5a1.25 1.25 0 1 0 2.5 0a1.25 1.25 0 1 0 -2.5 0" fill="#b3123a"/>
<path d="M210.4 553.2a1.25 1.25 0 1 0 2.5 0a1.25 1.25 0 1 0 -2.5 0M210.4 548.9a1.25 1.25 0 1 0 2.5 0a1.25 1.25 0 1 0 -2.5 0M210.4 549.8a1.25 1.25 0 1 0 2.5 0a1.25 1.25 0 1 0 -2.5 0M210.4 560.2a1.25 1.25 0 1 0 2.5 0a1.25 1.25 0 1 0 -2.5 0M210.4 549.4a1.25 1.25 0 1 0 2.5 0a1.25 1.25 0 1 0 -2.5 0M210.4 553.3a1.25 1.25 0 1 0 2.5 0a1.25 1.25 0 1 0 -2.5 0M210.4 558.5a1.25 1.25 0 1 0 2.5 0a1.25 1.25 0 1 0 -2.5 0M210.4 555.6a1.25 1.25 0 1 0 2.5 0a1.25 1.25 0 1 0 -2.5 0M210.4 561.7a1.25 1.25 0 1 0 2.5 0a1.25 1.25 0 1 0 -2.5 0M210.4 555.0a1.25 1.25 0 1 0 2.5 0a1.25 1.25 0 1 0 -2.5 0M210.4 555.2a1.25 1.25 0 1 0 2.5 0a1.25 1.25 0 1 0 -2.5 0M210.4 554.8a1.25 1.25 0 1 0 2.5 0a1.25 1.25 0 1 0 -2.5 0M210.4 557.3a1.25 1.25 0 1 0 2.5 0a1.25 1.25 0 1 0 -2.5 0M210.4 556.8a1.25 1.25 0 1 0 2.5 0a1.25 1.25 0 1 0 -2.5 0M210.4 560.9a1.25 1.25 0 1 0 2.5 0a1.25 1.25 0 1 0 -2.5 0M210.4 546.7a1.25 1.25 0 1 0 2.5 0a1.25 1.25 0 1 0 -2.5 0M210.4 554.4a1.25 1.25 0 1 0 2.5 0a1.25 1.25 0 1 0 -2.5 0M210.4 554.7a1.25 1.25 0 1 0 2.5 0a1.25 1.25 0 1 0 -2.5 0M210.4 555.2a1.25 1.25 0 1 0 2.5 0a1.25 1.25 0 1 0 -2.5 0M210.4 550.0a1.25 1.25 0 1 0 2.5 0a1.25 1.25 0 1 0 -2.5 0M210.4 552.7a1.25 1.25 0 1 0 2.5 0a1.25 1.25 0 1 0 -2.5 0M210.4 559.9a1.25 1.25 0 1 0 2.5 0a1.25 1.25 0 1 0 -2.5 0M210.4 561.7a1.25 1.25 0 1 0 2.5 0a1.25 1.25 0 1 0 -2.5 0M210.4 557.7a1.25 1.25 0 1 0 2.5 0a1.25 1.25 0 1 0 -2.5 0M210.4 558.6a1.25 1.25 0 1 0 2.5 0a1.25 1.25 0 1 0 -2.5 0M210.4 559.4a1.25 1.25 0 1 0 2.5 0a1.25 1.25 0 1 0 -2.5 0M210.4 552.6a1.25 1.25 0 1 0 2.5 0a1.25 1.25 0 1 0 -2.5 0M210.4 558.5a1.25 1.25 0 1 0 2.5 0a1.25 1.25 0 1 0 -2.5 0M210.4 556.3a1.25 1.25 0 1 0 2.5 0a1.25 1.25 0 1 0 -2.5 0M210.4 552.3a1.25 1.25 0 1 0 2.5 0a1.25 1.25 0 1 0 -2.5 0M210.4 550.5a1.25 1.25 0 1 0 2.5 0a1.25 1.25 0 1 0 -2.5 0M210.4 557.6a1.25 1.25 0 1 0 2.5 0a1.25 1.25 0 1 0 -2.5 0M210.4 557.4a1.25 1.25 0 1 0 2.5 0a1.25 1.25 0 1 0 -2.5 0M210.4 562.2a1.25 1.25 0 1 0 2.5 0a1.25 1.25 0 1 0 -2.5 0M210.4 555.2a1.25 1.25 0 1 0 2.5 0a1.25 1.25 0 1 0 -2.5 0M210.4 557.1a1.25 1.25 0 1 0 2.5 0a1.25 1.25 0 1 0 -2.5 0M210.4 546.8a1.25 1.25 0 1 0 2.5 0a1.25 1.25 0 1 0 -2.5 0M210.4 559.1a1.25 1.25 0 1 0 2.5 0a1.25 1.25 0 1 0 -2.5 0M210.4 554.0a1.25 1.25 0 1 0 2.5 0a1.25 1.25 0 1 0 -2.5 0M210.4 557.7a1.25 1.25 0 1 0 2.5 0a1.25 1.25 0 1 0 -2.5 0M210.4 549.7a1.25 1.25 0 1 0 2.5 0a1.25 1.25 0 1 0 -2.5 0M210.4 555.9a1.25 1.25 0 1 0 2.5 0a1.25 1.25 0 1 0 -2.5 0M210.4 560.8a1.25 1.25 0 1 0 2.5 0a1.25 1.25 0 1 0 -2.5 0M210.4 551.6a1.25 1.25 0 1 0 2.5 0a1.25 1.25 0 1 0 -2.5 0M210.4 554.4a1.25 1.25 0 1 0 2.5 0a1.25 1.25 0 1 0 -2.5 0M210.4 557.3a1.25 1.25 0 1 0 2.5 0a1.25 1.25 0 1 0 -2.5 0M210.4 560.2a1.25 1.25 0 1 0 2.5 0a1.25 1.25 0 1 0 -2.5 0M210.4 561.8a1.25 1.25 0 1 0 2.5 0a1.25 1.25 0 1 0 -2.5 0M210.4 549.7a1.25 1.25 0 1 0 2.5 0a1.25 1.25 0 1 0 -2.5 0M210.4 561.7a1.25 1.25 0 1 0 2.5 0a1.25 1.25 0 1 0 -2.5 0M210.4 549.6a1.25 1.25 0 1 0 2.5 0a1.25 1.25 0 1 0 -2.5 0M210.4 559.2a1.25 1.25 0 1 0 2.5 0a1.25 1.25 0 1 0 -2.5 0M210.4 552.7a1.25 1.25 0 1 0 2.5 0a1.25 1.25 0 1 0 -2.5 0M210.4 557.6a1.25 1.25 0 1 0 2.5 0a1.25 1.25 0 1 0 -2.5 0M210.4 556.2a1.25 1.25 0 1 0 2.5 0a1.25 1.25 0 1 0 -2.5 0M210.4 560.0a1.25 1.25 0 1 0 2.5 0a1.25 1.25 0 1 0 -2.5 0M210.4 554.2a1.25 1.25 0 1 0 2.5 0a1.25 1.25 0 1 0 -2.5 0M210.4 549.7a1.25 1.25 0 1 0 2.5 0a1.25 1.25 0 1 0 -2.5 0M210.4 552.6a1.25 1.25 0 1 0 2.5 0a1.25 1.25 0 1 0 -2.5 0M210.4 560.2a1.25 1.25 0 1 0 2.5 0a1.25 1.25 0 1 0 -2.5 0M210.4 556.5a1.25 1.25 0 1 0 2.5 0a1.25 1.25 0 1 0 -2.5 0M210.4 558.9a1.25 1.25 0 1 0 2.5 0a1.25 1.25 0 1 0 -2.5 0M210.4 546.6a1.25 1.25 0 1 0 2.5 0a1.25 1.25 0 1 0 -2.5 0M210.4 550.4a1.25 1.25 0 1 0 2.5 0a1.25 1.25 0 1 0 -2.5 0M210.4 554.8a1.25 1.25 0 1 0 2.5 0a1.25 1.25 0 1 0 -2.5 0M210.4 558.2a1.25 1.25 0 1 0 2.5 0a1.25 1.25 0 1 0 -2.5 0M210.4 559.6a1.25 1.25 0 1 0 2.5 0a1.25 1.25 0 1 0 -2.5 0M210.4 553.4a1.25 1.25 0 1 0 2.5 0a1.25 1.25 0 1 0 -2.5 0M210.4 549.3a1.25 1.25 0 1 0 2.5 0a1.25 1.25 0 1 0 -2.5 0M210.4 557.7a1.25 1.25 0 1 0 2.5 0a1.25 1.25 0 1 0 -2.5 0M210.4 561.2a1.25 1.25 0 1 0 2.5 0a1.25 1.25 0 1 0 -2.5 0M210.4 549.8a1.25 1.25 0 1 0 2.5 0a1.25 1.25 0 1 0 -2.5 0M210.4 555.6a1.25 1.25 0 1 0 2.5 0a1.25 1.25 0 1 0 -2.5 0M210.4 551.6a1.25 1.25 0 1 0 2.5 0a1.25 1.25 0 1 0 -2.5 0M210.4 552.5a1.25 1.25 0 1 0 2.5 0a1.25 1.25 0 1 0 -2.5 0M210.4 556.3a1.25 1.25 0 1 0 2.5 0a1.25 1.25 0 1 0 -2.5 0M210.4 558.8a1.25 1.25 0 1 0 2.5 0a1.25 1.25 0 1 0 -2.5 0M210.4 551.7a1.25 1.25 0 1 0 2.5 0a1.25 1.25 0 1 0 -2.5 0M210.4 554.5a1.25 1.25 0 1 0 2.5 0a1.25 1.25 0 1 0 -2.5 0M210.4 554.2a1.25 1.25 0 1 0 2.5 0a1.25 1.25 0 1 0 -2.5 0M210.4 545.0a1.25 1.25 0 1 0 2.5 0a1.25 1.25 0 1 0 -2.5 0M210.4 530.7a1.25 1.25 0 1 0 2.5 0a1.25 1.25 0 1 0 -2.5 0M210.4 547.9a1.25 1.25 0 1 0 2.5 0a1.25 1.25 0 1 0 -2.5 0M210.4 548.9a1.25 1.25 0 1 0 2.5 0a1.25 1.25 0 1 0 -2.5 0M210.4 550.8a1.25 1.25 0 1 0 2.5 0a1.25 1.25 0 1 0 -2.5 0M210.4 552.7a1.25 1.25 0 1 0 2.5 0a1.25 1.25 0 1 0 -2.5 0" fill="#1f3f86"/>
<line x1="181.50" y1="502.30" x2="181.50" y2="562.70" stroke="#222" stroke-width="1.0"/>
<line x1="181.10" y1="562.50" x2="221.90" y2="562.50" stroke="#222" stroke-width="1.0"/>
<line x1="179.10" y1="504.50" x2="181.50" y2="504.50" stroke="#222" stroke-width="0.8"/>
<text x="175.80" y="506.38" font-size="4.4" text-anchor="end" fill="#1c1c1c" stroke="#1c1c1c" stroke-width="0.129">6000</text>
<line x1="179.10" y1="524.50" x2="181.50" y2="524.50" stroke="#222" stroke-width="0.8"/>
<text x="175.80" y="525.58" font-size="4.4" text-anchor="end" fill="#1c1c1c" stroke="#1c1c1c" stroke-width="0.129">4000</text>
<line x1="179.10" y1="543.50" x2="181.50" y2="543.50" stroke="#222" stroke-width="0.8"/>
<text x="175.80" y="544.68" font-size="4.4" text-anchor="end" fill="#1c1c1c" stroke="#1c1c1c" stroke-width="0.129">2000</text>
<line x1="179.10" y1="562.50" x2="181.50" y2="562.50" stroke="#222" stroke-width="0.8"/>
<text x="175.80" y="563.88" font-size="4.4" text-anchor="end" fill="#1c1c1c" stroke="#1c1c1c" stroke-width="0.129">0</text>
<line x1="193.50" y1="562.30" x2="193.50" y2="564.50" stroke="#222" stroke-width="0.8"/>
<line x1="211.50" y1="562.30" x2="211.50" y2="564.50" stroke="#222" stroke-width="0.8"/>
<text x="188.00" y="500.98" font-size="4.4" text-anchor="start" fill="#1c1c1c" stroke="#1c1c1c" stroke-width="0.129" textLength="27.60" lengthAdjust="spacingAndGlyphs">P value 0.0209</text>
<text x="202.60" y="572.29" font-size="4.7" text-anchor="middle" fill="#1c1c1c" stroke="#1c1c1c" stroke-width="0.147" textLength="35.20" lengthAdjust="spacingAndGlyphs">Diagnosis Relapse</text>
<text transform="translate(159.80,531.30) rotate(-90) skewX(-12)" x="0" y="2.3" font-size="6.4" text-anchor="middle" fill="#333" textLength="15.0" lengthAdjust="spacingAndGlyphs">EP300</text>
<path d="M265.2 553.6L283.1 551.3M265.2 548.9L283.1 546.4M265.2 544.7L283.1 541.6M265.2 541.0L283.1 539.4M265.2 546.9L283.1 545.5M265.2 539.2L283.1 537.8M265.2 546.9L283.1 542.8M265.2 536.6L283.1 537.9M265.2 534.5L283.1 532.8M265.2 543.6L283.1 544.7M265.2 550.5L283.1 545.3M265.2 535.3L283.1 539.8M265.2 540.2L283.1 539.8M265.2 539.4L283.1 546.7M265.2 538.4L283.1 540.5M265.2 540.7L283.1 544.2M265.2 541.5L283.1 540.0M265.2 541.2L283.1 540.6M265.2 553.3L283.1 556.3M265.2 545.1L283.1 544.1M265.2 549.5L283.1 546.6M265.2 541.3L283.1 549.7M265.2 544.5L283.1 549.4M265.2 552.8L283.1 556.3M265.2 547.5L283.1 552.1M265.2 550.0L283.1 555.7M265.2 544.6L283.1 547.4M265.2 541.7L283.1 542.6M265.2 549.1L283.1 543.5M265.2 553.8L283.1 553.3M265.2 548.3L283.1 549.5M265.2 551.5L283.1 546.1M265.2 546.4L283.1 553.3M265.2 541.7L283.1 549.3M265.2 543.0L283.1 546.9M265.2 542.3L283.1 538.1M265.2 537.6L283.1 542.2M265.2 537.7L283.1 539.2M265.2 546.5L283.1 551.9M265.2 542.0L283.1 543.2M265.2 534.9L283.1 532.9M265.2 541.8L283.1 545.9M265.2 536.2L283.1 546.8M265.2 551.7L283.1 549.7M265.2 541.7L283.1 548.6M265.2 541.4L283.1 538.4M265.2 546.4L283.1 547.9M265.2 549.3L283.1 551.8M265.2 534.6L283.1 540.6M265.2 534.8L283.1 533.6M265.2 542.0L283.1 547.3M265.2 534.4L283.1 538.9M265.2 545.6L283.1 548.9M265.2 534.4L283.1 539.0M265.2 548.2L283.1 548.5M265.2 551.4L283.1 548.8M265.2 545.1L283.1 548.9M265.2 538.4L283.1 537.2M265.2 553.6L283.1 551.4M265.2 548.4L283.1 542.5M265.2 511.4L283.1 531.9M265.2 519.2L283.1 541.1M265.2 523.5L283.1 548.2M265.2 533.3L283.1 544.6M265.2 534.0L283.1 531.9M265.2 534.8L283.1 533.3" stroke="#111" stroke-width="0.9" fill="none"/>
<path d="M263.9 553.6a1.25 1.25 0 1 0 2.5 0a1.25 1.25 0 1 0 -2.5 0M263.9 548.9a1.25 1.25 0 1 0 2.5 0a1.25 1.25 0 1 0 -2.5 0M263.9 544.7a1.25 1.25 0 1 0 2.5 0a1.25 1.25 0 1 0 -2.5 0M263.9 541.0a1.25 1.25 0 1 0 2.5 0a1.25 1.25 0 1 0 -2.5 0M263.9 546.9a1.25 1.25 0 1 0 2.5 0a1.25 1.25 0 1 0 -2.5 0M263.9 539.2a1.25 1.25 0 1 0 2.5 0a1.25 1.25 0 1 0 -2.5 0M263.9 546.9a1.25 1.25 0 1 0 2.5 0a1.25 1.25 0 1 0 -2.5 0M263.9 536.6a1.25 1.25 0 1 0 2.5 0a1.25 1.25 0 1 0 -2.5 0M263.9 534.5a1.25 1.25 0 1 0 2.5 0a1.25 1.25 0 1 0 -2.5 0M263.9 543.6a1.25 1.25 0 1 0 2.5 0a1.25 1.25 0 1 0 -2.5 0M263.9 550.5a1.25 1.25 0 1 0 2.5 0a1.25 1.25 0 1 0 -2.5 0M263.9 535.3a1.25 1.25 0 1 0 2.5 0a1.25 1.25 0 1 0 -2.5 0M263.9 540.2a1.25 1.25 0 1 0 2.5 0a1.25 1.25 0 1 0 -2.5 0M263.9 539.4a1.25 1.25 0 1 0 2.5 0a1.25 1.25 0 1 0 -2.5 0M263.9 538.4a1.25 1.25 0 1 0 2.5 0a1.25 1.25 0 1 0 -2.5 0M263.9 540.7a1.25 1.25 0 1 0 2.5 0a1.25 1.25 0 1 0 -2.5 0M263.9 541.5a1.25 1.25 0 1 0 2.5 0a1.25 1.25 0 1 0 -2.5 0M263.9 541.2a1.25 1.25 0 1 0 2.5 0a1.25 1.25 0 1 0 -2.5 0M263.9 553.3a1.25 1.25 0 1 0 2.5 0a1.25 1.25 0 1 0 -2.5 0M263.9 545.1a1.25 1.25 0 1 0 2.5 0a1.25 1.25 0 1 0 -2.5 0M263.9 549.5a1.25 1.25 0 1 0 2.5 0a1.25 1.25 0 1 0 -2.5 0M263.9 541.3a1.25 1.25 0 1 0 2.5 0a1.25 1.25 0 1 0 -2.5 0M263.9 544.5a1.25 1.25 0 1 0 2.5 0a1.25 1.25 0 1 0 -2.5 0M263.9 552.8a1.25 1.25 0 1 0 2.5 0a1.25 1.25 0 1 0 -2.5 0M263.9 547.5a1.25 1.25 0 1 0 2.5 0a1.25 1.25 0 1 0 -2.5 0M263.9 550.0a1.25 1.25 0 1 0 2.5 0a1.25 1.25 0 1 0 -2.5 0M263.9 544.6a1.25 1.25 0 1 0 2.5 0a1.25 1.25 0 1 0 -2.5 0M263.9 541.7a1.25 1.25 0 1 0 2.5 0a1.25 1.25 0 1 0 -2.5 0M263.9 549.1a1.25 1.25 0 1 0 2.5 0a1.25 1.25 0 1 0 -2.5 0M263.9 553.8a1.25 1.25 0 1 0 2.5 0a1.25 1.25 0 1 0 -2.5 0M263.9 548.3a1.25 1.25 0 1 0 2.5 0a1.25 1.25 0 1 0 -2.5 0M263.9 551.5a1.25 1.25 0 1 0 2.5 0a1.25 1.25 0 1 0 -2.5 0M263.9 546.4a1.25 1.25 0 1 0 2.5 0a1.25 1.25 0 1 0 -2.5 0M263.9 541.7a1.25 1.25 0 1 0 2.5 0a1.25 1.25 0 1 0 -2.5 0M263.9 543.0a1.25 1.25 0 1 0 2.5 0a1.25 1.25 0 1 0 -2.5 0M263.9 542.3a1.25 1.25 0 1 0 2.5 0a1.25 1.25 0 1 0 -2.5 0M263.9 537.6a1.25 1.25 0 1 0 2.5 0a1.25 1.25 0 1 0 -2.5 0M263.9 537.7a1.25 1.25 0 1 0 2.5 0a1.25 1.25 0 1 0 -2.5 0M263.9 546.5a1.25 1.25 0 1 0 2.5 0a1.25 1.25 0 1 0 -2.5 0M263.9 542.0a1.25 1.25 0 1 0 2.5 0a1.25 1.25 0 1 0 -2.5 0M263.9 534.9a1.25 1.25 0 1 0 2.5 0a1.25 1.25 0 1 0 -2.5 0M263.9 541.8a1.25 1.25 0 1 0 2.5 0a1.25 1.25 0 1 0 -2.5 0M263.9 536.2a1.25 1.25 0 1 0 2.5 0a1.25 1.25 0 1 0 -2.5 0M263.9 551.7a1.25 1.25 0 1 0 2.5 0a1.25 1.25 0 1 0 -2.5 0M263.9 541.7a1.25 1.25 0 1 0 2.5 0a1.25 1.25 0 1 0 -2.5 0M263.9 541.4a1.25 1.25 0 1 0 2.5 0a1.25 1.25 0 1 0 -2.5 0M263.9 546.4a1.25 1.25 0 1 0 2.5 0a1.25 1.25 0 1 0 -2.5 0M263.9 549.3a1.25 1.25 0 1 0 2.5 0a1.25 1.25 0 1 0 -2.5 0M263.9 534.6a1.25 1.25 0 1 0 2.5 0a1.25 1.25 0 1 0 -2.5 0M263.9 534.8a1.25 1.25 0 1 0 2.5 0a1.25 1.25 0 1 0 -2.5 0M263.9 542.0a1.25 1.25 0 1 0 2.5 0a1.25 1.25 0 1 0 -2.5 0M263.9 534.4a1.25 1.25 0 1 0 2.5 0a1.25 1.25 0 1 0 -2.5 0M263.9 545.6a1.25 1.25 0 1 0 2.5 0a1.25 1.25 0 1 0 -2.5 0M263.9 534.4a1.25 1.25 0 1 0 2.5 0a1.25 1.25 0 1 0 -2.5 0M263.9 548.2a1.25 1.25 0 1 0 2.5 0a1.25 1.25 0 1 0 -2.5 0M263.9 551.4a1.25 1.25 0 1 0 2.5 0a1.25 1.25 0 1 0 -2.5 0M263.9 545.1a1.25 1.25 0 1 0 2.5 0a1.25 1.25 0 1 0 -2.5 0M263.9 538.4a1.25 1.25 0 1 0 2.5 0a1.25 1.25 0 1 0 -2.5 0M263.9 553.6a1.25 1.25 0 1 0 2.5 0a1.25 1.25 0 1 0 -2.5 0M263.9 548.4a1.25 1.25 0 1 0 2.5 0a1.25 1.25 0 1 0 -2.5 0M263.9 511.4a1.25 1.25 0 1 0 2.5 0a1.25 1.25 0 1 0 -2.5 0M263.9 519.2a1.25 1.25 0 1 0 2.5 0a1.25 1.25 0 1 0 -2.5 0M263.9 523.5a1.25 1.25 0 1 0 2.5 0a1.25 1.25 0 1 0 -2.5 0M263.9 533.3a1.25 1.25 0 1 0 2.5 0a1.25 1.25 0 1 0 -2.5 0M263.9 534.0a1.25 1.25 0 1 0 2.5 0a1.25 1.25 0 1 0 -2.5 0M263.9 534.8a1.25 1.25 0 1 0 2.5 0a1.25 1.25 0 1 0 -2.5 0" fill="#b3123a"/>
<path d="M281.9 551.3a1.25 1.25 0 1 0 2.5 0a1.25 1.25 0 1 0 -2.5 0M281.9 546.4a1.25 1.25 0 1 0 2.5 0a1.25 1.25 0 1 0 -2.5 0M281.9 541.6a1.25 1.25 0 1 0 2.5 0a1.25 1.25 0 1 0 -2.5 0M281.9 539.4a1.25 1.25 0 1 0 2.5 0a1.25 1.25 0 1 0 -2.5 0M281.9 545.5a1.25 1.25 0 1 0 2.5 0a1.25 1.25 0 1 0 -2.5 0M281.9 537.8a1.25 1.25 0 1 0 2.5 0a1.25 1.25 0 1 0 -2.5 0M281.9 542.8a1.25 1.25 0 1 0 2.5 0a1.25 1.25 0 1 0 -2.5 0M281.9 537.9a1.25 1.25 0 1 0 2.5 0a1.25 1.25 0 1 0 -2.5 0M281.9 532.8a1.25 1.25 0 1 0 2.5 0a1.25 1.25 0 1 0 -2.5 0M281.9 544.7a1.25 1.25 0 1 0 2.5 0a1.25 1.25 0 1 0 -2.5 0M281.9 545.3a1.25 1.25 0 1 0 2.5 0a1.25 1.25 0 1 0 -2.5 0M281.9 539.8a1.25 1.25 0 1 0 2.5 0a1.25 1.25 0 1 0 -2.5 0M281.9 539.8a1.25 1.25 0 1 0 2.5 0a1.25 1.25 0 1 0 -2.5 0M281.9 546.7a1.25 1.25 0 1 0 2.5 0a1.25 1.25 0 1 0 -2.5 0M281.9 540.5a1.25 1.25 0 1 0 2.5 0a1.25 1.25 0 1 0 -2.5 0M281.9 544.2a1.25 1.25 0 1 0 2.5 0a1.25 1.25 0 1 0 -2.5 0M281.9 540.0a1.25 1.25 0 1 0 2.5 0a1.25 1.25 0 1 0 -2.5 0M281.9 540.6a1.25 1.25 0 1 0 2.5 0a1.25 1.25 0 1 0 -2.5 0M281.9 556.3a1.25 1.25 0 1 0 2.5 0a1.25 1.25 0 1 0 -2.5 0M281.9 544.1a1.25 1.25 0 1 0 2.5 0a1.25 1.25 0 1 0 -2.5 0M281.9 546.6a1.25 1.25 0 1 0 2.5 0a1.25 1.25 0 1 0 -2.5 0M281.9 549.7a1.25 1.25 0 1 0 2.5 0a1.25 1.25 0 1 0 -2.5 0M281.9 549.4a1.25 1.25 0 1 0 2.5 0a1.25 1.25 0 1 0 -2.5 0M281.9 556.3a1.25 1.25 0 1 0 2.5 0a1.25 1.25 0 1 0 -2.5 0M281.9 552.1a1.25 1.25 0 1 0 2.5 0a1.25 1.25 0 1 0 -2.5 0M281.9 555.7a1.25 1.25 0 1 0 2.5 0a1.25 1.25 0 1 0 -2.5 0M281.9 547.4a1.25 1.25 0 1 0 2.5 0a1.25 1.25 0 1 0 -2.5 0M281.9 542.6a1.25 1.25 0 1 0 2.5 0a1.25 1.25 0 1 0 -2.5 0M281.9 543.5a1.25 1.25 0 1 0 2.5 0a1.25 1.25 0 1 0 -2.5 0M281.9 553.3a1.25 1.25 0 1 0 2.5 0a1.25 1.25 0 1 0 -2.5 0M281.9 549.5a1.25 1.25 0 1 0 2.5 0a1.25 1.25 0 1 0 -2.5 0M281.9 546.1a1.25 1.25 0 1 0 2.5 0a1.25 1.25 0 1 0 -2.5 0M281.9 553.3a1.25 1.25 0 1 0 2.5 0a1.25 1.25 0 1 0 -2.5 0M281.9 549.3a1.25 1.25 0 1 0 2.5 0a1.25 1.25 0 1 0 -2.5 0M281.9 546.9a1.25 1.25 0 1 0 2.5 0a1.25 1.25 0 1 0 -2.5 0M281.9 538.1a1.25 1.25 0 1 0 2.5 0a1.25 1.25 0 1 0 -2.5 0M281.9 542.2a1.25 1.25 0 1 0 2.5 0a1.25 1.25 0 1 0 -2.5 0M281.9 539.2a1.25 1.25 0 1 0 2.5 0a1.25 1.25 0 1 0 -2.5 0M281.9 551.9a1.25 1.25 0 1 0 2.5 0a1.25 1.25 0 1 0 -2.5 0M281.9 543.2a1.25 1.25 0 1 0 2.5 0a1.25 1.25 0 1 0 -2.5 0M281.9 532.9a1.25 1.25 0 1 0 2.5 0a1.25 1.25 0 1 0 -2.5 0M281.9 545.9a1.25 1.25 0 1 0 2.5 0a1.25 1.25 0 1 0 -2.5 0M281.9 546.8a1.25 1.25 0 1 0 2.5 0a1.25 1.25 0 1 0 -2.5 0M281.9 549.7a1.25 1.25 0 1 0 2.5 0a1.25 1.25 0 1 0 -2.5 0M281.9 548.6a1.25 1.25 0 1 0 2.5 0a1.25 1.25 0 1 0 -2.5 0M281.9 538.4a1.25 1.25 0 1 0 2.5 0a1.25 1.25 0 1 0 -2.5 0M281.9 547.9a1.25 1.25 0 1 0 2.5 0a1.25 1.25 0 1 0 -2.5 0M281.9 551.8a1.25 1.25 0 1 0 2.5 0a1.25 1.25 0 1 0 -2.5 0M281.9 540.6a1.25 1.25 0 1 0 2.5 0a1.25 1.25 0 1 0 -2.5 0M281.9 533.6a1.25 1.25 0 1 0 2.5 0a1.25 1.25 0 1 0 -2.5 0M281.9 547.3a1.25 1.25 0 1 0 2.5 0a1.25 1.25 0 1 0 -2.5 0M281.9 538.9a1.25 1.25 0 1 0 2.5 0a1.25 1.25 0 1 0 -2.5 0M281.9 548.9a1.25 1.25 0 1 0 2.5 0a1.25 1.25 0 1 0 -2.5 0M281.9 539.0a1.25 1.25 0 1 0 2.5 0a1.25 1.25 0 1 0 -2.5 0M281.9 548.5a1.25 1.25 0 1 0 2.5 0a1.25 1.25 0 1 0 -2.5 0M281.9 548.8a1.25 1.25 0 1 0 2.5 0a1.25 1.25 0 1 0 -2.5 0M281.9 548.9a1.25 1.25 0 1 0 2.5 0a1.25 1.25 0 1 0 -2.5 0M281.9 537.2a1.25 1.25 0 1 0 2.5 0a1.25 1.25 0 1 0 -2.5 0M281.9 551.4a1.25 1.25 0 1 0 2.5 0a1.25 1.25 0 1 0 -2.5 0M281.9 542.5a1.25 1.25 0 1 0 2.5 0a1.25 1.25 0 1 0 -2.5 0M281.9 531.9a1.25 1.25 0 1 0 2.5 0a1.25 1.25 0 1 0 -2.5 0M281.9 541.1a1.25 1.25 0 1 0 2.5 0a1.25 1.25 0 1 0 -2.5 0M281.9 548.2a1.25 1.25 0 1 0 2.5 0a1.25 1.25 0 1 0 -2.5 0M281.9 544.6a1.25 1.25 0 1 0 2.5 0a1.25 1.25 0 1 0 -2.5 0M281.9 531.9a1.25 1.25 0 1 0 2.5 0a1.25 1.25 0 1 0 -2.5 0M281.9 533.3a1.25 1.25 0 1 0 2.5 0a1.25 1.25 0 1 0 -2.5 0" fill="#1f3f86"/>
<line x1="253.50" y1="502.30" x2="253.50" y2="562.70" stroke="#222" stroke-width="1.0"/>
<line x1="253.30" y1="562.50" x2="294.60" y2="562.50" stroke="#222" stroke-width="1.0"/>
<line x1="251.30" y1="505.50" x2="253.70" y2="505.50" stroke="#222" stroke-width="0.8"/>
<text x="247.90" y="507.38" font-size="4.4" text-anchor="end" fill="#1c1c1c" stroke="#1c1c1c" stroke-width="0.129">10000</text>
<line x1="251.30" y1="520.50" x2="253.70" y2="520.50" stroke="#222" stroke-width="0.8"/>
<text x="247.90" y="521.58" font-size="4.4" text-anchor="end" fill="#1c1c1c" stroke="#1c1c1c" stroke-width="0.129">8000</text>
<line x1="251.30" y1="534.50" x2="253.70" y2="534.50" stroke="#222" stroke-width="0.8"/>
<text x="247.90" y="535.78" font-size="4.4" text-anchor="end" fill="#1c1c1c" stroke="#1c1c1c" stroke-width="0.129">6000</text>
<line x1="251.30" y1="548.50" x2="253.70" y2="548.50" stroke="#222" stroke-width="0.8"/>
<text x="247.90" y="549.98" font-size="4.4" text-anchor="end" fill="#1c1c1c" stroke="#1c1c1c" stroke-width="0.129">4000</text>
<line x1="251.30" y1="562.50" x2="253.70" y2="562.50" stroke="#222" stroke-width="0.8"/>
<text x="247.90" y="563.88" font-size="4.4" text-anchor="end" fill="#1c1c1c" stroke="#1c1c1c" stroke-width="0.129">2000</text>
<line x1="265.50" y1="562.30" x2="265.50" y2="564.50" stroke="#222" stroke-width="0.8"/>
<line x1="283.50" y1="562.30" x2="283.50" y2="564.50" stroke="#222" stroke-width="0.8"/>
<text x="260.40" y="500.97" font-size="4.35" text-anchor="start" fill="#1c1c1c" stroke="#1c1c1c" stroke-width="0.126" textLength="27.30" lengthAdjust="spacingAndGlyphs">P value 0.0349</text>
<text x="274.15" y="572.29" font-size="4.7" text-anchor="middle" fill="#1c1c1c" stroke="#1c1c1c" stroke-width="0.147" textLength="35.20" lengthAdjust="spacingAndGlyphs">Diagnosis Relapse</text>
<text transform="translate(228.70,531.30) rotate(-90) skewX(-12)" x="0" y="2.3" font-size="6.4" text-anchor="middle" fill="#333" textLength="14.0" lengthAdjust="spacingAndGlyphs">GNAS</text>
<path d="M338.1 519.2L356.3 556.5M338.1 533.5L356.3 557.3M338.1 547.9L356.3 558.0M338.1 553.0L356.3 558.3M338.1 556.5L356.3 555.8M338.1 557.3L356.3 558.7M338.1 558.0L356.3 558.0M338.1 558.3L356.3 559.1M338.1 558.7L356.3 557.7M338.1 559.1L356.3 558.6M338.1 559.4L356.3 556.8M338.1 557.6L356.3 556.4M338.1 556.8L356.3 559.4M338.1 558.4L356.3 557.3" stroke="#111" stroke-width="0.9" fill="none"/>
<path d="M336.9 519.2a1.25 1.25 0 1 0 2.5 0a1.25 1.25 0 1 0 -2.5 0M336.9 533.5a1.25 1.25 0 1 0 2.5 0a1.25 1.25 0 1 0 -2.5 0M336.9 547.9a1.25 1.25 0 1 0 2.5 0a1.25 1.25 0 1 0 -2.5 0M336.9 553.0a1.25 1.25 0 1 0 2.5 0a1.25 1.25 0 1 0 -2.5 0M336.9 556.5a1.25 1.25 0 1 0 2.5 0a1.25 1.25 0 1 0 -2.5 0M336.9 557.3a1.25 1.25 0 1 0 2.5 0a1.25 1.25 0 1 0 -2.5 0M336.9 558.0a1.25 1.25 0 1 0 2.5 0a1.25 1.25 0 1 0 -2.5 0M336.9 558.3a1.25 1.25 0 1 0 2.5 0a1.25 1.25 0 1 0 -2.5 0M336.9 558.7a1.25 1.25 0 1 0 2.5 0a1.25 1.25 0 1 0 -2.5 0M336.9 559.1a1.25 1.25 0 1 0 2.5 0a1.25 1.25 0 1 0 -2.5 0M336.9 559.4a1.25 1.25 0 1 0 2.5 0a1.25 1.25 0 1 0 -2.5 0M336.9 557.6a1.25 1.25 0 1 0 2.5 0a1.25 1.25 0 1 0 -2.5 0M336.9 556.8a1.25 1.25 0 1 0 2.5 0a1.25 1.25 0 1 0 -2.5 0M336.9 558.4a1.25 1.25 0 1 0 2.5 0a1.25 1.25 0 1 0 -2.5 0" fill="#b3123a"/>
<path d="M355.1 556.5a1.25 1.25 0 1 0 2.5 0a1.25 1.25 0 1 0 -2.5 0M355.1 557.3a1.25 1.25 0 1 0 2.5 0a1.25 1.25 0 1 0 -2.5 0M355.1 558.0a1.25 1.25 0 1 0 2.5 0a1.25 1.25 0 1 0 -2.5 0M355.1 558.3a1.25 1.25 0 1 0 2.5 0a1.25 1.25 0 1 0 -2.5 0M355.1 555.8a1.25 1.25 0 1 0 2.5 0a1.25 1.25 0 1 0 -2.5 0M355.1 558.7a1.25 1.25 0 1 0 2.5 0a1.25 1.25 0 1 0 -2.5 0M355.1 558.0a1.25 1.25 0 1 0 2.5 0a1.25 1.25 0 1 0 -2.5 0M355.1 559.1a1.25 1.25 0 1 0 2.5 0a1.25 1.25 0 1 0 -2.5 0M355.1 557.7a1.25 1.25 0 1 0 2.5 0a1.25 1.25 0 1 0 -2.5 0M355.1 558.6a1.25 1.25 0 1 0 2.5 0a1.25 1.25 0 1 0 -2.5 0M355.1 556.8a1.25 1.25 0 1 0 2.5 0a1.25 1.25 0 1 0 -2.5 0M355.1 556.4a1.25 1.25 0 1 0 2.5 0a1.25 1.25 0 1 0 -2.5 0M355.1 559.4a1.25 1.25 0 1 0 2.5 0a1.25 1.25 0 1 0 -2.5 0M355.1 557.3a1.25 1.25 0 1 0 2.5 0a1.25 1.25 0 1 0 -2.5 0" fill="#1f3f86"/>
<line x1="326.50" y1="502.30" x2="326.50" y2="562.70" stroke="#222" stroke-width="1.0"/>
<line x1="326.10" y1="562.50" x2="365.40" y2="562.50" stroke="#222" stroke-width="1.0"/>
<line x1="324.10" y1="504.50" x2="326.50" y2="504.50" stroke="#222" stroke-width="0.8"/>
<text x="320.80" y="506.38" font-size="4.4" text-anchor="end" fill="#1c1c1c" stroke="#1c1c1c" stroke-width="0.129">400</text>
<line x1="324.10" y1="519.50" x2="326.50" y2="519.50" stroke="#222" stroke-width="0.8"/>
<text x="320.80" y="520.78" font-size="4.4" text-anchor="end" fill="#1c1c1c" stroke="#1c1c1c" stroke-width="0.129">300</text>
<line x1="324.10" y1="533.50" x2="326.50" y2="533.50" stroke="#222" stroke-width="0.8"/>
<text x="320.80" y="535.18" font-size="4.4" text-anchor="end" fill="#1c1c1c" stroke="#1c1c1c" stroke-width="0.129">200</text>
<line x1="324.10" y1="547.50" x2="326.50" y2="547.50" stroke="#222" stroke-width="0.8"/>
<text x="320.80" y="549.48" font-size="4.4" text-anchor="end" fill="#1c1c1c" stroke="#1c1c1c" stroke-width="0.129">100</text>
<line x1="324.10" y1="562.50" x2="326.50" y2="562.50" stroke="#222" stroke-width="0.8"/>
<text x="320.80" y="563.88" font-size="4.4" text-anchor="end" fill="#1c1c1c" stroke="#1c1c1c" stroke-width="0.129">0</text>
<line x1="338.50" y1="562.30" x2="338.50" y2="564.50" stroke="#222" stroke-width="0.8"/>
<line x1="356.50" y1="562.30" x2="356.50" y2="564.50" stroke="#222" stroke-width="0.8"/>
<text x="332.30" y="500.97" font-size="4.35" text-anchor="start" fill="#1c1c1c" stroke="#1c1c1c" stroke-width="0.126" textLength="27.30" lengthAdjust="spacingAndGlyphs">P value 0.0196</text>
<text x="347.20" y="572.29" font-size="4.7" text-anchor="middle" fill="#1c1c1c" stroke="#1c1c1c" stroke-width="0.147" textLength="35.20" lengthAdjust="spacingAndGlyphs">Diagnosis Relapse</text>
<text transform="translate(306.90,531.30) rotate(-90) skewX(-12)" x="0" y="2.3" font-size="6.4" text-anchor="middle" fill="#333" textLength="17.0" lengthAdjust="spacingAndGlyphs">GRIN2A</text>
<path d="M409.6 525.3L427.7 546.1M409.6 546.6L427.7 554.1M409.6 516.8L427.7 542.4M409.6 532.5L427.7 539.2M409.6 531.0L427.7 534.1M409.6 526.9L427.7 551.1M409.6 526.2L427.7 544.2M409.6 535.6L427.7 545.0M409.6 545.4L427.7 540.1M409.6 538.5L427.7 544.7M409.6 526.9L427.7 533.7M409.6 556.2L427.7 552.7M409.6 538.8L427.7 524.4M409.6 520.9L427.7 534.1M409.6 557.1L427.7 533.5M409.6 540.0L427.7 537.2M409.6 528.4L427.7 532.5M409.6 537.8L427.7 524.3M409.6 541.7L427.7 544.3M409.6 522.4L427.7 547.2M409.6 545.4L427.7 529.0M409.6 555.0L427.7 530.9M409.6 528.9L427.7 540.0M409.6 545.8L427.7 530.9M409.6 520.0L427.7 548.7M409.6 537.9L427.7 537.7M409.6 537.1L427.7 545.6M409.6 551.3L427.7 539.3M409.6 524.1L427.7 552.3M409.6 548.2L427.7 530.0M409.6 524.9L427.7 530.6M409.6 556.6L427.7 535.5M409.6 517.2L427.7 516.6M409.6 528.7L427.7 554.0M409.6 522.8L427.7 546.5M409.6 531.0L427.7 521.3M409.6 528.2L427.7 550.8M409.6 545.6L427.7 525.8M409.6 551.5L427.7 538.5M409.6 540.6L427.7 552.6M409.6 531.9L427.7 555.0M409.6 553.2L427.7 547.3M409.6 554.7L427.7 559.5M409.6 533.9L427.7 529.7M409.6 521.3L427.7 549.3M409.6 539.8L427.7 546.8M409.6 532.9L427.7 538.8M409.6 518.8L427.7 539.9M409.6 555.4L427.7 536.1M409.6 551.4L427.7 537.7M409.6 536.8L427.7 524.1M409.6 534.7L427.7 534.3M409.6 546.8L427.7 539.6M409.6 547.2L427.7 532.3M409.6 536.3L427.7 552.6M409.6 548.0L427.7 546.5M409.6 527.2L427.7 548.9M409.6 528.2L427.7 531.6M409.6 554.2L427.7 536.9M409.6 553.9L427.7 556.9M409.6 533.1L427.7 548.1M409.6 521.4L427.7 536.6M409.6 544.3L427.7 530.0M409.6 556.5L427.7 535.3M409.6 555.5L427.7 556.3M409.6 518.3L427.7 528.5M409.6 548.5L427.7 556.0M409.6 517.4L427.7 528.9M409.6 523.7L427.7 549.6M409.6 531.8L427.7 543.5M409.6 523.2L427.7 524.4M409.6 527.8L427.7 516.3M409.6 520.9L427.7 517.5M409.6 516.3L427.7 532.4M409.6 518.6L427.7 519.8" stroke="#111" stroke-width="0.9" fill="none"/>
<path d="M408.4 525.3a1.25 1.25 0 1 0 2.5 0a1.25 1.25 0 1 0 -2.5 0M408.4 546.6a1.25 1.25 0 1 0 2.5 0a1.25 1.25 0 1 0 -2.5 0M408.4 516.8a1.25 1.25 0 1 0 2.5 0a1.25 1.25 0 1 0 -2.5 0M408.4 532.5a1.25 1.25 0 1 0 2.5 0a1.25 1.25 0 1 0 -2.5 0M408.4 531.0a1.25 1.25 0 1 0 2.5 0a1.25 1.25 0 1 0 -2.5 0M408.4 526.9a1.25 1.25 0 1 0 2.5 0a1.25 1.25 0 1 0 -2.5 0M408.4 526.2a1.25 1.25 0 1 0 2.5 0a1.25 1.25 0 1 0 -2.5 0M408.4 535.6a1.25 1.25 0 1 0 2.5 0a1.25 1.25 0 1 0 -2.5 0M408.4 545.4a1.25 1.25 0 1 0 2.5 0a1.25 1.25 0 1 0 -2.5 0M408.4 538.5a1.25 1.25 0 1 0 2.5 0a1.25 1.25 0 1 0 -2.5 0M408.4 526.9a1.25 1.25 0 1 0 2.5 0a1.25 1.25 0 1 0 -2.5 0M408.4 556.2a1.25 1.25 0 1 0 2.5 0a1.25 1.25 0 1 0 -2.5 0M408.4 538.8a1.25 1.25 0 1 0 2.5 0a1.25 1.25 0 1 0 -2.5 0M408.4 520.9a1.25 1.25 0 1 0 2.5 0a1.25 1.25 0 1 0 -2.5 0M408.4 557.1a1.25 1.25 0 1 0 2.5 0a1.25 1.25 0 1 0 -2.5 0M408.4 540.0a1.25 1.25 0 1 0 2.5 0a1.25 1.25 0 1 0 -2.5 0M408.4 528.4a1.25 1.25 0 1 0 2.5 0a1.25 1.25 0 1 0 -2.5 0M408.4 537.8a1.25 1.25 0 1 0 2.5 0a1.25 1.25 0 1 0 -2.5 0M408.4 541.7a1.25 1.25 0 1 0 2.5 0a1.25 1.25 0 1 0 -2.5 0M408.4 522.4a1.25 1.25 0 1 0 2.5 0a1.25 1.25 0 1 0 -2.5 0M408.4 545.4a1.25 1.25 0 1 0 2.5 0a1.25 1.25 0 1 0 -2.5 0M408.4 555.0a1.25 1.25 0 1 0 2.5 0a1.25 1.25 0 1 0 -2.5 0M408.4 528.9a1.25 1.25 0 1 0 2.5 0a1.25 1.25 0 1 0 -2.5 0M408.4 545.8a1.25 1.25 0 1 0 2.5 0a1.25 1.25 0 1 0 -2.5 0M408.4 520.0a1.25 1.25 0 1 0 2.5 0a1.25 1.25 0 1 0 -2.5 0M408.4 537.9a1.25 1.25 0 1 0 2.5 0a1.25 1.25 0 1 0 -2.5 0M408.4 537.1a1.25 1.25 0 1 0 2.5 0a1.25 1.25 0 1 0 -2.5 0M408.4 551.3a1.25 1.25 0 1 0 2.5 0a1.25 1.25 0 1 0 -2.5 0M408.4 524.1a1.25 1.25 0 1 0 2.5 0a1.25 1.25 0 1 0 -2.5 0M408.4 548.2a1.25 1.25 0 1 0 2.5 0a1.25 1.25 0 1 0 -2.5 0M408.4 524.9a1.25 1.25 0 1 0 2.5 0a1.25 1.25 0 1 0 -2.5 0M408.4 556.6a1.25 1.25 0 1 0 2.5 0a1.25 1.25 0 1 0 -2.5 0M408.4 517.2a1.25 1.25 0 1 0 2.5 0a1.25 1.25 0 1 0 -2.5 0M408.4 528.7a1.25 1.25 0 1 0 2.5 0a1.25 1.25 0 1 0 -2.5 0M408.4 522.8a1.25 1.25 0 1 0 2.5 0a1.25 1.25 0 1 0 -2.5 0M408.4 531.0a1.25 1.25 0 1 0 2.5 0a1.25 1.25 0 1 0 -2.5 0M408.4 528.2a1.25 1.25 0 1 0 2.5 0a1.25 1.25 0 1 0 -2.5 0M408.4 545.6a1.25 1.25 0 1 0 2.5 0a1.25 1.25 0 1 0 -2.5 0M408.4 551.5a1.25 1.25 0 1 0 2.5 0a1.25 1.25 0 1 0 -2.5 0M408.4 540.6a1.25 1.25 0 1 0 2.5 0a1.25 1.25 0 1 0 -2.5 0M408.4 531.9a1.25 1.25 0 1 0 2.5 0a1.25 1.25 0 1 0 -2.5 0M408.4 553.2a1.25 1.25 0 1 0 2.5 0a1.25 1.25 0 1 0 -2.5 0M408.4 554.7a1.25 1.25 0 1 0 2.5 0a1.25 1.25 0 1 0 -2.5 0M408.4 533.9a1.25 1.25 0 1 0 2.5 0a1.25 1.25 0 1 0 -2.5 0M408.4 521.3a1.25 1.25 0 1 0 2.5 0a1.25 1.25 0 1 0 -2.5 0M408.4 539.8a1.25 1.25 0 1 0 2.5 0a1.25 1.25 0 1 0 -2.5 0M408.4 532.9a1.25 1.25 0 1 0 2.5 0a1.25 1.25 0 1 0 -2.5 0M408.4 518.8a1.25 1.25 0 1 0 2.5 0a1.25 1.25 0 1 0 -2.5 0M408.4 555.4a1.25 1.25 0 1 0 2.5 0a1.25 1.25 0 1 0 -2.5 0M408.4 551.4a1.25 1.25 0 1 0 2.5 0a1.25 1.25 0 1 0 -2.5 0M408.4 536.8a1.25 1.25 0 1 0 2.5 0a1.25 1.25 0 1 0 -2.5 0M408.4 534.7a1.25 1.25 0 1 0 2.5 0a1.25 1.25 0 1 0 -2.5 0M408.4 546.8a1.25 1.25 0 1 0 2.5 0a1.25 1.25 0 1 0 -2.5 0M408.4 547.2a1.25 1.25 0 1 0 2.5 0a1.25 1.25 0 1 0 -2.5 0M408.4 536.3a1.25 1.25 0 1 0 2.5 0a1.25 1.25 0 1 0 -2.5 0M408.4 548.0a1.25 1.25 0 1 0 2.5 0a1.25 1.25 0 1 0 -2.5 0M408.4 527.2a1.25 1.25 0 1 0 2.5 0a1.25 1.25 0 1 0 -2.5 0M408.4 528.2a1.25 1.25 0 1 0 2.5 0a1.25 1.25 0 1 0 -2.5 0M408.4 554.2a1.25 1.25 0 1 0 2.5 0a1.25 1.25 0 1 0 -2.5 0M408.4 553.9a1.25 1.25 0 1 0 2.5 0a1.25 1.25 0 1 0 -2.5 0M408.4 533.1a1.25 1.25 0 1 0 2.5 0a1.25 1.25 0 1 0 -2.5 0M408.4 521.4a1.25 1.25 0 1 0 2.5 0a1.25 1.25 0 1 0 -2.5 0M408.4 544.3a1.25 1.25 0 1 0 2.5 0a1.25 1.25 0 1 0 -2.5 0M408.4 556.5a1.25 1.25 0 1 0 2.5 0a1.25 1.25 0 1 0 -2.5 0M408.4 555.5a1.25 1.25 0 1 0 2.5 0a1.25 1.25 0 1 0 -2.5 0M408.4 518.3a1.25 1.25 0 1 0 2.5 0a1.25 1.25 0 1 0 -2.5 0M408.4 548.5a1.25 1.25 0 1 0 2.5 0a1.25 1.25 0 1 0 -2.5 0M408.4 517.4a1.25 1.25 0 1 0 2.5 0a1.25 1.25 0 1 0 -2.5 0M408.4 523.7a1.25 1.25 0 1 0 2.5 0a1.25 1.25 0 1 0 -2.5 0M408.4 531.8a1.25 1.25 0 1 0 2.5 0a1.25 1.25 0 1 0 -2.5 0M408.4 523.2a1.25 1.25 0 1 0 2.5 0a1.25 1.25 0 1 0 -2.5 0M408.4 527.8a1.25 1.25 0 1 0 2.5 0a1.25 1.25 0 1 0 -2.5 0M408.4 520.9a1.25 1.25 0 1 0 2.5 0a1.25 1.25 0 1 0 -2.5 0M408.4 516.3a1.25 1.25 0 1 0 2.5 0a1.25 1.25 0 1 0 -2.5 0M408.4 518.6a1.25 1.25 0 1 0 2.5 0a1.25 1.25 0 1 0 -2.5 0" fill="#b3123a"/>
<path d="M426.4 546.1a1.25 1.25 0 1 0 2.5 0a1.25 1.25 0 1 0 -2.5 0M426.4 554.1a1.25 1.25 0 1 0 2.5 0a1.25 1.25 0 1 0 -2.5 0M426.4 542.4a1.25 1.25 0 1 0 2.5 0a1.25 1.25 0 1 0 -2.5 0M426.4 539.2a1.25 1.25 0 1 0 2.5 0a1.25 1.25 0 1 0 -2.5 0M426.4 534.1a1.25 1.25 0 1 0 2.5 0a1.25 1.25 0 1 0 -2.5 0M426.4 551.1a1.25 1.25 0 1 0 2.5 0a1.25 1.25 0 1 0 -2.5 0M426.4 544.2a1.25 1.25 0 1 0 2.5 0a1.25 1.25 0 1 0 -2.5 0M426.4 545.0a1.25 1.25 0 1 0 2.5 0a1.25 1.25 0 1 0 -2.5 0M426.4 540.1a1.25 1.25 0 1 0 2.5 0a1.25 1.25 0 1 0 -2.5 0M426.4 544.7a1.25 1.25 0 1 0 2.5 0a1.25 1.25 0 1 0 -2.5 0M426.4 533.7a1.25 1.25 0 1 0 2.5 0a1.25 1.25 0 1 0 -2.5 0M426.4 552.7a1.25 1.25 0 1 0 2.5 0a1.25 1.25 0 1 0 -2.5 0M426.4 524.4a1.25 1.25 0 1 0 2.5 0a1.25 1.25 0 1 0 -2.5 0M426.4 534.1a1.25 1.25 0 1 0 2.5 0a1.25 1.25 0 1 0 -2.5 0M426.4 533.5a1.25 1.25 0 1 0 2.5 0a1.25 1.25 0 1 0 -2.5 0M426.4 537.2a1.25 1.25 0 1 0 2.5 0a1.25 1.25 0 1 0 -2.5 0M426.4 532.5a1.25 1.25 0 1 0 2.5 0a1.25 1.25 0 1 0 -2.5 0M426.4 524.3a1.25 1.25 0 1 0 2.5 0a1.25 1.25 0 1 0 -2.5 0M426.4 544.3a1.25 1.25 0 1 0 2.5 0a1.25 1.25 0 1 0 -2.5 0M426.4 547.2a1.25 1.25 0 1 0 2.5 0a1.25 1.25 0 1 0 -2.5 0M426.4 529.0a1.25 1.25 0 1 0 2.5 0a1.25 1.25 0 1 0 -2.5 0M426.4 530.9a1.25 1.25 0 1 0 2.5 0a1.25 1.25 0 1 0 -2.5 0M426.4 540.0a1.25 1.25 0 1 0 2.5 0a1.25 1.25 0 1 0 -2.5 0M426.4 530.9a1.25 1.25 0 1 0 2.5 0a1.25 1.25 0 1 0 -2.5 0M426.4 548.7a1.25 1.25 0 1 0 2.5 0a1.25 1.25 0 1 0 -2.5 0M426.4 537.7a1.25 1.25 0 1 0 2.5 0a1.25 1.25 0 1 0 -2.5 0M426.4 545.6a1.25 1.25 0 1 0 2.5 0a1.25 1.25 0 1 0 -2.5 0M426.4 539.3a1.25 1.25 0 1 0 2.5 0a1.25 1.25 0 1 0 -2.5 0M426.4 552.3a1.25 1.25 0 1 0 2.5 0a1.25 1.25 0 1 0 -2.5 0M426.4 530.0a1.25 1.25 0 1 0 2.5 0a1.25 1.25 0 1 0 -2.5 0M426.4 530.6a1.25 1.25 0 1 0 2.5 0a1.25 1.25 0 1 0 -2.5 0M426.4 535.5a1.25 1.25 0 1 0 2.5 0a1.25 1.25 0 1 0 -2.5 0M426.4 516.6a1.25 1.25 0 1 0 2.5 0a1.25 1.25 0 1 0 -2.5 0M426.4 554.0a1.25 1.25 0 1 0 2.5 0a1.25 1.25 0 1 0 -2.5 0M426.4 546.5a1.25 1.25 0 1 0 2.5 0a1.25 1.25 0 1 0 -2.5 0M426.4 521.3a1.25 1.25 0 1 0 2.5 0a1.25 1.25 0 1 0 -2.5 0M426.4 550.8a1.25 1.25 0 1 0 2.5 0a1.25 1.25 0 1 0 -2.5 0M426.4 525.8a1.25 1.25 0 1 0 2.5 0a1.25 1.25 0 1 0 -2.5 0M426.4 538.5a1.25 1.25 0 1 0 2.5 0a1.25 1.25 0 1 0 -2.5 0M426.4 552.6a1.25 1.25 0 1 0 2.5 0a1.25 1.25 0 1 0 -2.5 0M426.4 555.0a1.25 1.25 0 1 0 2.5 0a1.25 1.25 0 1 0 -2.5 0M426.4 547.3a1.25 1.25 0 1 0 2.5 0a1.25 1.25 0 1 0 -2.5 0M426.4 559.5a1.25 1.25 0 1 0 2.5 0a1.25 1.25 0 1 0 -2.5 0M426.4 529.7a1.25 1.25 0 1 0 2.5 0a1.25 1.25 0 1 0 -2.5 0M426.4 549.3a1.25 1.25 0 1 0 2.5 0a1.25 1.25 0 1 0 -2.5 0M426.4 546.8a1.25 1.25 0 1 0 2.5 0a1.25 1.25 0 1 0 -2.5 0M426.4 538.8a1.25 1.25 0 1 0 2.5 0a1.25 1.25 0 1 0 -2.5 0M426.4 539.9a1.25 1.25 0 1 0 2.5 0a1.25 1.25 0 1 0 -2.5 0M426.4 536.1a1.25 1.25 0 1 0 2.5 0a1.25 1.25 0 1 0 -2.5 0M426.4 537.7a1.25 1.25 0 1 0 2.5 0a1.25 1.25 0 1 0 -2.5 0M426.4 524.1a1.25 1.25 0 1 0 2.5 0a1.25 1.25 0 1 0 -2.5 0M426.4 534.3a1.25 1.25 0 1 0 2.5 0a1.25 1.25 0 1 0 -2.5 0M426.4 539.6a1.25 1.25 0 1 0 2.5 0a1.25 1.25 0 1 0 -2.5 0M426.4 532.3a1.25 1.25 0 1 0 2.5 0a1.25 1.25 0 1 0 -2.5 0M426.4 552.6a1.25 1.25 0 1 0 2.5 0a1.25 1.25 0 1 0 -2.5 0M426.4 546.5a1.25 1.25 0 1 0 2.5 0a1.25 1.25 0 1 0 -2.5 0M426.4 548.9a1.25 1.25 0 1 0 2.5 0a1.25 1.25 0 1 0 -2.5 0M426.4 531.6a1.25 1.25 0 1 0 2.5 0a1.25 1.25 0 1 0 -2.5 0M426.4 536.9a1.25 1.25 0 1 0 2.5 0a1.25 1.25 0 1 0 -2.5 0M426.4 556.9a1.25 1.25 0 1 0 2.5 0a1.25 1.25 0 1 0 -2.5 0M426.4 548.1a1.25 1.25 0 1 0 2.5 0a1.25 1.25 0 1 0 -2.5 0M426.4 536.6a1.25 1.25 0 1 0 2.5 0a1.25 1.25 0 1 0 -2.5 0M426.4 530.0a1.25 1.25 0 1 0 2.5 0a1.25 1.25 0 1 0 -2.5 0M426.4 535.3a1.25 1.25 0 1 0 2.5 0a1.25 1.25 0 1 0 -2.5 0M426.4 556.3a1.25 1.25 0 1 0 2.5 0a1.25 1.25 0 1 0 -2.5 0M426.4 528.5a1.25 1.25 0 1 0 2.5 0a1.25 1.25 0 1 0 -2.5 0M426.4 556.0a1.25 1.25 0 1 0 2.5 0a1.25 1.25 0 1 0 -2.5 0M426.4 528.9a1.25 1.25 0 1 0 2.5 0a1.25 1.25 0 1 0 -2.5 0M426.4 549.6a1.25 1.25 0 1 0 2.5 0a1.25 1.25 0 1 0 -2.5 0M426.4 543.5a1.25 1.25 0 1 0 2.5 0a1.25 1.25 0 1 0 -2.5 0M426.4 524.4a1.25 1.25 0 1 0 2.5 0a1.25 1.25 0 1 0 -2.5 0M426.4 516.3a1.25 1.25 0 1 0 2.5 0a1.25 1.25 0 1 0 -2.5 0M426.4 517.5a1.25 1.25 0 1 0 2.5 0a1.25 1.25 0 1 0 -2.5 0M426.4 532.4a1.25 1.25 0 1 0 2.5 0a1.25 1.25 0 1 0 -2.5 0M426.4 519.8a1.25 1.25 0 1 0 2.5 0a1.25 1.25 0 1 0 -2.5 0" fill="#1f3f86"/>
<line x1="397.50" y1="502.30" x2="397.50" y2="562.70" stroke="#222" stroke-width="1.0"/>
<line x1="397.10" y1="562.50" x2="438.50" y2="562.50" stroke="#222" stroke-width="1.0"/>
<line x1="395.10" y1="504.50" x2="397.50" y2="504.50" stroke="#222" stroke-width="0.8"/>
<text x="391.70" y="506.38" font-size="4.4" text-anchor="end" fill="#1c1c1c" stroke="#1c1c1c" stroke-width="0.129">2500</text>
<line x1="395.10" y1="516.50" x2="397.50" y2="516.50" stroke="#222" stroke-width="0.8"/>
<text x="391.70" y="517.88" font-size="4.4" text-anchor="end" fill="#1c1c1c" stroke="#1c1c1c" stroke-width="0.129">2000</text>
<line x1="395.10" y1="527.50" x2="397.50" y2="527.50" stroke="#222" stroke-width="0.8"/>
<text x="391.70" y="529.38" font-size="4.4" text-anchor="end" fill="#1c1c1c" stroke="#1c1c1c" stroke-width="0.129">1500</text>
<line x1="395.10" y1="539.50" x2="397.50" y2="539.50" stroke="#222" stroke-width="0.8"/>
<text x="391.70" y="540.88" font-size="4.4" text-anchor="end" fill="#1c1c1c" stroke="#1c1c1c" stroke-width="0.129">1000</text>
<line x1="395.10" y1="550.50" x2="397.50" y2="550.50" stroke="#222" stroke-width="0.8"/>
<text x="391.70" y="552.38" font-size="4.4" text-anchor="end" fill="#1c1c1c" stroke="#1c1c1c" stroke-width="0.129">500</text>
<line x1="395.10" y1="562.50" x2="397.50" y2="562.50" stroke="#222" stroke-width="0.8"/>
<text x="391.70" y="563.88" font-size="4.4" text-anchor="end" fill="#1c1c1c" stroke="#1c1c1c" stroke-width="0.129">0</text>
<line x1="409.50" y1="562.30" x2="409.50" y2="564.50" stroke="#222" stroke-width="0.8"/>
<line x1="427.50" y1="562.30" x2="427.50" y2="564.50" stroke="#222" stroke-width="0.8"/>
<text x="403.80" y="501.02" font-size="4.51" text-anchor="start" fill="#1c1c1c" stroke="#1c1c1c" stroke-width="0.136" textLength="28.30" lengthAdjust="spacingAndGlyphs">P value 0.0495</text>
<text x="418.65" y="572.29" font-size="4.7" text-anchor="middle" fill="#1c1c1c" stroke="#1c1c1c" stroke-width="0.147" textLength="35.20" lengthAdjust="spacingAndGlyphs">Diagnosis Relapse</text>
<text transform="translate(374.40,531.30) rotate(-90) skewX(-12)" x="0" y="2.3" font-size="6.4" text-anchor="middle" fill="#333" textLength="16.0" lengthAdjust="spacingAndGlyphs">ADCY9</text>
<path d="M476.7 546.9L495.0 547.9M476.7 533.6L495.0 543.5M476.7 542.0L495.0 548.2M476.7 524.5L495.0 537.1M476.7 525.7L495.0 540.1M476.7 523.7L495.0 538.5M476.7 534.4L495.0 541.2M476.7 528.4L495.0 541.4M476.7 550.5L495.0 551.6M476.7 547.8L495.0 550.7M476.7 522.0L495.0 538.4M476.7 527.6L495.0 544.4M476.7 539.0L495.0 538.5M476.7 533.3L495.0 542.6M476.7 539.2L495.0 547.6M476.7 549.1L495.0 550.2M476.7 542.4L495.0 545.9M476.7 522.4L495.0 541.8M476.7 546.3L495.0 548.3M476.7 548.9L495.0 549.0M476.7 546.9L495.0 546.2M476.7 551.8L495.0 542.1M476.7 542.6L495.0 538.9M476.7 530.6L495.0 538.7M476.7 539.0L495.0 537.7M476.7 550.1L495.0 544.9M476.7 545.2L495.0 543.3M476.7 528.9L495.0 543.8M476.7 547.9L495.0 550.8M476.7 547.0L495.0 550.2M476.7 541.5L495.0 538.1M476.7 542.8L495.0 546.8M476.7 539.1L495.0 545.9M476.7 528.7L495.0 537.6M476.7 548.9L495.0 549.4M476.7 531.2L495.0 535.3M476.7 532.3L495.0 542.2M476.7 518.1L495.0 541.4M476.7 551.3L495.0 543.9M476.7 541.2L495.0 548.5M476.7 536.1L495.0 536.1M476.7 537.2L495.0 544.6M476.7 550.6L495.0 551.4M476.7 521.6L495.0 538.1M476.7 519.9L495.0 541.8M476.7 546.6L495.0 550.2M476.7 541.6L495.0 548.6M476.7 546.3L495.0 546.9M476.7 544.7L495.0 549.6M476.7 551.7L495.0 541.3M476.7 548.5L495.0 546.4M476.7 541.5L495.0 543.9M476.7 550.8L495.0 549.3M476.7 550.3L495.0 546.6M476.7 520.6L495.0 536.5M476.7 523.4L495.0 541.6M476.7 552.1L495.0 547.2M476.7 538.4L495.0 542.5M476.7 542.3L495.0 543.1M476.7 529.0L495.0 535.0M476.7 544.6L495.0 545.9M476.7 524.8L495.0 541.9M476.7 550.1L495.0 549.1M476.7 550.8L495.0 543.8M476.7 525.1L495.0 541.2M476.7 519.2L495.0 517.7M476.7 527.8L495.0 533.5M476.7 517.0L495.0 533.5M476.7 517.7L495.0 530.7" stroke="#111" stroke-width="0.9" fill="none"/>
<path d="M475.4 546.9a1.25 1.25 0 1 0 2.5 0a1.25 1.25 0 1 0 -2.5 0M475.4 533.6a1.25 1.25 0 1 0 2.5 0a1.25 1.25 0 1 0 -2.5 0M475.4 542.0a1.25 1.25 0 1 0 2.5 0a1.25 1.25 0 1 0 -2.5 0M475.4 524.5a1.25 1.25 0 1 0 2.5 0a1.25 1.25 0 1 0 -2.5 0M475.4 525.7a1.25 1.25 0 1 0 2.5 0a1.25 1.25 0 1 0 -2.5 0M475.4 523.7a1.25 1.25 0 1 0 2.5 0a1.25 1.25 0 1 0 -2.5 0M475.4 534.4a1.25 1.25 0 1 0 2.5 0a1.25 1.25 0 1 0 -2.5 0M475.4 528.4a1.25 1.25 0 1 0 2.5 0a1.25 1.25 0 1 0 -2.5 0M475.4 550.5a1.25 1.25 0 1 0 2.5 0a1.25 1.25 0 1 0 -2.5 0M475.4 547.8a1.25 1.25 0 1 0 2.5 0a1.25 1.25 0 1 0 -2.5 0M475.4 522.0a1.25 1.25 0 1 0 2.5 0a1.25 1.25 0 1 0 -2.5 0M475.4 527.6a1.25 1.25 0 1 0 2.5 0a1.25 1.25 0 1 0 -2.5 0M475.4 539.0a1.25 1.25 0 1 0 2.5 0a1.25 1.25 0 1 0 -2.5 0M475.4 533.3a1.25 1.25 0 1 0 2.5 0a1.25 1.25 0 1 0 -2.5 0M475.4 539.2a1.25 1.25 0 1 0 2.5 0a1.25 1.25 0 1 0 -2.5 0M475.4 549.1a1.25 1.25 0 1 0 2.5 0a1.25 1.25 0 1 0 -2.5 0M475.4 542.4a1.25 1.25 0 1 0 2.5 0a1.25 1.25 0 1 0 -2.5 0M475.4 522.4a1.25 1.25 0 1 0 2.5 0a1.25 1.25 0 1 0 -2.5 0M475.4 546.3a1.25 1.25 0 1 0 2.5 0a1.25 1.25 0 1 0 -2.5 0M475.4 548.9a1.25 1.25 0 1 0 2.5 0a1.25 1.25 0 1 0 -2.5 0M475.4 546.9a1.25 1.25 0 1 0 2.5 0a1.25 1.25 0 1 0 -2.5 0M475.4 551.8a1.25 1.25 0 1 0 2.5 0a1.25 1.25 0 1 0 -2.5 0M475.4 542.6a1.25 1.25 0 1 0 2.5 0a1.25 1.25 0 1 0 -2.5 0M475.4 530.6a1.25 1.25 0 1 0 2.5 0a1.25 1.25 0 1 0 -2.5 0M475.4 539.0a1.25 1.25 0 1 0 2.5 0a1.25 1.25 0 1 0 -2.5 0M475.4 550.1a1.25 1.25 0 1 0 2.5 0a1.25 1.25 0 1 0 -2.5 0M475.4 545.2a1.25 1.25 0 1 0 2.5 0a1.25 1.25 0 1 0 -2.5 0M475.4 528.9a1.25 1.25 0 1 0 2.5 0a1.25 1.25 0 1 0 -2.5 0M475.4 547.9a1.25 1.25 0 1 0 2.5 0a1.25 1.25 0 1 0 -2.5 0M475.4 547.0a1.25 1.25 0 1 0 2.5 0a1.25 1.25 0 1 0 -2.5 0M475.4 541.5a1.25 1.25 0 1 0 2.5 0a1.25 1.25 0 1 0 -2.5 0M475.4 542.8a1.25 1.25 0 1 0 2.5 0a1.25 1.25 0 1 0 -2.5 0M475.4 539.1a1.25 1.25 0 1 0 2.5 0a1.25 1.25 0 1 0 -2.5 0M475.4 528.7a1.25 1.25 0 1 0 2.5 0a1.25 1.25 0 1 0 -2.5 0M475.4 548.9a1.25 1.25 0 1 0 2.5 0a1.25 1.25 0 1 0 -2.5 0M475.4 531.2a1.25 1.25 0 1 0 2.5 0a1.25 1.25 0 1 0 -2.5 0M475.4 532.3a1.25 1.25 0 1 0 2.5 0a1.25 1.25 0 1 0 -2.5 0M475.4 518.1a1.25 1.25 0 1 0 2.5 0a1.25 1.25 0 1 0 -2.5 0M475.4 551.3a1.25 1.25 0 1 0 2.5 0a1.25 1.25 0 1 0 -2.5 0M475.4 541.2a1.25 1.25 0 1 0 2.5 0a1.25 1.25 0 1 0 -2.5 0M475.4 536.1a1.25 1.25 0 1 0 2.5 0a1.25 1.25 0 1 0 -2.5 0M475.4 537.2a1.25 1.25 0 1 0 2.5 0a1.25 1.25 0 1 0 -2.5 0M475.4 550.6a1.25 1.25 0 1 0 2.5 0a1.25 1.25 0 1 0 -2.5 0M475.4 521.6a1.25 1.25 0 1 0 2.5 0a1.25 1.25 0 1 0 -2.5 0M475.4 519.9a1.25 1.25 0 1 0 2.5 0a1.25 1.25 0 1 0 -2.5 0M475.4 546.6a1.25 1.25 0 1 0 2.5 0a1.25 1.25 0 1 0 -2.5 0M475.4 541.6a1.25 1.25 0 1 0 2.5 0a1.25 1.25 0 1 0 -2.5 0M475.4 546.3a1.25 1.25 0 1 0 2.5 0a1.25 1.25 0 1 0 -2.5 0M475.4 544.7a1.25 1.25 0 1 0 2.5 0a1.25 1.25 0 1 0 -2.5 0M475.4 551.7a1.25 1.25 0 1 0 2.5 0a1.25 1.25 0 1 0 -2.5 0M475.4 548.5a1.25 1.25 0 1 0 2.5 0a1.25 1.25 0 1 0 -2.5 0M475.4 541.5a1.25 1.25 0 1 0 2.5 0a1.25 1.25 0 1 0 -2.5 0M475.4 550.8a1.25 1.25 0 1 0 2.5 0a1.25 1.25 0 1 0 -2.5 0M475.4 550.3a1.25 1.25 0 1 0 2.5 0a1.25 1.25 0 1 0 -2.5 0M475.4 520.6a1.25 1.25 0 1 0 2.5 0a1.25 1.25 0 1 0 -2.5 0M475.4 523.4a1.25 1.25 0 1 0 2.5 0a1.25 1.25 0 1 0 -2.5 0M475.4 552.1a1.25 1.25 0 1 0 2.5 0a1.25 1.25 0 1 0 -2.5 0M475.4 538.4a1.25 1.25 0 1 0 2.5 0a1.25 1.25 0 1 0 -2.5 0M475.4 542.3a1.25 1.25 0 1 0 2.5 0a1.25 1.25 0 1 0 -2.5 0M475.4 529.0a1.25 1.25 0 1 0 2.5 0a1.25 1.25 0 1 0 -2.5 0M475.4 544.6a1.25 1.25 0 1 0 2.5 0a1.25 1.25 0 1 0 -2.5 0M475.4 524.8a1.25 1.25 0 1 0 2.5 0a1.25 1.25 0 1 0 -2.5 0M475.4 550.1a1.25 1.25 0 1 0 2.5 0a1.25 1.25 0 1 0 -2.5 0M475.4 550.8a1.25 1.25 0 1 0 2.5 0a1.25 1.25 0 1 0 -2.5 0M475.4 525.1a1.25 1.25 0 1 0 2.5 0a1.25 1.25 0 1 0 -2.5 0M475.4 519.2a1.25 1.25 0 1 0 2.5 0a1.25 1.25 0 1 0 -2.5 0M475.4 527.8a1.25 1.25 0 1 0 2.5 0a1.25 1.25 0 1 0 -2.5 0M475.4 517.0a1.25 1.25 0 1 0 2.5 0a1.25 1.25 0 1 0 -2.5 0M475.4 517.7a1.25 1.25 0 1 0 2.5 0a1.25 1.25 0 1 0 -2.5 0" fill="#b3123a"/>
<path d="M493.8 547.9a1.25 1.25 0 1 0 2.5 0a1.25 1.25 0 1 0 -2.5 0M493.8 543.5a1.25 1.25 0 1 0 2.5 0a1.25 1.25 0 1 0 -2.5 0M493.8 548.2a1.25 1.25 0 1 0 2.5 0a1.25 1.25 0 1 0 -2.5 0M493.8 537.1a1.25 1.25 0 1 0 2.5 0a1.25 1.25 0 1 0 -2.5 0M493.8 540.1a1.25 1.25 0 1 0 2.5 0a1.25 1.25 0 1 0 -2.5 0M493.8 538.5a1.25 1.25 0 1 0 2.5 0a1.25 1.25 0 1 0 -2.5 0M493.8 541.2a1.25 1.25 0 1 0 2.5 0a1.25 1.25 0 1 0 -2.5 0M493.8 541.4a1.25 1.25 0 1 0 2.5 0a1.25 1.25 0 1 0 -2.5 0M493.8 551.6a1.25 1.25 0 1 0 2.5 0a1.25 1.25 0 1 0 -2.5 0M493.8 550.7a1.25 1.25 0 1 0 2.5 0a1.25 1.25 0 1 0 -2.5 0M493.8 538.4a1.25 1.25 0 1 0 2.5 0a1.25 1.25 0 1 0 -2.5 0M493.8 544.4a1.25 1.25 0 1 0 2.5 0a1.25 1.25 0 1 0 -2.5 0M493.8 538.5a1.25 1.25 0 1 0 2.5 0a1.25 1.25 0 1 0 -2.5 0M493.8 542.6a1.25 1.25 0 1 0 2.5 0a1.25 1.25 0 1 0 -2.5 0M493.8 547.6a1.25 1.25 0 1 0 2.5 0a1.25 1.25 0 1 0 -2.5 0M493.8 550.2a1.25 1.25 0 1 0 2.5 0a1.25 1.25 0 1 0 -2.5 0M493.8 545.9a1.25 1.25 0 1 0 2.5 0a1.25 1.25 0 1 0 -2.5 0M493.8 541.8a1.25 1.25 0 1 0 2.5 0a1.25 1.25 0 1 0 -2.5 0M493.8 548.3a1.25 1.25 0 1 0 2.5 0a1.25 1.25 0 1 0 -2.5 0M493.8 549.0a1.25 1.25 0 1 0 2.5 0a1.25 1.25 0 1 0 -2.5 0M493.8 546.2a1.25 1.25 0 1 0 2.5 0a1.25 1.25 0 1 0 -2.5 0M493.8 542.1a1.25 1.25 0 1 0 2.5 0a1.25 1.25 0 1 0 -2.5 0M493.8 538.9a1.25 1.25 0 1 0 2.5 0a1.25 1.25 0 1 0 -2.5 0M493.8 538.7a1.25 1.25 0 1 0 2.5 0a1.25 1.25 0 1 0 -2.5 0M493.8 537.7a1.25 1.25 0 1 0 2.5 0a1.25 1.25 0 1 0 -2.5 0M493.8 544.9a1.25 1.25 0 1 0 2.5 0a1.25 1.25 0 1 0 -2.5 0M493.8 543.3a1.25 1.25 0 1 0 2.5 0a1.25 1.25 0 1 0 -2.5 0M493.8 543.8a1.25 1.25 0 1 0 2.5 0a1.25 1.25 0 1 0 -2.5 0M493.8 550.8a1.25 1.25 0 1 0 2.5 0a1.25 1.25 0 1 0 -2.5 0M493.8 550.2a1.25 1.25 0 1 0 2.5 0a1.25 1.25 0 1 0 -2.5 0M493.8 538.1a1.25 1.25 0 1 0 2.5 0a1.25 1.25 0 1 0 -2.5 0M493.8 546.8a1.25 1.25 0 1 0 2.5 0a1.25 1.25 0 1 0 -2.5 0M493.8 545.9a1.25 1.25 0 1 0 2.5 0a1.25 1.25 0 1 0 -2.5 0M493.8 537.6a1.25 1.25 0 1 0 2.5 0a1.25 1.25 0 1 0 -2.5 0M493.8 549.4a1.25 1.25 0 1 0 2.5 0a1.25 1.25 0 1 0 -2.5 0M493.8 535.3a1.25 1.25 0 1 0 2.5 0a1.25 1.25 0 1 0 -2.5 0M493.8 542.2a1.25 1.25 0 1 0 2.5 0a1.25 1.25 0 1 0 -2.5 0M493.8 541.4a1.25 1.25 0 1 0 2.5 0a1.25 1.25 0 1 0 -2.5 0M493.8 543.9a1.25 1.25 0 1 0 2.5 0a1.25 1.25 0 1 0 -2.5 0M493.8 548.5a1.25 1.25 0 1 0 2.5 0a1.25 1.25 0 1 0 -2.5 0M493.8 536.1a1.25 1.25 0 1 0 2.5 0a1.25 1.25 0 1 0 -2.5 0M493.8 544.6a1.25 1.25 0 1 0 2.5 0a1.25 1.25 0 1 0 -2.5 0M493.8 551.4a1.25 1.25 0 1 0 2.5 0a1.25 1.25 0 1 0 -2.5 0M493.8 538.1a1.25 1.25 0 1 0 2.5 0a1.25 1.25 0 1 0 -2.5 0M493.8 541.8a1.25 1.25 0 1 0 2.5 0a1.25 1.25 0 1 0 -2.5 0M493.8 550.2a1.25 1.25 0 1 0 2.5 0a1.25 1.25 0 1 0 -2.5 0M493.8 548.6a1.25 1.25 0 1 0 2.5 0a1.25 1.25 0 1 0 -2.5 0M493.8 546.9a1.25 1.25 0 1 0 2.5 0a1.25 1.25 0 1 0 -2.5 0M493.8 549.6a1.25 1.25 0 1 0 2.5 0a1.25 1.25 0 1 0 -2.5 0M493.8 541.3a1.25 1.25 0 1 0 2.5 0a1.25 1.25 0 1 0 -2.5 0M493.8 546.4a1.25 1.25 0 1 0 2.5 0a1.25 1.25 0 1 0 -2.5 0M493.8 543.9a1.25 1.25 0 1 0 2.5 0a1.25 1.25 0 1 0 -2.5 0M493.8 549.3a1.25 1.25 0 1 0 2.5 0a1.25 1.25 0 1 0 -2.5 0M493.8 546.6a1.25 1.25 0 1 0 2.5 0a1.25 1.25 0 1 0 -2.5 0M493.8 536.5a1.25 1.25 0 1 0 2.5 0a1.25 1.25 0 1 0 -2.5 0M493.8 541.6a1.25 1.25 0 1 0 2.5 0a1.25 1.25 0 1 0 -2.5 0M493.8 547.2a1.25 1.25 0 1 0 2.5 0a1.25 1.25 0 1 0 -2.5 0M493.8 542.5a1.25 1.25 0 1 0 2.5 0a1.25 1.25 0 1 0 -2.5 0M493.8 543.1a1.25 1.25 0 1 0 2.5 0a1.25 1.25 0 1 0 -2.5 0M493.8 535.0a1.25 1.25 0 1 0 2.5 0a1.25 1.25 0 1 0 -2.5 0M493.8 545.9a1.25 1.25 0 1 0 2.5 0a1.25 1.25 0 1 0 -2.5 0M493.8 541.9a1.25 1.25 0 1 0 2.5 0a1.25 1.25 0 1 0 -2.5 0M493.8 549.1a1.25 1.25 0 1 0 2.5 0a1.25 1.25 0 1 0 -2.5 0M493.8 543.8a1.25 1.25 0 1 0 2.5 0a1.25 1.25 0 1 0 -2.5 0M493.8 541.2a1.25 1.25 0 1 0 2.5 0a1.25 1.25 0 1 0 -2.5 0M493.8 517.7a1.25 1.25 0 1 0 2.5 0a1.25 1.25 0 1 0 -2.5 0M493.8 533.5a1.25 1.25 0 1 0 2.5 0a1.25 1.25 0 1 0 -2.5 0M493.8 533.5a1.25 1.25 0 1 0 2.5 0a1.25 1.25 0 1 0 -2.5 0M493.8 530.7a1.25 1.25 0 1 0 2.5 0a1.25 1.25 0 1 0 -2.5 0" fill="#1f3f86"/>
<line x1="464.50" y1="502.30" x2="464.50" y2="562.70" stroke="#222" stroke-width="1.0"/>
<line x1="464.20" y1="562.50" x2="508.50" y2="562.50" stroke="#222" stroke-width="1.0"/>
<line x1="462.20" y1="504.50" x2="464.60" y2="504.50" stroke="#222" stroke-width="0.8"/>
<text x="459.00" y="506.38" font-size="4.4" text-anchor="end" fill="#1c1c1c" stroke="#1c1c1c" stroke-width="0.129">400</text>
<line x1="462.20" y1="519.50" x2="464.60" y2="519.50" stroke="#222" stroke-width="0.8"/>
<text x="459.00" y="520.78" font-size="4.4" text-anchor="end" fill="#1c1c1c" stroke="#1c1c1c" stroke-width="0.129">300</text>
<line x1="462.20" y1="533.50" x2="464.60" y2="533.50" stroke="#222" stroke-width="0.8"/>
<text x="459.00" y="535.18" font-size="4.4" text-anchor="end" fill="#1c1c1c" stroke="#1c1c1c" stroke-width="0.129">200</text>
<line x1="462.20" y1="547.50" x2="464.60" y2="547.50" stroke="#222" stroke-width="0.8"/>
<text x="459.00" y="549.48" font-size="4.4" text-anchor="end" fill="#1c1c1c" stroke="#1c1c1c" stroke-width="0.129">100</text>
<line x1="462.20" y1="562.50" x2="464.60" y2="562.50" stroke="#222" stroke-width="0.8"/>
<text x="459.00" y="563.88" font-size="4.4" text-anchor="end" fill="#1c1c1c" stroke="#1c1c1c" stroke-width="0.129">0</text>
<line x1="476.50" y1="562.30" x2="476.50" y2="564.50" stroke="#222" stroke-width="0.8"/>
<line x1="495.50" y1="562.30" x2="495.50" y2="564.50" stroke="#222" stroke-width="0.8"/>
<text x="472.90" y="501.00" font-size="4.45" text-anchor="start" fill="#1c1c1c" stroke="#1c1c1c" stroke-width="0.132" textLength="27.90" lengthAdjust="spacingAndGlyphs">P value 0.0286</text>
<text x="485.85" y="572.29" font-size="4.7" text-anchor="middle" fill="#1c1c1c" stroke="#1c1c1c" stroke-width="0.147" textLength="35.20" lengthAdjust="spacingAndGlyphs">Diagnosis Relapse</text>
<text transform="translate(445.00,531.30) rotate(-90) skewX(-12)" x="0" y="2.3" font-size="6.4" text-anchor="middle" fill="#333" textLength="14.0" lengthAdjust="spacingAndGlyphs">RHOA</text>
<path d="M193.5 634.0L211.7 637.0M193.5 631.0L211.7 635.5M193.5 626.1L211.7 627.0M193.5 630.9L211.7 635.8M193.5 619.0L211.7 630.3M193.5 632.1L211.7 633.6M193.5 627.6L211.7 633.7M193.5 626.3L211.7 630.4M193.5 617.6L211.7 623.2M193.5 613.9L211.7 620.2M193.5 617.4L211.7 622.9M193.5 625.8L211.7 623.9M193.5 620.2L211.7 619.4M193.5 618.3L211.7 621.7M193.5 630.4L211.7 626.1M193.5 627.3L211.7 633.2M193.5 635.7L211.7 636.7M193.5 630.5L211.7 627.9M193.5 629.9L211.7 635.3M193.5 617.3L211.7 623.1M193.5 636.7L211.7 638.7M193.5 634.0L211.7 633.6M193.5 614.8L211.7 616.9M193.5 621.3L211.7 629.1M193.5 626.1L211.7 629.7M193.5 628.7L211.7 635.4M193.5 622.0L211.7 621.9M193.5 618.3L211.7 629.3M193.5 623.5L211.7 630.9M193.5 618.8L211.7 625.2M193.5 612.7L211.7 617.9M193.5 634.3L211.7 634.2M193.5 613.4L211.7 622.4M193.5 626.0L211.7 628.7M193.5 617.2L211.7 618.3M193.5 623.4L211.7 620.8M193.5 621.7L211.7 630.9M193.5 616.0L211.7 624.2M193.5 636.0L211.7 626.7M193.5 636.5L211.7 632.0M193.5 624.7L211.7 622.5M193.5 627.1L211.7 632.0M193.5 630.1L211.7 633.7M193.5 622.6L211.7 628.1M193.5 617.7L211.7 627.2M193.5 628.2L211.7 632.1M193.5 611.6L211.7 616.8M193.5 615.1L211.7 621.2M193.5 626.9L211.7 632.8M193.5 615.5L211.7 623.1M193.5 636.4L211.7 637.1M193.5 634.8L211.7 629.4M193.5 613.7L211.7 625.9M193.5 616.5L211.7 625.6M193.5 619.5L211.7 620.3M193.5 621.0L211.7 621.8M193.5 627.5L211.7 634.8M193.5 623.9L211.7 625.9M193.5 632.5L211.7 632.5M193.5 629.1L211.7 635.3M193.5 629.2L211.7 630.9M193.5 624.9L211.7 624.9M193.5 626.9L211.7 622.3M193.5 616.0L211.7 617.8M193.5 619.2L211.7 622.6M193.5 623.3L211.7 622.9M193.5 627.9L211.7 627.7M193.5 619.5L211.7 624.6M193.5 629.9L211.7 635.1M193.5 635.1L211.7 634.1M193.5 591.7L211.7 626.0M193.5 605.4L211.7 614.6M193.5 606.6L211.7 622.5M193.5 612.3L211.7 606.6M193.5 608.8L211.7 620.3" stroke="#111" stroke-width="0.9" fill="none"/>
<path d="M192.2 634.0a1.25 1.25 0 1 0 2.5 0a1.25 1.25 0 1 0 -2.5 0M192.2 631.0a1.25 1.25 0 1 0 2.5 0a1.25 1.25 0 1 0 -2.5 0M192.2 626.1a1.25 1.25 0 1 0 2.5 0a1.25 1.25 0 1 0 -2.5 0M192.2 630.9a1.25 1.25 0 1 0 2.5 0a1.25 1.25 0 1 0 -2.5 0M192.2 619.0a1.25 1.25 0 1 0 2.5 0a1.25 1.25 0 1 0 -2.5 0M192.2 632.1a1.25 1.25 0 1 0 2.5 0a1.25 1.25 0 1 0 -2.5 0M192.2 627.6a1.25 1.25 0 1 0 2.5 0a1.25 1.25 0 1 0 -2.5 0M192.2 626.3a1.25 1.25 0 1 0 2.5 0a1.25 1.25 0 1 0 -2.5 0M192.2 617.6a1.25 1.25 0 1 0 2.5 0a1.25 1.25 0 1 0 -2.5 0M192.2 613.9a1.25 1.25 0 1 0 2.5 0a1.25 1.25 0 1 0 -2.5 0M192.2 617.4a1.25 1.25 0 1 0 2.5 0a1.25 1.25 0 1 0 -2.5 0M192.2 625.8a1.25 1.25 0 1 0 2.5 0a1.25 1.25 0 1 0 -2.5 0M192.2 620.2a1.25 1.25 0 1 0 2.5 0a1.25 1.25 0 1 0 -2.5 0M192.2 618.3a1.25 1.25 0 1 0 2.5 0a1.25 1.25 0 1 0 -2.5 0M192.2 630.4a1.25 1.25 0 1 0 2.5 0a1.25 1.25 0 1 0 -2.5 0M192.2 627.3a1.25 1.25 0 1 0 2.5 0a1.25 1.25 0 1 0 -2.5 0M192.2 635.7a1.25 1.25 0 1 0 2.5 0a1.25 1.25 0 1 0 -2.5 0M192.2 630.5a1.25 1.25 0 1 0 2.5 0a1.25 1.25 0 1 0 -2.5 0M192.2 629.9a1.25 1.25 0 1 0 2.5 0a1.25 1.25 0 1 0 -2.5 0M192.2 617.3a1.25 1.25 0 1 0 2.5 0a1.25 1.25 0 1 0 -2.5 0M192.2 636.7a1.25 1.25 0 1 0 2.5 0a1.25 1.25 0 1 0 -2.5 0M192.2 634.0a1.25 1.25 0 1 0 2.5 0a1.25 1.25 0 1 0 -2.5 0M192.2 614.8a1.25 1.25 0 1 0 2.5 0a1.25 1.25 0 1 0 -2.5 0M192.2 621.3a1.25 1.25 0 1 0 2.5 0a1.25 1.25 0 1 0 -2.5 0M192.2 626.1a1.25 1.25 0 1 0 2.5 0a1.25 1.25 0 1 0 -2.5 0M192.2 628.7a1.25 1.25 0 1 0 2.5 0a1.25 1.25 0 1 0 -2.5 0M192.2 622.0a1.25 1.25 0 1 0 2.5 0a1.25 1.25 0 1 0 -2.5 0M192.2 618.3a1.25 1.25 0 1 0 2.5 0a1.25 1.25 0 1 0 -2.5 0M192.2 623.5a1.25 1.25 0 1 0 2.5 0a1.25 1.25 0 1 0 -2.5 0M192.2 618.8a1.25 1.25 0 1 0 2.5 0a1.25 1.25 0 1 0 -2.5 0M192.2 612.7a1.25 1.25 0 1 0 2.5 0a1.25 1.25 0 1 0 -2.5 0M192.2 634.3a1.25 1.25 0 1 0 2.5 0a1.25 1.25 0 1 0 -2.5 0M192.2 613.4a1.25 1.25 0 1 0 2.5 0a1.25 1.25 0 1 0 -2.5 0M192.2 626.0a1.25 1.25 0 1 0 2.5 0a1.25 1.25 0 1 0 -2.5 0M192.2 617.2a1.25 1.25 0 1 0 2.5 0a1.25 1.25 0 1 0 -2.5 0M192.2 623.4a1.25 1.25 0 1 0 2.5 0a1.25 1.25 0 1 0 -2.5 0M192.2 621.7a1.25 1.25 0 1 0 2.5 0a1.25 1.25 0 1 0 -2.5 0M192.2 616.0a1.25 1.25 0 1 0 2.5 0a1.25 1.25 0 1 0 -2.5 0M192.2 636.0a1.25 1.25 0 1 0 2.5 0a1.25 1.25 0 1 0 -2.5 0M192.2 636.5a1.25 1.25 0 1 0 2.5 0a1.25 1.25 0 1 0 -2.5 0M192.2 624.7a1.25 1.25 0 1 0 2.5 0a1.25 1.25 0 1 0 -2.5 0M192.2 627.1a1.25 1.25 0 1 0 2.5 0a1.25 1.25 0 1 0 -2.5 0M192.2 630.1a1.25 1.25 0 1 0 2.5 0a1.25 1.25 0 1 0 -2.5 0M192.2 622.6a1.25 1.25 0 1 0 2.5 0a1.25 1.25 0 1 0 -2.5 0M192.2 617.7a1.25 1.25 0 1 0 2.5 0a1.25 1.25 0 1 0 -2.5 0M192.2 628.2a1.25 1.25 0 1 0 2.5 0a1.25 1.25 0 1 0 -2.5 0M192.2 611.6a1.25 1.25 0 1 0 2.5 0a1.25 1.25 0 1 0 -2.5 0M192.2 615.1a1.25 1.25 0 1 0 2.5 0a1.25 1.25 0 1 0 -2.5 0M192.2 626.9a1.25 1.25 0 1 0 2.5 0a1.25 1.25 0 1 0 -2.5 0M192.2 615.5a1.25 1.25 0 1 0 2.5 0a1.25 1.25 0 1 0 -2.5 0M192.2 636.4a1.25 1.25 0 1 0 2.5 0a1.25 1.25 0 1 0 -2.5 0M192.2 634.8a1.25 1.25 0 1 0 2.5 0a1.25 1.25 0 1 0 -2.5 0M192.2 613.7a1.25 1.25 0 1 0 2.5 0a1.25 1.25 0 1 0 -2.5 0M192.2 616.5a1.25 1.25 0 1 0 2.5 0a1.25 1.25 0 1 0 -2.5 0M192.2 619.5a1.25 1.25 0 1 0 2.5 0a1.25 1.25 0 1 0 -2.5 0M192.2 621.0a1.25 1.25 0 1 0 2.5 0a1.25 1.25 0 1 0 -2.5 0M192.2 627.5a1.25 1.25 0 1 0 2.5 0a1.25 1.25 0 1 0 -2.5 0M192.2 623.9a1.25 1.25 0 1 0 2.5 0a1.25 1.25 0 1 0 -2.5 0M192.2 632.5a1.25 1.25 0 1 0 2.5 0a1.25 1.25 0 1 0 -2.5 0M192.2 629.1a1.25 1.25 0 1 0 2.5 0a1.25 1.25 0 1 0 -2.5 0M192.2 629.2a1.25 1.25 0 1 0 2.5 0a1.25 1.25 0 1 0 -2.5 0M192.2 624.9a1.25 1.25 0 1 0 2.5 0a1.25 1.25 0 1 0 -2.5 0M192.2 626.9a1.25 1.25 0 1 0 2.5 0a1.25 1.25 0 1 0 -2.5 0M192.2 616.0a1.25 1.25 0 1 0 2.5 0a1.25 1.25 0 1 0 -2.5 0M192.2 619.2a1.25 1.25 0 1 0 2.5 0a1.25 1.25 0 1 0 -2.5 0M192.2 623.3a1.25 1.25 0 1 0 2.5 0a1.25 1.25 0 1 0 -2.5 0M192.2 627.9a1.25 1.25 0 1 0 2.5 0a1.25 1.25 0 1 0 -2.5 0M192.2 619.5a1.25 1.25 0 1 0 2.5 0a1.25 1.25 0 1 0 -2.5 0M192.2 629.9a1.25 1.25 0 1 0 2.5 0a1.25 1.25 0 1 0 -2.5 0M192.2 635.1a1.25 1.25 0 1 0 2.5 0a1.25 1.25 0 1 0 -2.5 0M192.2 591.7a1.25 1.25 0 1 0 2.5 0a1.25 1.25 0 1 0 -2.5 0M192.2 605.4a1.25 1.25 0 1 0 2.5 0a1.25 1.25 0 1 0 -2.5 0M192.2 606.6a1.25 1.25 0 1 0 2.5 0a1.25 1.25 0 1 0 -2.5 0M192.2 612.3a1.25 1.25 0 1 0 2.5 0a1.25 1.25 0 1 0 -2.5 0M192.2 608.8a1.25 1.25 0 1 0 2.5 0a1.25 1.25 0 1 0 -2.5 0" fill="#b3123a"/>
<path d="M210.4 637.0a1.25 1.25 0 1 0 2.5 0a1.25 1.25 0 1 0 -2.5 0M210.4 635.5a1.25 1.25 0 1 0 2.5 0a1.25 1.25 0 1 0 -2.5 0M210.4 627.0a1.25 1.25 0 1 0 2.5 0a1.25 1.25 0 1 0 -2.5 0M210.4 635.8a1.25 1.25 0 1 0 2.5 0a1.25 1.25 0 1 0 -2.5 0M210.4 630.3a1.25 1.25 0 1 0 2.5 0a1.25 1.25 0 1 0 -2.5 0M210.4 633.6a1.25 1.25 0 1 0 2.5 0a1.25 1.25 0 1 0 -2.5 0M210.4 633.7a1.25 1.25 0 1 0 2.5 0a1.25 1.25 0 1 0 -2.5 0M210.4 630.4a1.25 1.25 0 1 0 2.5 0a1.25 1.25 0 1 0 -2.5 0M210.4 623.2a1.25 1.25 0 1 0 2.5 0a1.25 1.25 0 1 0 -2.5 0M210.4 620.2a1.25 1.25 0 1 0 2.5 0a1.25 1.25 0 1 0 -2.5 0M210.4 622.9a1.25 1.25 0 1 0 2.5 0a1.25 1.25 0 1 0 -2.5 0M210.4 623.9a1.25 1.25 0 1 0 2.5 0a1.25 1.25 0 1 0 -2.5 0M210.4 619.4a1.25 1.25 0 1 0 2.5 0a1.25 1.25 0 1 0 -2.5 0M210.4 621.7a1.25 1.25 0 1 0 2.5 0a1.25 1.25 0 1 0 -2.5 0M210.4 626.1a1.25 1.25 0 1 0 2.5 0a1.25 1.25 0 1 0 -2.5 0M210.4 633.2a1.25 1.25 0 1 0 2.5 0a1.25 1.25 0 1 0 -2.5 0M210.4 636.7a1.25 1.25 0 1 0 2.5 0a1.25 1.25 0 1 0 -2.5 0M210.4 627.9a1.25 1.25 0 1 0 2.5 0a1.25 1.25 0 1 0 -2.5 0M210.4 635.3a1.25 1.25 0 1 0 2.5 0a1.25 1.25 0 1 0 -2.5 0M210.4 623.1a1.25 1.25 0 1 0 2.5 0a1.25 1.25 0 1 0 -2.5 0M210.4 638.7a1.25 1.25 0 1 0 2.5 0a1.25 1.25 0 1 0 -2.5 0M210.4 633.6a1.25 1.25 0 1 0 2.5 0a1.25 1.25 0 1 0 -2.5 0M210.4 616.9a1.25 1.25 0 1 0 2.5 0a1.25 1.25 0 1 0 -2.5 0M210.4 629.1a1.25 1.25 0 1 0 2.5 0a1.25 1.25 0 1 0 -2.5 0M210.4 629.7a1.25 1.25 0 1 0 2.5 0a1.25 1.25 0 1 0 -2.5 0M210.4 635.4a1.25 1.25 0 1 0 2.5 0a1.25 1.25 0 1 0 -2.5 0M210.4 621.9a1.25 1.25 0 1 0 2.5 0a1.25 1.25 0 1 0 -2.5 0M210.4 629.3a1.25 1.25 0 1 0 2.5 0a1.25 1.25 0 1 0 -2.5 0M210.4 630.9a1.25 1.25 0 1 0 2.5 0a1.25 1.25 0 1 0 -2.5 0M210.4 625.2a1.25 1.25 0 1 0 2.5 0a1.25 1.25 0 1 0 -2.5 0M210.4 617.9a1.25 1.25 0 1 0 2.5 0a1.25 1.25 0 1 0 -2.5 0M210.4 634.2a1.25 1.25 0 1 0 2.5 0a1.25 1.25 0 1 0 -2.5 0M210.4 622.4a1.25 1.25 0 1 0 2.5 0a1.25 1.25 0 1 0 -2.5 0M210.4 628.7a1.25 1.25 0 1 0 2.5 0a1.25 1.25 0 1 0 -2.5 0M210.4 618.3a1.25 1.25 0 1 0 2.5 0a1.25 1.25 0 1 0 -2.5 0M210.4 620.8a1.25 1.25 0 1 0 2.5 0a1.25 1.25 0 1 0 -2.5 0M210.4 630.9a1.25 1.25 0 1 0 2.5 0a1.25 1.25 0 1 0 -2.5 0M210.4 624.2a1.25 1.25 0 1 0 2.5 0a1.25 1.25 0 1 0 -2.5 0M210.4 626.7a1.25 1.25 0 1 0 2.5 0a1.25 1.25 0 1 0 -2.5 0M210.4 632.0a1.25 1.25 0 1 0 2.5 0a1.25 1.25 0 1 0 -2.5 0M210.4 622.5a1.25 1.25 0 1 0 2.5 0a1.25 1.25 0 1 0 -2.5 0M210.4 632.0a1.25 1.25 0 1 0 2.5 0a1.25 1.25 0 1 0 -2.5 0M210.4 633.7a1.25 1.25 0 1 0 2.5 0a1.25 1.25 0 1 0 -2.5 0M210.4 628.1a1.25 1.25 0 1 0 2.5 0a1.25 1.25 0 1 0 -2.5 0M210.4 627.2a1.25 1.25 0 1 0 2.5 0a1.25 1.25 0 1 0 -2.5 0M210.4 632.1a1.25 1.25 0 1 0 2.5 0a1.25 1.25 0 1 0 -2.5 0M210.4 616.8a1.25 1.25 0 1 0 2.5 0a1.25 1.25 0 1 0 -2.5 0M210.4 621.2a1.25 1.25 0 1 0 2.5 0a1.25 1.25 0 1 0 -2.5 0M210.4 632.8a1.25 1.25 0 1 0 2.5 0a1.25 1.25 0 1 0 -2.5 0M210.4 623.1a1.25 1.25 0 1 0 2.5 0a1.25 1.25 0 1 0 -2.5 0M210.4 637.1a1.25 1.25 0 1 0 2.5 0a1.25 1.25 0 1 0 -2.5 0M210.4 629.4a1.25 1.25 0 1 0 2.5 0a1.25 1.25 0 1 0 -2.5 0M210.4 625.9a1.25 1.25 0 1 0 2.5 0a1.25 1.25 0 1 0 -2.5 0M210.4 625.6a1.25 1.25 0 1 0 2.5 0a1.25 1.25 0 1 0 -2.5 0M210.4 620.3a1.25 1.25 0 1 0 2.5 0a1.25 1.25 0 1 0 -2.5 0M210.4 621.8a1.25 1.25 0 1 0 2.5 0a1.25 1.25 0 1 0 -2.5 0M210.4 634.8a1.25 1.25 0 1 0 2.5 0a1.25 1.25 0 1 0 -2.5 0M210.4 625.9a1.25 1.25 0 1 0 2.5 0a1.25 1.25 0 1 0 -2.5 0M210.4 632.5a1.25 1.25 0 1 0 2.5 0a1.25 1.25 0 1 0 -2.5 0M210.4 635.3a1.25 1.25 0 1 0 2.5 0a1.25 1.25 0 1 0 -2.5 0M210.4 630.9a1.25 1.25 0 1 0 2.5 0a1.25 1.25 0 1 0 -2.5 0M210.4 624.9a1.25 1.25 0 1 0 2.5 0a1.25 1.25 0 1 0 -2.5 0M210.4 622.3a1.25 1.25 0 1 0 2.5 0a1.25 1.25 0 1 0 -2.5 0M210.4 617.8a1.25 1.25 0 1 0 2.5 0a1.25 1.25 0 1 0 -2.5 0M210.4 622.6a1.25 1.25 0 1 0 2.5 0a1.25 1.25 0 1 0 -2.5 0M210.4 622.9a1.25 1.25 0 1 0 2.5 0a1.25 1.25 0 1 0 -2.5 0M210.4 627.7a1.25 1.25 0 1 0 2.5 0a1.25 1.25 0 1 0 -2.5 0M210.4 624.6a1.25 1.25 0 1 0 2.5 0a1.25 1.25 0 1 0 -2.5 0M210.4 635.1a1.25 1.25 0 1 0 2.5 0a1.25 1.25 0 1 0 -2.5 0M210.4 634.1a1.25 1.25 0 1 0 2.5 0a1.25 1.25 0 1 0 -2.5 0M210.4 626.0a1.25 1.25 0 1 0 2.5 0a1.25 1.25 0 1 0 -2.5 0M210.4 614.6a1.25 1.25 0 1 0 2.5 0a1.25 1.25 0 1 0 -2.5 0M210.4 622.5a1.25 1.25 0 1 0 2.5 0a1.25 1.25 0 1 0 -2.5 0M210.4 606.6a1.25 1.25 0 1 0 2.5 0a1.25 1.25 0 1 0 -2.5 0M210.4 620.3a1.25 1.25 0 1 0 2.5 0a1.25 1.25 0 1 0 -2.5 0" fill="#1f3f86"/>
<line x1="181.50" y1="583.50" x2="181.50" y2="643.50" stroke="#222" stroke-width="1.0"/>
<line x1="180.90" y1="643.50" x2="222.70" y2="643.50" stroke="#222" stroke-width="1.0"/>
<line x1="178.90" y1="586.50" x2="181.30" y2="586.50" stroke="#222" stroke-width="0.8"/>
<text x="175.60" y="587.58" font-size="4.4" text-anchor="end" fill="#1c1c1c" stroke="#1c1c1c" stroke-width="0.129">80</text>
<line x1="178.90" y1="597.50" x2="181.30" y2="597.50" stroke="#222" stroke-width="0.8"/>
<text x="175.60" y="598.98" font-size="4.4" text-anchor="end" fill="#1c1c1c" stroke="#1c1c1c" stroke-width="0.129">70</text>
<line x1="178.90" y1="608.50" x2="181.30" y2="608.50" stroke="#222" stroke-width="0.8"/>
<text x="175.60" y="610.38" font-size="4.4" text-anchor="end" fill="#1c1c1c" stroke="#1c1c1c" stroke-width="0.129">60</text>
<line x1="178.90" y1="620.50" x2="181.30" y2="620.50" stroke="#222" stroke-width="0.8"/>
<text x="175.60" y="621.88" font-size="4.4" text-anchor="end" fill="#1c1c1c" stroke="#1c1c1c" stroke-width="0.129">50</text>
<line x1="178.90" y1="631.50" x2="181.30" y2="631.50" stroke="#222" stroke-width="0.8"/>
<text x="175.60" y="633.28" font-size="4.4" text-anchor="end" fill="#1c1c1c" stroke="#1c1c1c" stroke-width="0.129">40</text>
<line x1="178.90" y1="643.50" x2="181.30" y2="643.50" stroke="#222" stroke-width="0.8"/>
<text x="175.60" y="644.68" font-size="4.4" text-anchor="end" fill="#1c1c1c" stroke="#1c1c1c" stroke-width="0.129">30</text>
<line x1="193.50" y1="643.10" x2="193.50" y2="645.30" stroke="#222" stroke-width="0.8"/>
<line x1="211.50" y1="643.10" x2="211.50" y2="645.30" stroke="#222" stroke-width="0.8"/>
<text x="188.10" y="581.58" font-size="4.38" text-anchor="start" fill="#1c1c1c" stroke="#1c1c1c" stroke-width="0.128" textLength="27.50" lengthAdjust="spacingAndGlyphs">P value 0.0452</text>
<text x="202.60" y="653.39" font-size="4.7" text-anchor="middle" fill="#1c1c1c" stroke="#1c1c1c" stroke-width="0.147" textLength="35.20" lengthAdjust="spacingAndGlyphs">Diagnosis Relapse</text>
<text transform="translate(164.00,612.30) rotate(-90) skewX(-12)" x="0" y="2.3" font-size="6.4" text-anchor="middle" fill="#333" textLength="17.0" lengthAdjust="spacingAndGlyphs">ATP1A2</text>
<path d="M265.2 612.6L283.5 612.7M265.2 609.6L283.5 616.2M265.2 604.9L283.5 614.2M265.2 609.6L283.5 618.8M265.2 608.8L283.5 611.8M265.2 604.3L283.5 607.1M265.2 610.2L283.5 610.7M265.2 609.1L283.5 612.6M265.2 620.8L283.5 619.5M265.2 605.6L283.5 615.0M265.2 603.9L283.5 610.8M265.2 616.7L283.5 623.1M265.2 616.8L283.5 621.2M265.2 611.0L283.5 610.4M265.2 605.3L283.5 610.7M265.2 616.8L283.5 622.0M265.2 610.2L283.5 613.8M265.2 609.6L283.5 615.5M265.2 605.8L283.5 615.4M265.2 618.6L283.5 621.2M265.2 611.7L283.5 610.8M265.2 621.7L283.5 618.7M265.2 608.5L283.5 616.6M265.2 624.0L283.5 620.6M265.2 607.1L283.5 608.7M265.2 609.3L283.5 614.9M265.2 616.0L283.5 617.0M265.2 605.4L283.5 614.2M265.2 619.2L283.5 617.7M265.2 604.1L283.5 614.8M265.2 624.7L283.5 625.9M265.2 613.0L283.5 614.6M265.2 621.3L283.5 623.4M265.2 612.3L283.5 613.8M265.2 610.2L283.5 611.9M265.2 624.0L283.5 621.5M265.2 607.0L283.5 607.8M265.2 618.3L283.5 614.6M265.2 611.1L283.5 610.2M265.2 620.3L283.5 617.3M265.2 606.8L283.5 613.0M265.2 623.1L283.5 624.2M265.2 621.9L283.5 624.7M265.2 622.0L283.5 619.0M265.2 623.0L283.5 618.0M265.2 609.1L283.5 610.4M265.2 607.7L283.5 610.8M265.2 605.0L283.5 606.8M265.2 611.6L283.5 610.0M265.2 623.1L283.5 625.2M265.2 623.9L283.5 624.5M265.2 617.1L283.5 618.3M265.2 610.4L283.5 611.8M265.2 623.5L283.5 622.1M265.2 613.4L283.5 617.4M265.2 622.8L283.5 619.6M265.2 617.1L283.5 615.8M265.2 614.4L283.5 611.4M265.2 604.5L283.5 616.3M265.2 608.6L283.5 611.2M265.2 618.8L283.5 622.9M265.2 614.8L283.5 618.3M265.2 609.1L283.5 609.3M265.2 616.9L283.5 620.1M265.2 614.4L283.5 614.3M265.2 587.7L283.5 607.6M265.2 594.8L283.5 611.1M265.2 599.1L283.5 614.7M265.2 631.0L283.5 625.4M265.2 624.6L283.5 631.7M265.2 600.5L283.5 606.2" stroke="#111" stroke-width="0.9" fill="none"/>
<path d="M263.9 612.6a1.25 1.25 0 1 0 2.5 0a1.25 1.25 0 1 0 -2.5 0M263.9 609.6a1.25 1.25 0 1 0 2.5 0a1.25 1.25 0 1 0 -2.5 0M263.9 604.9a1.25 1.25 0 1 0 2.5 0a1.25 1.25 0 1 0 -2.5 0M263.9 609.6a1.25 1.25 0 1 0 2.5 0a1.25 1.25 0 1 0 -2.5 0M263.9 608.8a1.25 1.25 0 1 0 2.5 0a1.25 1.25 0 1 0 -2.5 0M263.9 604.3a1.25 1.25 0 1 0 2.5 0a1.25 1.25 0 1 0 -2.5 0M263.9 610.2a1.25 1.25 0 1 0 2.5 0a1.25 1.25 0 1 0 -2.5 0M263.9 609.1a1.25 1.25 0 1 0 2.5 0a1.25 1.25 0 1 0 -2.5 0M263.9 620.8a1.25 1.25 0 1 0 2.5 0a1.25 1.25 0 1 0 -2.5 0M263.9 605.6a1.25 1.25 0 1 0 2.5 0a1.25 1.25 0 1 0 -2.5 0M263.9 603.9a1.25 1.25 0 1 0 2.5 0a1.25 1.25 0 1 0 -2.5 0M263.9 616.7a1.25 1.25 0 1 0 2.5 0a1.25 1.25 0 1 0 -2.5 0M263.9 616.8a1.25 1.25 0 1 0 2.5 0a1.25 1.25 0 1 0 -2.5 0M263.9 611.0a1.25 1.25 0 1 0 2.5 0a1.25 1.25 0 1 0 -2.5 0M263.9 605.3a1.25 1.25 0 1 0 2.5 0a1.25 1.25 0 1 0 -2.5 0M263.9 616.8a1.25 1.25 0 1 0 2.5 0a1.25 1.25 0 1 0 -2.5 0M263.9 610.2a1.25 1.25 0 1 0 2.5 0a1.25 1.25 0 1 0 -2.5 0M263.9 609.6a1.25 1.25 0 1 0 2.5 0a1.25 1.25 0 1 0 -2.5 0M263.9 605.8a1.25 1.25 0 1 0 2.5 0a1.25 1.25 0 1 0 -2.5 0M263.9 618.6a1.25 1.25 0 1 0 2.5 0a1.25 1.25 0 1 0 -2.5 0M263.9 611.7a1.25 1.25 0 1 0 2.5 0a1.25 1.25 0 1 0 -2.5 0M263.9 621.7a1.25 1.25 0 1 0 2.5 0a1.25 1.25 0 1 0 -2.5 0M263.9 608.5a1.25 1.25 0 1 0 2.5 0a1.25 1.25 0 1 0 -2.5 0M263.9 624.0a1.25 1.25 0 1 0 2.5 0a1.25 1.25 0 1 0 -2.5 0M263.9 607.1a1.25 1.25 0 1 0 2.5 0a1.25 1.25 0 1 0 -2.5 0M263.9 609.3a1.25 1.25 0 1 0 2.5 0a1.25 1.25 0 1 0 -2.5 0M263.9 616.0a1.25 1.25 0 1 0 2.5 0a1.25 1.25 0 1 0 -2.5 0M263.9 605.4a1.25 1.25 0 1 0 2.5 0a1.25 1.25 0 1 0 -2.5 0M263.9 619.2a1.25 1.25 0 1 0 2.5 0a1.25 1.25 0 1 0 -2.5 0M263.9 604.1a1.25 1.25 0 1 0 2.5 0a1.25 1.25 0 1 0 -2.5 0M263.9 624.7a1.25 1.25 0 1 0 2.5 0a1.25 1.25 0 1 0 -2.5 0M263.9 613.0a1.25 1.25 0 1 0 2.5 0a1.25 1.25 0 1 0 -2.5 0M263.9 621.3a1.25 1.25 0 1 0 2.5 0a1.25 1.25 0 1 0 -2.5 0M263.9 612.3a1.25 1.25 0 1 0 2.5 0a1.25 1.25 0 1 0 -2.5 0M263.9 610.2a1.25 1.25 0 1 0 2.5 0a1.25 1.25 0 1 0 -2.5 0M263.9 624.0a1.25 1.25 0 1 0 2.5 0a1.25 1.25 0 1 0 -2.5 0M263.9 607.0a1.25 1.25 0 1 0 2.5 0a1.25 1.25 0 1 0 -2.5 0M263.9 618.3a1.25 1.25 0 1 0 2.5 0a1.25 1.25 0 1 0 -2.5 0M263.9 611.1a1.25 1.25 0 1 0 2.5 0a1.25 1.25 0 1 0 -2.5 0M263.9 620.3a1.25 1.25 0 1 0 2.5 0a1.25 1.25 0 1 0 -2.5 0M263.9 606.8a1.25 1.25 0 1 0 2.5 0a1.25 1.25 0 1 0 -2.5 0M263.9 623.1a1.25 1.25 0 1 0 2.5 0a1.25 1.25 0 1 0 -2.5 0M263.9 621.9a1.25 1.25 0 1 0 2.5 0a1.25 1.25 0 1 0 -2.5 0M263.9 622.0a1.25 1.25 0 1 0 2.5 0a1.25 1.25 0 1 0 -2.5 0M263.9 623.0a1.25 1.25 0 1 0 2.5 0a1.25 1.25 0 1 0 -2.5 0M263.9 609.1a1.25 1.25 0 1 0 2.5 0a1.25 1.25 0 1 0 -2.5 0M263.9 607.7a1.25 1.25 0 1 0 2.5 0a1.25 1.25 0 1 0 -2.5 0M263.9 605.0a1.25 1.25 0 1 0 2.5 0a1.25 1.25 0 1 0 -2.5 0M263.9 611.6a1.25 1.25 0 1 0 2.5 0a1.25 1.25 0 1 0 -2.5 0M263.9 623.1a1.25 1.25 0 1 0 2.5 0a1.25 1.25 0 1 0 -2.5 0M263.9 623.9a1.25 1.25 0 1 0 2.5 0a1.25 1.25 0 1 0 -2.5 0M263.9 617.1a1.25 1.25 0 1 0 2.5 0a1.25 1.25 0 1 0 -2.5 0M263.9 610.4a1.25 1.25 0 1 0 2.5 0a1.25 1.25 0 1 0 -2.5 0M263.9 623.5a1.25 1.25 0 1 0 2.5 0a1.25 1.25 0 1 0 -2.5 0M263.9 613.4a1.25 1.25 0 1 0 2.5 0a1.25 1.25 0 1 0 -2.5 0M263.9 622.8a1.25 1.25 0 1 0 2.5 0a1.25 1.25 0 1 0 -2.5 0M263.9 617.1a1.25 1.25 0 1 0 2.5 0a1.25 1.25 0 1 0 -2.5 0M263.9 614.4a1.25 1.25 0 1 0 2.5 0a1.25 1.25 0 1 0 -2.5 0M263.9 604.5a1.25 1.25 0 1 0 2.5 0a1.25 1.25 0 1 0 -2.5 0M263.9 608.6a1.25 1.25 0 1 0 2.5 0a1.25 1.25 0 1 0 -2.5 0M263.9 618.8a1.25 1.25 0 1 0 2.5 0a1.25 1.25 0 1 0 -2.5 0M263.9 614.8a1.25 1.25 0 1 0 2.5 0a1.25 1.25 0 1 0 -2.5 0M263.9 609.1a1.25 1.25 0 1 0 2.5 0a1.25 1.25 0 1 0 -2.5 0M263.9 616.9a1.25 1.25 0 1 0 2.5 0a1.25 1.25 0 1 0 -2.5 0M263.9 614.4a1.25 1.25 0 1 0 2.5 0a1.25 1.25 0 1 0 -2.5 0M263.9 587.7a1.25 1.25 0 1 0 2.5 0a1.25 1.25 0 1 0 -2.5 0M263.9 594.8a1.25 1.25 0 1 0 2.5 0a1.25 1.25 0 1 0 -2.5 0M263.9 599.1a1.25 1.25 0 1 0 2.5 0a1.25 1.25 0 1 0 -2.5 0M263.9 631.0a1.25 1.25 0 1 0 2.5 0a1.25 1.25 0 1 0 -2.5 0M263.9 624.6a1.25 1.25 0 1 0 2.5 0a1.25 1.25 0 1 0 -2.5 0M263.9 600.5a1.25 1.25 0 1 0 2.5 0a1.25 1.25 0 1 0 -2.5 0" fill="#b3123a"/>
<path d="M282.2 612.7a1.25 1.25 0 1 0 2.5 0a1.25 1.25 0 1 0 -2.5 0M282.2 616.2a1.25 1.25 0 1 0 2.5 0a1.25 1.25 0 1 0 -2.5 0M282.2 614.2a1.25 1.25 0 1 0 2.5 0a1.25 1.25 0 1 0 -2.5 0M282.2 618.8a1.25 1.25 0 1 0 2.5 0a1.25 1.25 0 1 0 -2.5 0M282.2 611.8a1.25 1.25 0 1 0 2.5 0a1.25 1.25 0 1 0 -2.5 0M282.2 607.1a1.25 1.25 0 1 0 2.5 0a1.25 1.25 0 1 0 -2.5 0M282.2 610.7a1.25 1.25 0 1 0 2.5 0a1.25 1.25 0 1 0 -2.5 0M282.2 612.6a1.25 1.25 0 1 0 2.5 0a1.25 1.25 0 1 0 -2.5 0M282.2 619.5a1.25 1.25 0 1 0 2.5 0a1.25 1.25 0 1 0 -2.5 0M282.2 615.0a1.25 1.25 0 1 0 2.5 0a1.25 1.25 0 1 0 -2.5 0M282.2 610.8a1.25 1.25 0 1 0 2.5 0a1.25 1.25 0 1 0 -2.5 0M282.2 623.1a1.25 1.25 0 1 0 2.5 0a1.25 1.25 0 1 0 -2.5 0M282.2 621.2a1.25 1.25 0 1 0 2.5 0a1.25 1.25 0 1 0 -2.5 0M282.2 610.4a1.25 1.25 0 1 0 2.5 0a1.25 1.25 0 1 0 -2.5 0M282.2 610.7a1.25 1.25 0 1 0 2.5 0a1.25 1.25 0 1 0 -2.5 0M282.2 622.0a1.25 1.25 0 1 0 2.5 0a1.25 1.25 0 1 0 -2.5 0M282.2 613.8a1.25 1.25 0 1 0 2.5 0a1.25 1.25 0 1 0 -2.5 0M282.2 615.5a1.25 1.25 0 1 0 2.5 0a1.25 1.25 0 1 0 -2.5 0M282.2 615.4a1.25 1.25 0 1 0 2.5 0a1.25 1.25 0 1 0 -2.5 0M282.2 621.2a1.25 1.25 0 1 0 2.5 0a1.25 1.25 0 1 0 -2.5 0M282.2 610.8a1.25 1.25 0 1 0 2.5 0a1.25 1.25 0 1 0 -2.5 0M282.2 618.7a1.25 1.25 0 1 0 2.5 0a1.25 1.25 0 1 0 -2.5 0M282.2 616.6a1.25 1.25 0 1 0 2.5 0a1.25 1.25 0 1 0 -2.5 0M282.2 620.6a1.25 1.25 0 1 0 2.5 0a1.25 1.25 0 1 0 -2.5 0M282.2 608.7a1.25 1.25 0 1 0 2.5 0a1.25 1.25 0 1 0 -2.5 0M282.2 614.9a1.25 1.25 0 1 0 2.5 0a1.25 1.25 0 1 0 -2.5 0M282.2 617.0a1.25 1.25 0 1 0 2.5 0a1.25 1.25 0 1 0 -2.5 0M282.2 614.2a1.25 1.25 0 1 0 2.5 0a1.25 1.25 0 1 0 -2.5 0M282.2 617.7a1.25 1.25 0 1 0 2.5 0a1.25 1.25 0 1 0 -2.5 0M282.2 614.8a1.25 1.25 0 1 0 2.5 0a1.25 1.25 0 1 0 -2.5 0M282.2 625.9a1.25 1.25 0 1 0 2.5 0a1.25 1.25 0 1 0 -2.5 0M282.2 614.6a1.25 1.25 0 1 0 2.5 0a1.25 1.25 0 1 0 -2.5 0M282.2 623.4a1.25 1.25 0 1 0 2.5 0a1.25 1.25 0 1 0 -2.5 0M282.2 613.8a1.25 1.25 0 1 0 2.5 0a1.25 1.25 0 1 0 -2.5 0M282.2 611.9a1.25 1.25 0 1 0 2.5 0a1.25 1.25 0 1 0 -2.5 0M282.2 621.5a1.25 1.25 0 1 0 2.5 0a1.25 1.25 0 1 0 -2.5 0M282.2 607.8a1.25 1.25 0 1 0 2.5 0a1.25 1.25 0 1 0 -2.5 0M282.2 614.6a1.25 1.25 0 1 0 2.5 0a1.25 1.25 0 1 0 -2.5 0M282.2 610.2a1.25 1.25 0 1 0 2.5 0a1.25 1.25 0 1 0 -2.5 0M282.2 617.3a1.25 1.25 0 1 0 2.5 0a1.25 1.25 0 1 0 -2.5 0M282.2 613.0a1.25 1.25 0 1 0 2.5 0a1.25 1.25 0 1 0 -2.5 0M282.2 624.2a1.25 1.25 0 1 0 2.5 0a1.25 1.25 0 1 0 -2.5 0M282.2 624.7a1.25 1.25 0 1 0 2.5 0a1.25 1.25 0 1 0 -2.5 0M282.2 619.0a1.25 1.25 0 1 0 2.5 0a1.25 1.25 0 1 0 -2.5 0M282.2 618.0a1.25 1.25 0 1 0 2.5 0a1.25 1.25 0 1 0 -2.5 0M282.2 610.4a1.25 1.25 0 1 0 2.5 0a1.25 1.25 0 1 0 -2.5 0M282.2 610.8a1.25 1.25 0 1 0 2.5 0a1.25 1.25 0 1 0 -2.5 0M282.2 606.8a1.25 1.25 0 1 0 2.5 0a1.25 1.25 0 1 0 -2.5 0M282.2 610.0a1.25 1.25 0 1 0 2.5 0a1.25 1.25 0 1 0 -2.5 0M282.2 625.2a1.25 1.25 0 1 0 2.5 0a1.25 1.25 0 1 0 -2.5 0M282.2 624.5a1.25 1.25 0 1 0 2.5 0a1.25 1.25 0 1 0 -2.5 0M282.2 618.3a1.25 1.25 0 1 0 2.5 0a1.25 1.25 0 1 0 -2.5 0M282.2 611.8a1.25 1.25 0 1 0 2.5 0a1.25 1.25 0 1 0 -2.5 0M282.2 622.1a1.25 1.25 0 1 0 2.5 0a1.25 1.25 0 1 0 -2.5 0M282.2 617.4a1.25 1.25 0 1 0 2.5 0a1.25 1.25 0 1 0 -2.5 0M282.2 619.6a1.25 1.25 0 1 0 2.5 0a1.25 1.25 0 1 0 -2.5 0M282.2 615.8a1.25 1.25 0 1 0 2.5 0a1.25 1.25 0 1 0 -2.5 0M282.2 611.4a1.25 1.25 0 1 0 2.5 0a1.25 1.25 0 1 0 -2.5 0M282.2 616.3a1.25 1.25 0 1 0 2.5 0a1.25 1.25 0 1 0 -2.5 0M282.2 611.2a1.25 1.25 0 1 0 2.5 0a1.25 1.25 0 1 0 -2.5 0M282.2 622.9a1.25 1.25 0 1 0 2.5 0a1.25 1.25 0 1 0 -2.5 0M282.2 618.3a1.25 1.25 0 1 0 2.5 0a1.25 1.25 0 1 0 -2.5 0M282.2 609.3a1.25 1.25 0 1 0 2.5 0a1.25 1.25 0 1 0 -2.5 0M282.2 620.1a1.25 1.25 0 1 0 2.5 0a1.25 1.25 0 1 0 -2.5 0M282.2 614.3a1.25 1.25 0 1 0 2.5 0a1.25 1.25 0 1 0 -2.5 0M282.2 607.6a1.25 1.25 0 1 0 2.5 0a1.25 1.25 0 1 0 -2.5 0M282.2 611.1a1.25 1.25 0 1 0 2.5 0a1.25 1.25 0 1 0 -2.5 0M282.2 614.7a1.25 1.25 0 1 0 2.5 0a1.25 1.25 0 1 0 -2.5 0M282.2 625.4a1.25 1.25 0 1 0 2.5 0a1.25 1.25 0 1 0 -2.5 0M282.2 631.7a1.25 1.25 0 1 0 2.5 0a1.25 1.25 0 1 0 -2.5 0M282.2 606.2a1.25 1.25 0 1 0 2.5 0a1.25 1.25 0 1 0 -2.5 0" fill="#1f3f86"/>
<line x1="253.50" y1="583.50" x2="253.50" y2="643.50" stroke="#222" stroke-width="1.0"/>
<line x1="253.30" y1="643.50" x2="295.00" y2="643.50" stroke="#222" stroke-width="1.0"/>
<line x1="251.30" y1="586.50" x2="253.70" y2="586.50" stroke="#222" stroke-width="0.8"/>
<text x="247.90" y="587.88" font-size="4.4" text-anchor="end" fill="#1c1c1c" stroke="#1c1c1c" stroke-width="0.129">100</text>
<line x1="251.30" y1="600.50" x2="253.70" y2="600.50" stroke="#222" stroke-width="0.8"/>
<text x="247.90" y="602.08" font-size="4.4" text-anchor="end" fill="#1c1c1c" stroke="#1c1c1c" stroke-width="0.129">80</text>
<line x1="251.30" y1="614.50" x2="253.70" y2="614.50" stroke="#222" stroke-width="0.8"/>
<text x="247.90" y="616.28" font-size="4.4" text-anchor="end" fill="#1c1c1c" stroke="#1c1c1c" stroke-width="0.129">60</text>
<line x1="251.30" y1="628.50" x2="253.70" y2="628.50" stroke="#222" stroke-width="0.8"/>
<text x="247.90" y="630.48" font-size="4.4" text-anchor="end" fill="#1c1c1c" stroke="#1c1c1c" stroke-width="0.129">40</text>
<line x1="251.30" y1="643.50" x2="253.70" y2="643.50" stroke="#222" stroke-width="0.8"/>
<text x="247.90" y="644.68" font-size="4.4" text-anchor="end" fill="#1c1c1c" stroke="#1c1c1c" stroke-width="0.129">20</text>
<line x1="265.50" y1="643.10" x2="265.50" y2="645.30" stroke="#222" stroke-width="0.8"/>
<line x1="283.50" y1="643.10" x2="283.50" y2="645.30" stroke="#222" stroke-width="0.8"/>
<text x="260.40" y="581.60" font-size="4.45" text-anchor="start" fill="#1c1c1c" stroke="#1c1c1c" stroke-width="0.132" textLength="27.90" lengthAdjust="spacingAndGlyphs">P value 0.0003</text>
<text x="274.35" y="653.39" font-size="4.7" text-anchor="middle" fill="#1c1c1c" stroke="#1c1c1c" stroke-width="0.147" textLength="35.20" lengthAdjust="spacingAndGlyphs">Diagnosis Relapse</text>
<text transform="translate(232.50,612.30) rotate(-90) skewX(-12)" x="0" y="2.3" font-size="6.4" text-anchor="middle" fill="#333" textLength="15.0" lengthAdjust="spacingAndGlyphs">CREB1</text>
<path d="M338.1 614.7L356.7 617.1M338.1 624.8L356.7 624.3M338.1 613.5L356.7 617.6M338.1 629.9L356.7 624.6M338.1 626.0L356.7 619.4M338.1 629.4L356.7 626.8M338.1 628.9L356.7 623.4M338.1 610.7L356.7 616.3M338.1 623.0L356.7 614.1M338.1 629.0L356.7 625.4M338.1 614.3L356.7 626.0M338.1 615.2L356.7 620.7M338.1 630.6L356.7 627.6M338.1 621.5L356.7 622.4M338.1 620.3L356.7 627.3M338.1 626.4L356.7 614.6M338.1 621.8L356.7 621.1M338.1 629.2L356.7 626.6M338.1 611.3L356.7 614.2M338.1 620.5L356.7 627.4M338.1 622.8L356.7 616.5M338.1 622.0L356.7 619.2M338.1 612.4L356.7 615.2M338.1 617.8L356.7 626.7M338.1 630.4L356.7 619.2M338.1 622.4L356.7 614.9M338.1 613.9L356.7 611.4M338.1 623.1L356.7 613.1M338.1 615.4L356.7 612.2M338.1 627.9L356.7 618.2M338.1 622.2L356.7 613.2M338.1 610.5L356.7 621.4M338.1 622.3L356.7 624.5M338.1 621.3L356.7 623.9M338.1 617.2L356.7 625.1M338.1 627.4L356.7 623.2M338.1 629.4L356.7 625.1M338.1 612.5L356.7 611.4M338.1 626.9L356.7 630.0M338.1 613.9L356.7 610.6M338.1 618.6L356.7 625.4M338.1 626.1L356.7 615.3M338.1 611.6L356.7 624.8M338.1 627.1L356.7 623.6M338.1 625.4L356.7 617.8M338.1 623.3L356.7 616.7M338.1 627.8L356.7 622.4M338.1 610.9L356.7 613.8M338.1 629.1L356.7 629.3M338.1 617.7L356.7 621.3M338.1 623.3L356.7 621.5M338.1 619.0L356.7 612.3M338.1 626.0L356.7 620.9M338.1 625.5L356.7 621.2M338.1 615.9L356.7 624.5M338.1 621.0L356.7 617.1M338.1 630.8L356.7 619.3M338.1 622.3L356.7 620.7M338.1 618.4L356.7 614.8M338.1 629.8L356.7 623.3M338.1 630.1L356.7 625.3M338.1 623.8L356.7 629.0M338.1 624.8L356.7 622.4M338.1 617.5L356.7 612.4M338.1 623.3L356.7 620.7M338.1 593.6L356.7 608.8M338.1 597.4L356.7 594.4M338.1 601.2L356.7 603.1M338.1 629.8L356.7 640.8M338.1 595.5L356.7 612.6" stroke="#111" stroke-width="0.9" fill="none"/>
<path d="M336.9 614.7a1.25 1.25 0 1 0 2.5 0a1.25 1.25 0 1 0 -2.5 0M336.9 624.8a1.25 1.25 0 1 0 2.5 0a1.25 1.25 0 1 0 -2.5 0M336.9 613.5a1.25 1.25 0 1 0 2.5 0a1.25 1.25 0 1 0 -2.5 0M336.9 629.9a1.25 1.25 0 1 0 2.5 0a1.25 1.25 0 1 0 -2.5 0M336.9 626.0a1.25 1.25 0 1 0 2.5 0a1.25 1.25 0 1 0 -2.5 0M336.9 629.4a1.25 1.25 0 1 0 2.5 0a1.25 1.25 0 1 0 -2.5 0M336.9 628.9a1.25 1.25 0 1 0 2.5 0a1.25 1.25 0 1 0 -2.5 0M336.9 610.7a1.25 1.25 0 1 0 2.5 0a1.25 1.25 0 1 0 -2.5 0M336.9 623.0a1.25 1.25 0 1 0 2.5 0a1.25 1.25 0 1 0 -2.5 0M336.9 629.0a1.25 1.25 0 1 0 2.5 0a1.25 1.25 0 1 0 -2.5 0M336.9 614.3a1.25 1.25 0 1 0 2.5 0a1.25 1.25 0 1 0 -2.5 0M336.9 615.2a1.25 1.25 0 1 0 2.5 0a1.25 1.25 0 1 0 -2.5 0M336.9 630.6a1.25 1.25 0 1 0 2.5 0a1.25 1.25 0 1 0 -2.5 0M336.9 621.5a1.25 1.25 0 1 0 2.5 0a1.25 1.25 0 1 0 -2.5 0M336.9 620.3a1.25 1.25 0 1 0 2.5 0a1.25 1.25 0 1 0 -2.5 0M336.9 626.4a1.25 1.25 0 1 0 2.5 0a1.25 1.25 0 1 0 -2.5 0M336.9 621.8a1.25 1.25 0 1 0 2.5 0a1.25 1.25 0 1 0 -2.5 0M336.9 629.2a1.25 1.25 0 1 0 2.5 0a1.25 1.25 0 1 0 -2.5 0M336.9 611.3a1.25 1.25 0 1 0 2.5 0a1.25 1.25 0 1 0 -2.5 0M336.9 620.5a1.25 1.25 0 1 0 2.5 0a1.25 1.25 0 1 0 -2.5 0M336.9 622.8a1.25 1.25 0 1 0 2.5 0a1.25 1.25 0 1 0 -2.5 0M336.9 622.0a1.25 1.25 0 1 0 2.5 0a1.25 1.25 0 1 0 -2.5 0M336.9 612.4a1.25 1.25 0 1 0 2.5 0a1.25 1.25 0 1 0 -2.5 0M336.9 617.8a1.25 1.25 0 1 0 2.5 0a1.25 1.25 0 1 0 -2.5 0M336.9 630.4a1.25 1.25 0 1 0 2.5 0a1.25 1.25 0 1 0 -2.5 0M336.9 622.4a1.25 1.25 0 1 0 2.5 0a1.25 1.25 0 1 0 -2.5 0M336.9 613.9a1.25 1.25 0 1 0 2.5 0a1.25 1.25 0 1 0 -2.5 0M336.9 623.1a1.25 1.25 0 1 0 2.5 0a1.25 1.25 0 1 0 -2.5 0M336.9 615.4a1.25 1.25 0 1 0 2.5 0a1.25 1.25 0 1 0 -2.5 0M336.9 627.9a1.25 1.25 0 1 0 2.5 0a1.25 1.25 0 1 0 -2.5 0M336.9 622.2a1.25 1.25 0 1 0 2.5 0a1.25 1.25 0 1 0 -2.5 0M336.9 610.5a1.25 1.25 0 1 0 2.5 0a1.25 1.25 0 1 0 -2.5 0M336.9 622.3a1.25 1.25 0 1 0 2.5 0a1.25 1.25 0 1 0 -2.5 0M336.9 621.3a1.25 1.25 0 1 0 2.5 0a1.25 1.25 0 1 0 -2.5 0M336.9 617.2a1.25 1.25 0 1 0 2.5 0a1.25 1.25 0 1 0 -2.5 0M336.9 627.4a1.25 1.25 0 1 0 2.5 0a1.25 1.25 0 1 0 -2.5 0M336.9 629.4a1.25 1.25 0 1 0 2.5 0a1.25 1.25 0 1 0 -2.5 0M336.9 612.5a1.25 1.25 0 1 0 2.5 0a1.25 1.25 0 1 0 -2.5 0M336.9 626.9a1.25 1.25 0 1 0 2.5 0a1.25 1.25 0 1 0 -2.5 0M336.9 613.9a1.25 1.25 0 1 0 2.5 0a1.25 1.25 0 1 0 -2.5 0M336.9 618.6a1.25 1.25 0 1 0 2.5 0a1.25 1.25 0 1 0 -2.5 0M336.9 626.1a1.25 1.25 0 1 0 2.5 0a1.25 1.25 0 1 0 -2.5 0M336.9 611.6a1.25 1.25 0 1 0 2.5 0a1.25 1.25 0 1 0 -2.5 0M336.9 627.1a1.25 1.25 0 1 0 2.5 0a1.25 1.25 0 1 0 -2.5 0M336.9 625.4a1.25 1.25 0 1 0 2.5 0a1.25 1.25 0 1 0 -2.5 0M336.9 623.3a1.25 1.25 0 1 0 2.5 0a1.25 1.25 0 1 0 -2.5 0M336.9 627.8a1.25 1.25 0 1 0 2.5 0a1.25 1.25 0 1 0 -2.5 0M336.9 610.9a1.25 1.25 0 1 0 2.5 0a1.25 1.25 0 1 0 -2.5 0M336.9 629.1a1.25 1.25 0 1 0 2.5 0a1.25 1.25 0 1 0 -2.5 0M336.9 617.7a1.25 1.25 0 1 0 2.5 0a1.25 1.25 0 1 0 -2.5 0M336.9 623.3a1.25 1.25 0 1 0 2.5 0a1.25 1.25 0 1 0 -2.5 0M336.9 619.0a1.25 1.25 0 1 0 2.5 0a1.25 1.25 0 1 0 -2.5 0M336.9 626.0a1.25 1.25 0 1 0 2.5 0a1.25 1.25 0 1 0 -2.5 0M336.9 625.5a1.25 1.25 0 1 0 2.5 0a1.25 1.25 0 1 0 -2.5 0M336.9 615.9a1.25 1.25 0 1 0 2.5 0a1.25 1.25 0 1 0 -2.5 0M336.9 621.0a1.25 1.25 0 1 0 2.5 0a1.25 1.25 0 1 0 -2.5 0M336.9 630.8a1.25 1.25 0 1 0 2.5 0a1.25 1.25 0 1 0 -2.5 0M336.9 622.3a1.25 1.25 0 1 0 2.5 0a1.25 1.25 0 1 0 -2.5 0M336.9 618.4a1.25 1.25 0 1 0 2.5 0a1.25 1.25 0 1 0 -2.5 0M336.9 629.8a1.25 1.25 0 1 0 2.5 0a1.25 1.25 0 1 0 -2.5 0M336.9 630.1a1.25 1.25 0 1 0 2.5 0a1.25 1.25 0 1 0 -2.5 0M336.9 623.8a1.25 1.25 0 1 0 2.5 0a1.25 1.25 0 1 0 -2.5 0M336.9 624.8a1.25 1.25 0 1 0 2.5 0a1.25 1.25 0 1 0 -2.5 0M336.9 617.5a1.25 1.25 0 1 0 2.5 0a1.25 1.25 0 1 0 -2.5 0M336.9 623.3a1.25 1.25 0 1 0 2.5 0a1.25 1.25 0 1 0 -2.5 0M336.9 593.6a1.25 1.25 0 1 0 2.5 0a1.25 1.25 0 1 0 -2.5 0M336.9 597.4a1.25 1.25 0 1 0 2.5 0a1.25 1.25 0 1 0 -2.5 0M336.9 601.2a1.25 1.25 0 1 0 2.5 0a1.25 1.25 0 1 0 -2.5 0M336.9 629.8a1.25 1.25 0 1 0 2.5 0a1.25 1.25 0 1 0 -2.5 0M336.9 595.5a1.25 1.25 0 1 0 2.5 0a1.25 1.25 0 1 0 -2.5 0" fill="#b3123a"/>
<path d="M355.4 617.1a1.25 1.25 0 1 0 2.5 0a1.25 1.25 0 1 0 -2.5 0M355.4 624.3a1.25 1.25 0 1 0 2.5 0a1.25 1.25 0 1 0 -2.5 0M355.4 617.6a1.25 1.25 0 1 0 2.5 0a1.25 1.25 0 1 0 -2.5 0M355.4 624.6a1.25 1.25 0 1 0 2.5 0a1.25 1.25 0 1 0 -2.5 0M355.4 619.4a1.25 1.25 0 1 0 2.5 0a1.25 1.25 0 1 0 -2.5 0M355.4 626.8a1.25 1.25 0 1 0 2.5 0a1.25 1.25 0 1 0 -2.5 0M355.4 623.4a1.25 1.25 0 1 0 2.5 0a1.25 1.25 0 1 0 -2.5 0M355.4 616.3a1.25 1.25 0 1 0 2.5 0a1.25 1.25 0 1 0 -2.5 0M355.4 614.1a1.25 1.25 0 1 0 2.5 0a1.25 1.25 0 1 0 -2.5 0M355.4 625.4a1.25 1.25 0 1 0 2.5 0a1.25 1.25 0 1 0 -2.5 0M355.4 626.0a1.25 1.25 0 1 0 2.5 0a1.25 1.25 0 1 0 -2.5 0M355.4 620.7a1.25 1.25 0 1 0 2.5 0a1.25 1.25 0 1 0 -2.5 0M355.4 627.6a1.25 1.25 0 1 0 2.5 0a1.25 1.25 0 1 0 -2.5 0M355.4 622.4a1.25 1.25 0 1 0 2.5 0a1.25 1.25 0 1 0 -2.5 0M355.4 627.3a1.25 1.25 0 1 0 2.5 0a1.25 1.25 0 1 0 -2.5 0M355.4 614.6a1.25 1.25 0 1 0 2.5 0a1.25 1.25 0 1 0 -2.5 0M355.4 621.1a1.25 1.25 0 1 0 2.5 0a1.25 1.25 0 1 0 -2.5 0M355.4 626.6a1.25 1.25 0 1 0 2.5 0a1.25 1.25 0 1 0 -2.5 0M355.4 614.2a1.25 1.25 0 1 0 2.5 0a1.25 1.25 0 1 0 -2.5 0M355.4 627.4a1.25 1.25 0 1 0 2.5 0a1.25 1.25 0 1 0 -2.5 0M355.4 616.5a1.25 1.25 0 1 0 2.5 0a1.25 1.25 0 1 0 -2.5 0M355.4 619.2a1.25 1.25 0 1 0 2.5 0a1.25 1.25 0 1 0 -2.5 0M355.4 615.2a1.25 1.25 0 1 0 2.5 0a1.25 1.25 0 1 0 -2.5 0M355.4 626.7a1.25 1.25 0 1 0 2.5 0a1.25 1.25 0 1 0 -2.5 0M355.4 619.2a1.25 1.25 0 1 0 2.5 0a1.25 1.25 0 1 0 -2.5 0M355.4 614.9a1.25 1.25 0 1 0 2.5 0a1.25 1.25 0 1 0 -2.5 0M355.4 611.4a1.25 1.25 0 1 0 2.5 0a1.25 1.25 0 1 0 -2.5 0M355.4 613.1a1.25 1.25 0 1 0 2.5 0a1.25 1.25 0 1 0 -2.5 0M355.4 612.2a1.25 1.25 0 1 0 2.5 0a1.25 1.25 0 1 0 -2.5 0M355.4 618.2a1.25 1.25 0 1 0 2.5 0a1.25 1.25 0 1 0 -2.5 0M355.4 613.2a1.25 1.25 0 1 0 2.5 0a1.25 1.25 0 1 0 -2.5 0M355.4 621.4a1.25 1.25 0 1 0 2.5 0a1.25 1.25 0 1 0 -2.5 0M355.4 624.5a1.25 1.25 0 1 0 2.5 0a1.25 1.25 0 1 0 -2.5 0M355.4 623.9a1.25 1.25 0 1 0 2.5 0a1.25 1.25 0 1 0 -2.5 0M355.4 625.1a1.25 1.25 0 1 0 2.5 0a1.25 1.25 0 1 0 -2.5 0M355.4 623.2a1.25 1.25 0 1 0 2.5 0a1.25 1.25 0 1 0 -2.5 0M355.4 625.1a1.25 1.25 0 1 0 2.5 0a1.25 1.25 0 1 0 -2.5 0M355.4 611.4a1.25 1.25 0 1 0 2.5 0a1.25 1.25 0 1 0 -2.5 0M355.4 630.0a1.25 1.25 0 1 0 2.5 0a1.25 1.25 0 1 0 -2.5 0M355.4 610.6a1.25 1.25 0 1 0 2.5 0a1.25 1.25 0 1 0 -2.5 0M355.4 625.4a1.25 1.25 0 1 0 2.5 0a1.25 1.25 0 1 0 -2.5 0M355.4 615.3a1.25 1.25 0 1 0 2.5 0a1.25 1.25 0 1 0 -2.5 0M355.4 624.8a1.25 1.25 0 1 0 2.5 0a1.25 1.25 0 1 0 -2.5 0M355.4 623.6a1.25 1.25 0 1 0 2.5 0a1.25 1.25 0 1 0 -2.5 0M355.4 617.8a1.25 1.25 0 1 0 2.5 0a1.25 1.25 0 1 0 -2.5 0M355.4 616.7a1.25 1.25 0 1 0 2.5 0a1.25 1.25 0 1 0 -2.5 0M355.4 622.4a1.25 1.25 0 1 0 2.5 0a1.25 1.25 0 1 0 -2.5 0M355.4 613.8a1.25 1.25 0 1 0 2.5 0a1.25 1.25 0 1 0 -2.5 0M355.4 629.3a1.25 1.25 0 1 0 2.5 0a1.25 1.25 0 1 0 -2.5 0M355.4 621.3a1.25 1.25 0 1 0 2.5 0a1.25 1.25 0 1 0 -2.5 0M355.4 621.5a1.25 1.25 0 1 0 2.5 0a1.25 1.25 0 1 0 -2.5 0M355.4 612.3a1.25 1.25 0 1 0 2.5 0a1.25 1.25 0 1 0 -2.5 0M355.4 620.9a1.25 1.25 0 1 0 2.5 0a1.25 1.25 0 1 0 -2.5 0M355.4 621.2a1.25 1.25 0 1 0 2.5 0a1.25 1.25 0 1 0 -2.5 0M355.4 624.5a1.25 1.25 0 1 0 2.5 0a1.25 1.25 0 1 0 -2.5 0M355.4 617.1a1.25 1.25 0 1 0 2.5 0a1.25 1.25 0 1 0 -2.5 0M355.4 619.3a1.25 1.25 0 1 0 2.5 0a1.25 1.25 0 1 0 -2.5 0M355.4 620.7a1.25 1.25 0 1 0 2.5 0a1.25 1.25 0 1 0 -2.5 0M355.4 614.8a1.25 1.25 0 1 0 2.5 0a1.25 1.25 0 1 0 -2.5 0M355.4 623.3a1.25 1.25 0 1 0 2.5 0a1.25 1.25 0 1 0 -2.5 0M355.4 625.3a1.25 1.25 0 1 0 2.5 0a1.25 1.25 0 1 0 -2.5 0M355.4 629.0a1.25 1.25 0 1 0 2.5 0a1.25 1.25 0 1 0 -2.5 0M355.4 622.4a1.25 1.25 0 1 0 2.5 0a1.25 1.25 0 1 0 -2.5 0M355.4 612.4a1.25 1.25 0 1 0 2.5 0a1.25 1.25 0 1 0 -2.5 0M355.4 620.7a1.25 1.25 0 1 0 2.5 0a1.25 1.25 0 1 0 -2.5 0M355.4 608.8a1.25 1.25 0 1 0 2.5 0a1.25 1.25 0 1 0 -2.5 0M355.4 594.4a1.25 1.25 0 1 0 2.5 0a1.25 1.25 0 1 0 -2.5 0M355.4 603.1a1.25 1.25 0 1 0 2.5 0a1.25 1.25 0 1 0 -2.5 0M355.4 640.8a1.25 1.25 0 1 0 2.5 0a1.25 1.25 0 1 0 -2.5 0M355.4 612.6a1.25 1.25 0 1 0 2.5 0a1.25 1.25 0 1 0 -2.5 0" fill="#1f3f86"/>
<line x1="326.50" y1="583.50" x2="326.50" y2="643.50" stroke="#222" stroke-width="1.0"/>
<line x1="326.10" y1="643.50" x2="368.80" y2="643.50" stroke="#222" stroke-width="1.0"/>
<line x1="324.10" y1="586.50" x2="326.50" y2="586.50" stroke="#222" stroke-width="0.8"/>
<text x="320.80" y="587.58" font-size="4.4" text-anchor="end" fill="#1c1c1c" stroke="#1c1c1c" stroke-width="0.129">15000</text>
<line x1="324.10" y1="605.50" x2="326.50" y2="605.50" stroke="#222" stroke-width="0.8"/>
<text x="320.80" y="606.58" font-size="4.4" text-anchor="end" fill="#1c1c1c" stroke="#1c1c1c" stroke-width="0.129">10000</text>
<line x1="324.10" y1="624.50" x2="326.50" y2="624.50" stroke="#222" stroke-width="0.8"/>
<text x="320.80" y="625.68" font-size="4.4" text-anchor="end" fill="#1c1c1c" stroke="#1c1c1c" stroke-width="0.129">5000</text>
<line x1="324.10" y1="643.50" x2="326.50" y2="643.50" stroke="#222" stroke-width="0.8"/>
<text x="320.80" y="644.68" font-size="4.4" text-anchor="end" fill="#1c1c1c" stroke="#1c1c1c" stroke-width="0.129">0</text>
<line x1="338.50" y1="643.10" x2="338.50" y2="645.30" stroke="#222" stroke-width="0.8"/>
<line x1="356.50" y1="643.10" x2="356.50" y2="645.30" stroke="#222" stroke-width="0.8"/>
<text x="333.80" y="581.59" font-size="4.41" text-anchor="start" fill="#1c1c1c" stroke="#1c1c1c" stroke-width="0.130" textLength="27.70" lengthAdjust="spacingAndGlyphs">P value 0.0252</text>
<text x="347.40" y="653.39" font-size="4.7" text-anchor="middle" fill="#1c1c1c" stroke="#1c1c1c" stroke-width="0.147" textLength="35.20" lengthAdjust="spacingAndGlyphs">Diagnosis Relapse</text>
<text transform="translate(301.50,612.30) rotate(-90) skewX(-12)" x="0" y="2.3" font-size="6.4" text-anchor="middle" fill="#333" textLength="17.5" lengthAdjust="spacingAndGlyphs">CREBBP</text>
<path d="M409.6 627.2L427.7 628.4M409.6 622.4L427.7 626.4M409.6 635.6L427.7 638.2M409.6 622.8L427.7 635.1M409.6 632.6L427.7 631.9M409.6 631.0L427.7 634.7M409.6 622.9L427.7 633.0M409.6 630.5L427.7 630.4M409.6 638.9L427.7 637.5M409.6 631.7L427.7 633.2M409.6 637.5L427.7 636.1M409.6 640.5L427.7 640.5M409.6 634.7L427.7 638.2M409.6 622.1L427.7 633.1M409.6 636.1L427.7 632.6M409.6 626.6L427.7 634.5M409.6 624.9L427.7 630.6M409.6 633.8L427.7 633.3M409.6 636.7L427.7 637.6M409.6 623.9L427.7 632.0M409.6 623.5L427.7 634.4M409.6 638.9L427.7 640.3M409.6 626.7L427.7 631.7M409.6 641.5L427.7 641.2M409.6 625.0L427.7 631.8M409.6 624.0L427.7 635.8M409.6 629.7L427.7 636.9M409.6 627.1L427.7 631.4M409.6 629.3L427.7 635.7M409.6 622.4L427.7 634.7M409.6 640.4L427.7 634.8M409.6 639.8L427.7 640.5M409.6 632.3L427.7 632.7M409.6 623.6L427.7 629.3M409.6 640.3L427.7 635.2M409.6 624.6L427.7 635.2M409.6 626.4L427.7 634.5M409.6 635.6L427.7 639.8M409.6 626.3L427.7 632.1M409.6 623.4L427.7 631.6M409.6 638.5L427.7 638.7M409.6 636.3L427.7 631.1M409.6 637.5L427.7 639.6M409.6 634.5L427.7 638.7M409.6 633.1L427.7 633.1M409.6 628.5L427.7 635.9M409.6 638.9L427.7 636.2M409.6 627.7L427.7 633.1M409.6 630.1L427.7 629.5M409.6 638.7L427.7 638.2M409.6 631.7L427.7 633.5M409.6 623.4L427.7 630.8M409.6 628.2L427.7 633.6M409.6 625.8L427.7 628.9M409.6 635.7L427.7 638.8M409.6 636.4L427.7 636.7M409.6 623.6L427.7 633.6M409.6 628.9L427.7 631.7M409.6 622.3L427.7 634.6M409.6 626.1L427.7 633.7M409.6 639.6L427.7 635.1M409.6 624.6L427.7 630.9M409.6 640.7L427.7 632.2M409.6 633.9L427.7 633.3M409.6 627.0L427.7 634.7M409.6 597.4L427.7 634.5M409.6 610.8L427.7 628.8M409.6 614.5L427.7 623.1M409.6 621.7L427.7 612.3M409.6 626.0L427.7 618.3M409.6 628.8L427.7 622.3" stroke="#111" stroke-width="0.9" fill="none"/>
<path d="M408.4 627.2a1.25 1.25 0 1 0 2.5 0a1.25 1.25 0 1 0 -2.5 0M408.4 622.4a1.25 1.25 0 1 0 2.5 0a1.25 1.25 0 1 0 -2.5 0M408.4 635.6a1.25 1.25 0 1 0 2.5 0a1.25 1.25 0 1 0 -2.5 0M408.4 622.8a1.25 1.25 0 1 0 2.5 0a1.25 1.25 0 1 0 -2.5 0M408.4 632.6a1.25 1.25 0 1 0 2.5 0a1.25 1.25 0 1 0 -2.5 0M408.4 631.0a1.25 1.25 0 1 0 2.5 0a1.25 1.25 0 1 0 -2.5 0M408.4 622.9a1.25 1.25 0 1 0 2.5 0a1.25 1.25 0 1 0 -2.5 0M408.4 630.5a1.25 1.25 0 1 0 2.5 0a1.25 1.25 0 1 0 -2.5 0M408.4 638.9a1.25 1.25 0 1 0 2.5 0a1.25 1.25 0 1 0 -2.5 0M408.4 631.7a1.25 1.25 0 1 0 2.5 0a1.25 1.25 0 1 0 -2.5 0M408.4 637.5a1.25 1.25 0 1 0 2.5 0a1.25 1.25 0 1 0 -2.5 0M408.4 640.5a1.25 1.25 0 1 0 2.5 0a1.25 1.25 0 1 0 -2.5 0M408.4 634.7a1.25 1.25 0 1 0 2.5 0a1.25 1.25 0 1 0 -2.5 0M408.4 622.1a1.25 1.25 0 1 0 2.5 0a1.25 1.25 0 1 0 -2.5 0M408.4 636.1a1.25 1.25 0 1 0 2.5 0a1.25 1.25 0 1 0 -2.5 0M408.4 626.6a1.25 1.25 0 1 0 2.5 0a1.25 1.25 0 1 0 -2.5 0M408.4 624.9a1.25 1.25 0 1 0 2.5 0a1.25 1.25 0 1 0 -2.5 0M408.4 633.8a1.25 1.25 0 1 0 2.5 0a1.25 1.25 0 1 0 -2.5 0M408.4 636.7a1.25 1.25 0 1 0 2.5 0a1.25 1.25 0 1 0 -2.5 0M408.4 623.9a1.25 1.25 0 1 0 2.5 0a1.25 1.25 0 1 0 -2.5 0M408.4 623.5a1.25 1.25 0 1 0 2.5 0a1.25 1.25 0 1 0 -2.5 0M408.4 638.9a1.25 1.25 0 1 0 2.5 0a1.25 1.25 0 1 0 -2.5 0M408.4 626.7a1.25 1.25 0 1 0 2.5 0a1.25 1.25 0 1 0 -2.5 0M408.4 641.5a1.25 1.25 0 1 0 2.5 0a1.25 1.25 0 1 0 -2.5 0M408.4 625.0a1.25 1.25 0 1 0 2.5 0a1.25 1.25 0 1 0 -2.5 0M408.4 624.0a1.25 1.25 0 1 0 2.5 0a1.25 1.25 0 1 0 -2.5 0M408.4 629.7a1.25 1.25 0 1 0 2.5 0a1.25 1.25 0 1 0 -2.5 0M408.4 627.1a1.25 1.25 0 1 0 2.5 0a1.25 1.25 0 1 0 -2.5 0M408.4 629.3a1.25 1.25 0 1 0 2.5 0a1.25 1.25 0 1 0 -2.5 0M408.4 622.4a1.25 1.25 0 1 0 2.5 0a1.25 1.25 0 1 0 -2.5 0M408.4 640.4a1.25 1.25 0 1 0 2.5 0a1.25 1.25 0 1 0 -2.5 0M408.4 639.8a1.25 1.25 0 1 0 2.5 0a1.25 1.25 0 1 0 -2.5 0M408.4 632.3a1.25 1.25 0 1 0 2.5 0a1.25 1.25 0 1 0 -2.5 0M408.4 623.6a1.25 1.25 0 1 0 2.5 0a1.25 1.25 0 1 0 -2.5 0M408.4 640.3a1.25 1.25 0 1 0 2.5 0a1.25 1.25 0 1 0 -2.5 0M408.4 624.6a1.25 1.25 0 1 0 2.5 0a1.25 1.25 0 1 0 -2.5 0M408.4 626.4a1.25 1.25 0 1 0 2.5 0a1.25 1.25 0 1 0 -2.5 0M408.4 635.6a1.25 1.25 0 1 0 2.5 0a1.25 1.25 0 1 0 -2.5 0M408.4 626.3a1.25 1.25 0 1 0 2.5 0a1.25 1.25 0 1 0 -2.5 0M408.4 623.4a1.25 1.25 0 1 0 2.5 0a1.25 1.25 0 1 0 -2.5 0M408.4 638.5a1.25 1.25 0 1 0 2.5 0a1.25 1.25 0 1 0 -2.5 0M408.4 636.3a1.25 1.25 0 1 0 2.5 0a1.25 1.25 0 1 0 -2.5 0M408.4 637.5a1.25 1.25 0 1 0 2.5 0a1.25 1.25 0 1 0 -2.5 0M408.4 634.5a1.25 1.25 0 1 0 2.5 0a1.25 1.25 0 1 0 -2.5 0M408.4 633.1a1.25 1.25 0 1 0 2.5 0a1.25 1.25 0 1 0 -2.5 0M408.4 628.5a1.25 1.25 0 1 0 2.5 0a1.25 1.25 0 1 0 -2.5 0M408.4 638.9a1.25 1.25 0 1 0 2.5 0a1.25 1.25 0 1 0 -2.5 0M408.4 627.7a1.25 1.25 0 1 0 2.5 0a1.25 1.25 0 1 0 -2.5 0M408.4 630.1a1.25 1.25 0 1 0 2.5 0a1.25 1.25 0 1 0 -2.5 0M408.4 638.7a1.25 1.25 0 1 0 2.5 0a1.25 1.25 0 1 0 -2.5 0M408.4 631.7a1.25 1.25 0 1 0 2.5 0a1.25 1.25 0 1 0 -2.5 0M408.4 623.4a1.25 1.25 0 1 0 2.5 0a1.25 1.25 0 1 0 -2.5 0M408.4 628.2a1.25 1.25 0 1 0 2.5 0a1.25 1.25 0 1 0 -2.5 0M408.4 625.8a1.25 1.25 0 1 0 2.5 0a1.25 1.25 0 1 0 -2.5 0M408.4 635.7a1.25 1.25 0 1 0 2.5 0a1.25 1.25 0 1 0 -2.5 0M408.4 636.4a1.25 1.25 0 1 0 2.5 0a1.25 1.25 0 1 0 -2.5 0M408.4 623.6a1.25 1.25 0 1 0 2.5 0a1.25 1.25 0 1 0 -2.5 0M408.4 628.9a1.25 1.25 0 1 0 2.5 0a1.25 1.25 0 1 0 -2.5 0M408.4 622.3a1.25 1.25 0 1 0 2.5 0a1.25 1.25 0 1 0 -2.5 0M408.4 626.1a1.25 1.25 0 1 0 2.5 0a1.25 1.25 0 1 0 -2.5 0M408.4 639.6a1.25 1.25 0 1 0 2.5 0a1.25 1.25 0 1 0 -2.5 0M408.4 624.6a1.25 1.25 0 1 0 2.5 0a1.25 1.25 0 1 0 -2.5 0M408.4 640.7a1.25 1.25 0 1 0 2.5 0a1.25 1.25 0 1 0 -2.5 0M408.4 633.9a1.25 1.25 0 1 0 2.5 0a1.25 1.25 0 1 0 -2.5 0M408.4 627.0a1.25 1.25 0 1 0 2.5 0a1.25 1.25 0 1 0 -2.5 0M408.4 597.4a1.25 1.25 0 1 0 2.5 0a1.25 1.25 0 1 0 -2.5 0M408.4 610.8a1.25 1.25 0 1 0 2.5 0a1.25 1.25 0 1 0 -2.5 0M408.4 614.5a1.25 1.25 0 1 0 2.5 0a1.25 1.25 0 1 0 -2.5 0M408.4 621.7a1.25 1.25 0 1 0 2.5 0a1.25 1.25 0 1 0 -2.5 0M408.4 626.0a1.25 1.25 0 1 0 2.5 0a1.25 1.25 0 1 0 -2.5 0M408.4 628.8a1.25 1.25 0 1 0 2.5 0a1.25 1.25 0 1 0 -2.5 0" fill="#b3123a"/>
<path d="M426.4 628.4a1.25 1.25 0 1 0 2.5 0a1.25 1.25 0 1 0 -2.5 0M426.4 626.4a1.25 1.25 0 1 0 2.5 0a1.25 1.25 0 1 0 -2.5 0M426.4 638.2a1.25 1.25 0 1 0 2.5 0a1.25 1.25 0 1 0 -2.5 0M426.4 635.1a1.25 1.25 0 1 0 2.5 0a1.25 1.25 0 1 0 -2.5 0M426.4 631.9a1.25 1.25 0 1 0 2.5 0a1.25 1.25 0 1 0 -2.5 0M426.4 634.7a1.25 1.25 0 1 0 2.5 0a1.25 1.25 0 1 0 -2.5 0M426.4 633.0a1.25 1.25 0 1 0 2.5 0a1.25 1.25 0 1 0 -2.5 0M426.4 630.4a1.25 1.25 0 1 0 2.5 0a1.25 1.25 0 1 0 -2.5 0M426.4 637.5a1.25 1.25 0 1 0 2.5 0a1.25 1.25 0 1 0 -2.5 0M426.4 633.2a1.25 1.25 0 1 0 2.5 0a1.25 1.25 0 1 0 -2.5 0M426.4 636.1a1.25 1.25 0 1 0 2.5 0a1.25 1.25 0 1 0 -2.5 0M426.4 640.5a1.25 1.25 0 1 0 2.5 0a1.25 1.25 0 1 0 -2.5 0M426.4 638.2a1.25 1.25 0 1 0 2.5 0a1.25 1.25 0 1 0 -2.5 0M426.4 633.1a1.25 1.25 0 1 0 2.5 0a1.25 1.25 0 1 0 -2.5 0M426.4 632.6a1.25 1.25 0 1 0 2.5 0a1.25 1.25 0 1 0 -2.5 0M426.4 634.5a1.25 1.25 0 1 0 2.5 0a1.25 1.25 0 1 0 -2.5 0M426.4 630.6a1.25 1.25 0 1 0 2.5 0a1.25 1.25 0 1 0 -2.5 0M426.4 633.3a1.25 1.25 0 1 0 2.5 0a1.25 1.25 0 1 0 -2.5 0M426.4 637.6a1.25 1.25 0 1 0 2.5 0a1.25 1.25 0 1 0 -2.5 0M426.4 632.0a1.25 1.25 0 1 0 2.5 0a1.25 1.25 0 1 0 -2.5 0M426.4 634.4a1.25 1.25 0 1 0 2.5 0a1.25 1.25 0 1 0 -2.5 0M426.4 640.3a1.25 1.25 0 1 0 2.5 0a1.25 1.25 0 1 0 -2.5 0M426.4 631.7a1.25 1.25 0 1 0 2.5 0a1.25 1.25 0 1 0 -2.5 0M426.4 641.2a1.25 1.25 0 1 0 2.5 0a1.25 1.25 0 1 0 -2.5 0M426.4 631.8a1.25 1.25 0 1 0 2.5 0a1.25 1.25 0 1 0 -2.5 0M426.4 635.8a1.25 1.25 0 1 0 2.5 0a1.25 1.25 0 1 0 -2.5 0M426.4 636.9a1.25 1.25 0 1 0 2.5 0a1.25 1.25 0 1 0 -2.5 0M426.4 631.4a1.25 1.25 0 1 0 2.5 0a1.25 1.25 0 1 0 -2.5 0M426.4 635.7a1.25 1.25 0 1 0 2.5 0a1.25 1.25 0 1 0 -2.5 0M426.4 634.7a1.25 1.25 0 1 0 2.5 0a1.25 1.25 0 1 0 -2.5 0M426.4 634.8a1.25 1.25 0 1 0 2.5 0a1.25 1.25 0 1 0 -2.5 0M426.4 640.5a1.25 1.25 0 1 0 2.5 0a1.25 1.25 0 1 0 -2.5 0M426.4 632.7a1.25 1.25 0 1 0 2.5 0a1.25 1.25 0 1 0 -2.5 0M426.4 629.3a1.25 1.25 0 1 0 2.5 0a1.25 1.25 0 1 0 -2.5 0M426.4 635.2a1.25 1.25 0 1 0 2.5 0a1.25 1.25 0 1 0 -2.5 0M426.4 635.2a1.25 1.25 0 1 0 2.5 0a1.25 1.25 0 1 0 -2.5 0M426.4 634.5a1.25 1.25 0 1 0 2.5 0a1.25 1.25 0 1 0 -2.5 0M426.4 639.8a1.25 1.25 0 1 0 2.5 0a1.25 1.25 0 1 0 -2.5 0M426.4 632.1a1.25 1.25 0 1 0 2.5 0a1.25 1.25 0 1 0 -2.5 0M426.4 631.6a1.25 1.25 0 1 0 2.5 0a1.25 1.25 0 1 0 -2.5 0M426.4 638.7a1.25 1.25 0 1 0 2.5 0a1.25 1.25 0 1 0 -2.5 0M426.4 631.1a1.25 1.25 0 1 0 2.5 0a1.25 1.25 0 1 0 -2.5 0M426.4 639.6a1.25 1.25 0 1 0 2.5 0a1.25 1.25 0 1 0 -2.5 0M426.4 638.7a1.25 1.25 0 1 0 2.5 0a1.25 1.25 0 1 0 -2.5 0M426.4 633.1a1.25 1.25 0 1 0 2.5 0a1.25 1.25 0 1 0 -2.5 0M426.4 635.9a1.25 1.25 0 1 0 2.5 0a1.25 1.25 0 1 0 -2.5 0M426.4 636.2a1.25 1.25 0 1 0 2.5 0a1.25 1.25 0 1 0 -2.5 0M426.4 633.1a1.25 1.25 0 1 0 2.5 0a1.25 1.25 0 1 0 -2.5 0M426.4 629.5a1.25 1.25 0 1 0 2.5 0a1.25 1.25 0 1 0 -2.5 0M426.4 638.2a1.25 1.25 0 1 0 2.5 0a1.25 1.25 0 1 0 -2.5 0M426.4 633.5a1.25 1.25 0 1 0 2.5 0a1.25 1.25 0 1 0 -2.5 0M426.4 630.8a1.25 1.25 0 1 0 2.5 0a1.25 1.25 0 1 0 -2.5 0M426.4 633.6a1.25 1.25 0 1 0 2.5 0a1.25 1.25 0 1 0 -2.5 0M426.4 628.9a1.25 1.25 0 1 0 2.5 0a1.25 1.25 0 1 0 -2.5 0M426.4 638.8a1.25 1.25 0 1 0 2.5 0a1.25 1.25 0 1 0 -2.5 0M426.4 636.7a1.25 1.25 0 1 0 2.5 0a1.25 1.25 0 1 0 -2.5 0M426.4 633.6a1.25 1.25 0 1 0 2.5 0a1.25 1.25 0 1 0 -2.5 0M426.4 631.7a1.25 1.25 0 1 0 2.5 0a1.25 1.25 0 1 0 -2.5 0M426.4 634.6a1.25 1.25 0 1 0 2.5 0a1.25 1.25 0 1 0 -2.5 0M426.4 633.7a1.25 1.25 0 1 0 2.5 0a1.25 1.25 0 1 0 -2.5 0M426.4 635.1a1.25 1.25 0 1 0 2.5 0a1.25 1.25 0 1 0 -2.5 0M426.4 630.9a1.25 1.25 0 1 0 2.5 0a1.25 1.25 0 1 0 -2.5 0M426.4 632.2a1.25 1.25 0 1 0 2.5 0a1.25 1.25 0 1 0 -2.5 0M426.4 633.3a1.25 1.25 0 1 0 2.5 0a1.25 1.25 0 1 0 -2.5 0M426.4 634.7a1.25 1.25 0 1 0 2.5 0a1.25 1.25 0 1 0 -2.5 0M426.4 634.5a1.25 1.25 0 1 0 2.5 0a1.25 1.25 0 1 0 -2.5 0M426.4 628.8a1.25 1.25 0 1 0 2.5 0a1.25 1.25 0 1 0 -2.5 0M426.4 623.1a1.25 1.25 0 1 0 2.5 0a1.25 1.25 0 1 0 -2.5 0M426.4 612.3a1.25 1.25 0 1 0 2.5 0a1.25 1.25 0 1 0 -2.5 0M426.4 618.3a1.25 1.25 0 1 0 2.5 0a1.25 1.25 0 1 0 -2.5 0M426.4 622.3a1.25 1.25 0 1 0 2.5 0a1.25 1.25 0 1 0 -2.5 0" fill="#1f3f86"/>
<line x1="397.50" y1="583.50" x2="397.50" y2="643.50" stroke="#222" stroke-width="1.0"/>
<line x1="397.10" y1="643.50" x2="437.90" y2="643.50" stroke="#222" stroke-width="1.0"/>
<line x1="395.10" y1="586.50" x2="397.50" y2="586.50" stroke="#222" stroke-width="0.8"/>
<text x="391.70" y="587.58" font-size="4.4" text-anchor="end" fill="#1c1c1c" stroke="#1c1c1c" stroke-width="0.129">2000</text>
<line x1="395.10" y1="600.50" x2="397.50" y2="600.50" stroke="#222" stroke-width="0.8"/>
<text x="391.70" y="601.88" font-size="4.4" text-anchor="end" fill="#1c1c1c" stroke="#1c1c1c" stroke-width="0.129">1500</text>
<line x1="395.10" y1="614.50" x2="397.50" y2="614.50" stroke="#222" stroke-width="0.8"/>
<text x="391.70" y="616.18" font-size="4.4" text-anchor="end" fill="#1c1c1c" stroke="#1c1c1c" stroke-width="0.129">1000</text>
<line x1="395.10" y1="628.50" x2="397.50" y2="628.50" stroke="#222" stroke-width="0.8"/>
<text x="391.70" y="630.38" font-size="4.4" text-anchor="end" fill="#1c1c1c" stroke="#1c1c1c" stroke-width="0.129">500</text>
<line x1="395.10" y1="643.50" x2="397.50" y2="643.50" stroke="#222" stroke-width="0.8"/>
<text x="391.70" y="644.68" font-size="4.4" text-anchor="end" fill="#1c1c1c" stroke="#1c1c1c" stroke-width="0.129">0</text>
<line x1="409.50" y1="643.10" x2="409.50" y2="645.30" stroke="#222" stroke-width="0.8"/>
<line x1="427.50" y1="643.10" x2="427.50" y2="645.30" stroke="#222" stroke-width="0.8"/>
<text x="403.80" y="581.62" font-size="4.51" text-anchor="start" fill="#1c1c1c" stroke="#1c1c1c" stroke-width="0.136" textLength="28.30" lengthAdjust="spacingAndGlyphs">P value 0.0041</text>
<text x="418.65" y="653.39" font-size="4.7" text-anchor="middle" fill="#1c1c1c" stroke="#1c1c1c" stroke-width="0.147" textLength="35.20" lengthAdjust="spacingAndGlyphs">Diagnosis Relapse</text>
<text transform="translate(375.40,612.30) rotate(-90) skewX(-12)" x="0" y="2.3" font-size="6.4" text-anchor="middle" fill="#333" textLength="15.0" lengthAdjust="spacingAndGlyphs">PDE3B</text>
<path d="M476.7 632.8L495.0 636.6M476.7 640.7L495.0 641.4M476.7 622.8L495.0 632.4M476.7 617.3L495.0 633.4M476.7 635.9L495.0 638.9M476.7 614.5L495.0 625.2M476.7 616.3L495.0 629.1M476.7 640.6L495.0 638.4M476.7 637.8L495.0 640.6M476.7 628.0L495.0 635.3M476.7 640.5L495.0 637.3M476.7 614.9L495.0 623.4M476.7 631.1L495.0 637.9M476.7 621.0L495.0 634.3M476.7 628.9L495.0 637.2M476.7 612.8L495.0 627.5M476.7 632.0L495.0 636.8M476.7 628.4L495.0 627.6M476.7 632.3L495.0 637.4M476.7 629.6L495.0 628.8M476.7 633.6L495.0 633.6M476.7 615.4L495.0 630.7M476.7 619.4L495.0 630.0M476.7 639.8L495.0 641.1M476.7 614.7L495.0 629.0M476.7 631.8L495.0 629.5M476.7 627.7L495.0 633.1M476.7 636.3L495.0 633.2M476.7 637.1L495.0 636.6M476.7 621.3L495.0 629.8M476.7 640.0L495.0 640.1M476.7 623.6L495.0 629.1M476.7 640.6L495.0 631.5M476.7 640.0L495.0 640.4M476.7 640.9L495.0 638.1M476.7 626.1L495.0 628.4M476.7 639.3L495.0 634.8M476.7 640.6L495.0 636.6M476.7 637.2L495.0 637.8M476.7 641.5L495.0 635.3M476.7 640.2L495.0 634.3M476.7 634.9L495.0 634.5M476.7 625.5L495.0 632.5M476.7 617.1L495.0 624.5M476.7 636.4L495.0 637.7M476.7 617.0L495.0 632.8M476.7 632.5L495.0 635.6M476.7 613.2L495.0 631.6M476.7 624.9L495.0 629.2M476.7 622.4L495.0 635.4M476.7 614.5L495.0 630.5M476.7 617.9L495.0 627.9M476.7 632.5L495.0 630.8M476.7 624.2L495.0 633.5M476.7 622.3L495.0 631.2M476.7 623.0L495.0 630.2M476.7 620.0L495.0 633.7M476.7 630.2L495.0 638.1M476.7 620.2L495.0 627.4M476.7 618.5L495.0 633.9M476.7 628.9L495.0 633.7M476.7 640.3L495.0 640.2M476.7 613.3L495.0 624.0M476.7 637.5L495.0 632.6M476.7 625.1L495.0 633.4M476.7 587.7L495.0 624.2M476.7 599.1L495.0 628.9M476.7 600.5L495.0 621.8M476.7 606.2L495.0 633.6M476.7 610.0L495.0 626.5M476.7 632.7L495.0 594.8" stroke="#111" stroke-width="0.9" fill="none"/>
<path d="M475.4 632.8a1.25 1.25 0 1 0 2.5 0a1.25 1.25 0 1 0 -2.5 0M475.4 640.7a1.25 1.25 0 1 0 2.5 0a1.25 1.25 0 1 0 -2.5 0M475.4 622.8a1.25 1.25 0 1 0 2.5 0a1.25 1.25 0 1 0 -2.5 0M475.4 617.3a1.25 1.25 0 1 0 2.5 0a1.25 1.25 0 1 0 -2.5 0M475.4 635.9a1.25 1.25 0 1 0 2.5 0a1.25 1.25 0 1 0 -2.5 0M475.4 614.5a1.25 1.25 0 1 0 2.5 0a1.25 1.25 0 1 0 -2.5 0M475.4 616.3a1.25 1.25 0 1 0 2.5 0a1.25 1.25 0 1 0 -2.5 0M475.4 640.6a1.25 1.25 0 1 0 2.5 0a1.25 1.25 0 1 0 -2.5 0M475.4 637.8a1.25 1.25 0 1 0 2.5 0a1.25 1.25 0 1 0 -2.5 0M475.4 628.0a1.25 1.25 0 1 0 2.5 0a1.25 1.25 0 1 0 -2.5 0M475.4 640.5a1.25 1.25 0 1 0 2.5 0a1.25 1.25 0 1 0 -2.5 0M475.4 614.9a1.25 1.25 0 1 0 2.5 0a1.25 1.25 0 1 0 -2.5 0M475.4 631.1a1.25 1.25 0 1 0 2.5 0a1.25 1.25 0 1 0 -2.5 0M475.4 621.0a1.25 1.25 0 1 0 2.5 0a1.25 1.25 0 1 0 -2.5 0M475.4 628.9a1.25 1.25 0 1 0 2.5 0a1.25 1.25 0 1 0 -2.5 0M475.4 612.8a1.25 1.25 0 1 0 2.5 0a1.25 1.25 0 1 0 -2.5 0M475.4 632.0a1.25 1.25 0 1 0 2.5 0a1.25 1.25 0 1 0 -2.5 0M475.4 628.4a1.25 1.25 0 1 0 2.5 0a1.25 1.25 0 1 0 -2.5 0M475.4 632.3a1.25 1.25 0 1 0 2.5 0a1.25 1.25 0 1 0 -2.5 0M475.4 629.6a1.25 1.25 0 1 0 2.5 0a1.25 1.25 0 1 0 -2.5 0M475.4 633.6a1.25 1.25 0 1 0 2.5 0a1.25 1.25 0 1 0 -2.5 0M475.4 615.4a1.25 1.25 0 1 0 2.5 0a1.25 1.25 0 1 0 -2.5 0M475.4 619.4a1.25 1.25 0 1 0 2.5 0a1.25 1.25 0 1 0 -2.5 0M475.4 639.8a1.25 1.25 0 1 0 2.5 0a1.25 1.25 0 1 0 -2.5 0M475.4 614.7a1.25 1.25 0 1 0 2.5 0a1.25 1.25 0 1 0 -2.5 0M475.4 631.8a1.25 1.25 0 1 0 2.5 0a1.25 1.25 0 1 0 -2.5 0M475.4 627.7a1.25 1.25 0 1 0 2.5 0a1.25 1.25 0 1 0 -2.5 0M475.4 636.3a1.25 1.25 0 1 0 2.5 0a1.25 1.25 0 1 0 -2.5 0M475.4 637.1a1.25 1.25 0 1 0 2.5 0a1.25 1.25 0 1 0 -2.5 0M475.4 621.3a1.25 1.25 0 1 0 2.5 0a1.25 1.25 0 1 0 -2.5 0M475.4 640.0a1.25 1.25 0 1 0 2.5 0a1.25 1.25 0 1 0 -2.5 0M475.4 623.6a1.25 1.25 0 1 0 2.5 0a1.25 1.25 0 1 0 -2.5 0M475.4 640.6a1.25 1.25 0 1 0 2.5 0a1.25 1.25 0 1 0 -2.5 0M475.4 640.0a1.25 1.25 0 1 0 2.5 0a1.25 1.25 0 1 0 -2.5 0M475.4 640.9a1.25 1.25 0 1 0 2.5 0a1.25 1.25 0 1 0 -2.5 0M475.4 626.1a1.25 1.25 0 1 0 2.5 0a1.25 1.25 0 1 0 -2.5 0M475.4 639.3a1.25 1.25 0 1 0 2.5 0a1.25 1.25 0 1 0 -2.5 0M475.4 640.6a1.25 1.25 0 1 0 2.5 0a1.25 1.25 0 1 0 -2.5 0M475.4 637.2a1.25 1.25 0 1 0 2.5 0a1.25 1.25 0 1 0 -2.5 0M475.4 641.5a1.25 1.25 0 1 0 2.5 0a1.25 1.25 0 1 0 -2.5 0M475.4 640.2a1.25 1.25 0 1 0 2.5 0a1.25 1.25 0 1 0 -2.5 0M475.4 634.9a1.25 1.25 0 1 0 2.5 0a1.25 1.25 0 1 0 -2.5 0M475.4 625.5a1.25 1.25 0 1 0 2.5 0a1.25 1.25 0 1 0 -2.5 0M475.4 617.1a1.25 1.25 0 1 0 2.5 0a1.25 1.25 0 1 0 -2.5 0M475.4 636.4a1.25 1.25 0 1 0 2.5 0a1.25 1.25 0 1 0 -2.5 0M475.4 617.0a1.25 1.25 0 1 0 2.5 0a1.25 1.25 0 1 0 -2.5 0M475.4 632.5a1.25 1.25 0 1 0 2.5 0a1.25 1.25 0 1 0 -2.5 0M475.4 613.2a1.25 1.25 0 1 0 2.5 0a1.25 1.25 0 1 0 -2.5 0M475.4 624.9a1.25 1.25 0 1 0 2.5 0a1.25 1.25 0 1 0 -2.5 0M475.4 622.4a1.25 1.25 0 1 0 2.5 0a1.25 1.25 0 1 0 -2.5 0M475.4 614.5a1.25 1.25 0 1 0 2.5 0a1.25 1.25 0 1 0 -2.5 0M475.4 617.9a1.25 1.25 0 1 0 2.5 0a1.25 1.25 0 1 0 -2.5 0M475.4 632.5a1.25 1.25 0 1 0 2.5 0a1.25 1.25 0 1 0 -2.5 0M475.4 624.2a1.25 1.25 0 1 0 2.5 0a1.25 1.25 0 1 0 -2.5 0M475.4 622.3a1.25 1.25 0 1 0 2.5 0a1.25 1.25 0 1 0 -2.5 0M475.4 623.0a1.25 1.25 0 1 0 2.5 0a1.25 1.25 0 1 0 -2.5 0M475.4 620.0a1.25 1.25 0 1 0 2.5 0a1.25 1.25 0 1 0 -2.5 0M475.4 630.2a1.25 1.25 0 1 0 2.5 0a1.25 1.25 0 1 0 -2.5 0M475.4 620.2a1.25 1.25 0 1 0 2.5 0a1.25 1.25 0 1 0 -2.5 0M475.4 618.5a1.25 1.25 0 1 0 2.5 0a1.25 1.25 0 1 0 -2.5 0M475.4 628.9a1.25 1.25 0 1 0 2.5 0a1.25 1.25 0 1 0 -2.5 0M475.4 640.3a1.25 1.25 0 1 0 2.5 0a1.25 1.25 0 1 0 -2.5 0M475.4 613.3a1.25 1.25 0 1 0 2.5 0a1.25 1.25 0 1 0 -2.5 0M475.4 637.5a1.25 1.25 0 1 0 2.5 0a1.25 1.25 0 1 0 -2.5 0M475.4 625.1a1.25 1.25 0 1 0 2.5 0a1.25 1.25 0 1 0 -2.5 0M475.4 587.7a1.25 1.25 0 1 0 2.5 0a1.25 1.25 0 1 0 -2.5 0M475.4 599.1a1.25 1.25 0 1 0 2.5 0a1.25 1.25 0 1 0 -2.5 0M475.4 600.5a1.25 1.25 0 1 0 2.5 0a1.25 1.25 0 1 0 -2.5 0M475.4 606.2a1.25 1.25 0 1 0 2.5 0a1.25 1.25 0 1 0 -2.5 0M475.4 610.0a1.25 1.25 0 1 0 2.5 0a1.25 1.25 0 1 0 -2.5 0M475.4 632.7a1.25 1.25 0 1 0 2.5 0a1.25 1.25 0 1 0 -2.5 0" fill="#b3123a"/>
<path d="M493.8 636.6a1.25 1.25 0 1 0 2.5 0a1.25 1.25 0 1 0 -2.5 0M493.8 641.4a1.25 1.25 0 1 0 2.5 0a1.25 1.25 0 1 0 -2.5 0M493.8 632.4a1.25 1.25 0 1 0 2.5 0a1.25 1.25 0 1 0 -2.5 0M493.8 633.4a1.25 1.25 0 1 0 2.5 0a1.25 1.25 0 1 0 -2.5 0M493.8 638.9a1.25 1.25 0 1 0 2.5 0a1.25 1.25 0 1 0 -2.5 0M493.8 625.2a1.25 1.25 0 1 0 2.5 0a1.25 1.25 0 1 0 -2.5 0M493.8 629.1a1.25 1.25 0 1 0 2.5 0a1.25 1.25 0 1 0 -2.5 0M493.8 638.4a1.25 1.25 0 1 0 2.5 0a1.25 1.25 0 1 0 -2.5 0M493.8 640.6a1.25 1.25 0 1 0 2.5 0a1.25 1.25 0 1 0 -2.5 0M493.8 635.3a1.25 1.25 0 1 0 2.5 0a1.25 1.25 0 1 0 -2.5 0M493.8 637.3a1.25 1.25 0 1 0 2.5 0a1.25 1.25 0 1 0 -2.5 0M493.8 623.4a1.25 1.25 0 1 0 2.5 0a1.25 1.25 0 1 0 -2.5 0M493.8 637.9a1.25 1.25 0 1 0 2.5 0a1.25 1.25 0 1 0 -2.5 0M493.8 634.3a1.25 1.25 0 1 0 2.5 0a1.25 1.25 0 1 0 -2.5 0M493.8 637.2a1.25 1.25 0 1 0 2.5 0a1.25 1.25 0 1 0 -2.5 0M493.8 627.5a1.25 1.25 0 1 0 2.5 0a1.25 1.25 0 1 0 -2.5 0M493.8 636.8a1.25 1.25 0 1 0 2.5 0a1.25 1.25 0 1 0 -2.5 0M493.8 627.6a1.25 1.25 0 1 0 2.5 0a1.25 1.25 0 1 0 -2.5 0M493.8 637.4a1.25 1.25 0 1 0 2.5 0a1.25 1.25 0 1 0 -2.5 0M493.8 628.8a1.25 1.25 0 1 0 2.5 0a1.25 1.25 0 1 0 -2.5 0M493.8 633.6a1.25 1.25 0 1 0 2.5 0a1.25 1.25 0 1 0 -2.5 0M493.8 630.7a1.25 1.25 0 1 0 2.5 0a1.25 1.25 0 1 0 -2.5 0M493.8 630.0a1.25 1.25 0 1 0 2.5 0a1.25 1.25 0 1 0 -2.5 0M493.8 641.1a1.25 1.25 0 1 0 2.5 0a1.25 1.25 0 1 0 -2.5 0M493.8 629.0a1.25 1.25 0 1 0 2.5 0a1.25 1.25 0 1 0 -2.5 0M493.8 629.5a1.25 1.25 0 1 0 2.5 0a1.25 1.25 0 1 0 -2.5 0M493.8 633.1a1.25 1.25 0 1 0 2.5 0a1.25 1.25 0 1 0 -2.5 0M493.8 633.2a1.25 1.25 0 1 0 2.5 0a1.25 1.25 0 1 0 -2.5 0M493.8 636.6a1.25 1.25 0 1 0 2.5 0a1.25 1.25 0 1 0 -2.5 0M493.8 629.8a1.25 1.25 0 1 0 2.5 0a1.25 1.25 0 1 0 -2.5 0M493.8 640.1a1.25 1.25 0 1 0 2.5 0a1.25 1.25 0 1 0 -2.5 0M493.8 629.1a1.25 1.25 0 1 0 2.5 0a1.25 1.25 0 1 0 -2.5 0M493.8 631.5a1.25 1.25 0 1 0 2.5 0a1.25 1.25 0 1 0 -2.5 0M493.8 640.4a1.25 1.25 0 1 0 2.5 0a1.25 1.25 0 1 0 -2.5 0M493.8 638.1a1.25 1.25 0 1 0 2.5 0a1.25 1.25 0 1 0 -2.5 0M493.8 628.4a1.25 1.25 0 1 0 2.5 0a1.25 1.25 0 1 0 -2.5 0M493.8 634.8a1.25 1.25 0 1 0 2.5 0a1.25 1.25 0 1 0 -2.5 0M493.8 636.6a1.25 1.25 0 1 0 2.5 0a1.25 1.25 0 1 0 -2.5 0M493.8 637.8a1.25 1.25 0 1 0 2.5 0a1.25 1.25 0 1 0 -2.5 0M493.8 635.3a1.25 1.25 0 1 0 2.5 0a1.25 1.25 0 1 0 -2.5 0M493.8 634.3a1.25 1.25 0 1 0 2.5 0a1.25 1.25 0 1 0 -2.5 0M493.8 634.5a1.25 1.25 0 1 0 2.5 0a1.25 1.25 0 1 0 -2.5 0M493.8 632.5a1.25 1.25 0 1 0 2.5 0a1.25 1.25 0 1 0 -2.5 0M493.8 624.5a1.25 1.25 0 1 0 2.5 0a1.25 1.25 0 1 0 -2.5 0M493.8 637.7a1.25 1.25 0 1 0 2.5 0a1.25 1.25 0 1 0 -2.5 0M493.8 632.8a1.25 1.25 0 1 0 2.5 0a1.25 1.25 0 1 0 -2.5 0M493.8 635.6a1.25 1.25 0 1 0 2.5 0a1.25 1.25 0 1 0 -2.5 0M493.8 631.6a1.25 1.25 0 1 0 2.5 0a1.25 1.25 0 1 0 -2.5 0M493.8 629.2a1.25 1.25 0 1 0 2.5 0a1.25 1.25 0 1 0 -2.5 0M493.8 635.4a1.25 1.25 0 1 0 2.5 0a1.25 1.25 0 1 0 -2.5 0M493.8 630.5a1.25 1.25 0 1 0 2.5 0a1.25 1.25 0 1 0 -2.5 0M493.8 627.9a1.25 1.25 0 1 0 2.5 0a1.25 1.25 0 1 0 -2.5 0M493.8 630.8a1.25 1.25 0 1 0 2.5 0a1.25 1.25 0 1 0 -2.5 0M493.8 633.5a1.25 1.25 0 1 0 2.5 0a1.25 1.25 0 1 0 -2.5 0M493.8 631.2a1.25 1.25 0 1 0 2.5 0a1.25 1.25 0 1 0 -2.5 0M493.8 630.2a1.25 1.25 0 1 0 2.5 0a1.25 1.25 0 1 0 -2.5 0M493.8 633.7a1.25 1.25 0 1 0 2.5 0a1.25 1.25 0 1 0 -2.5 0M493.8 638.1a1.25 1.25 0 1 0 2.5 0a1.25 1.25 0 1 0 -2.5 0M493.8 627.4a1.25 1.25 0 1 0 2.5 0a1.25 1.25 0 1 0 -2.5 0M493.8 633.9a1.25 1.25 0 1 0 2.5 0a1.25 1.25 0 1 0 -2.5 0M493.8 633.7a1.25 1.25 0 1 0 2.5 0a1.25 1.25 0 1 0 -2.5 0M493.8 640.2a1.25 1.25 0 1 0 2.5 0a1.25 1.25 0 1 0 -2.5 0M493.8 624.0a1.25 1.25 0 1 0 2.5 0a1.25 1.25 0 1 0 -2.5 0M493.8 632.6a1.25 1.25 0 1 0 2.5 0a1.25 1.25 0 1 0 -2.5 0M493.8 633.4a1.25 1.25 0 1 0 2.5 0a1.25 1.25 0 1 0 -2.5 0M493.8 624.2a1.25 1.25 0 1 0 2.5 0a1.25 1.25 0 1 0 -2.5 0M493.8 628.9a1.25 1.25 0 1 0 2.5 0a1.25 1.25 0 1 0 -2.5 0M493.8 621.8a1.25 1.25 0 1 0 2.5 0a1.25 1.25 0 1 0 -2.5 0M493.8 633.6a1.25 1.25 0 1 0 2.5 0a1.25 1.25 0 1 0 -2.5 0M493.8 626.5a1.25 1.25 0 1 0 2.5 0a1.25 1.25 0 1 0 -2.5 0M493.8 594.8a1.25 1.25 0 1 0 2.5 0a1.25 1.25 0 1 0 -2.5 0" fill="#1f3f86"/>
<line x1="464.50" y1="583.50" x2="464.50" y2="643.50" stroke="#222" stroke-width="1.0"/>
<line x1="464.20" y1="643.50" x2="507.50" y2="643.50" stroke="#222" stroke-width="1.0"/>
<line x1="462.20" y1="586.50" x2="464.60" y2="586.50" stroke="#222" stroke-width="0.8"/>
<text x="459.00" y="587.88" font-size="4.4" text-anchor="end" fill="#1c1c1c" stroke="#1c1c1c" stroke-width="0.129">160</text>
<line x1="462.20" y1="605.50" x2="464.60" y2="605.50" stroke="#222" stroke-width="0.8"/>
<text x="459.00" y="606.78" font-size="4.4" text-anchor="end" fill="#1c1c1c" stroke="#1c1c1c" stroke-width="0.129">120</text>
<line x1="462.20" y1="624.50" x2="464.60" y2="624.50" stroke="#222" stroke-width="0.8"/>
<text x="459.00" y="625.68" font-size="4.4" text-anchor="end" fill="#1c1c1c" stroke="#1c1c1c" stroke-width="0.129">80</text>
<line x1="462.20" y1="643.50" x2="464.60" y2="643.50" stroke="#222" stroke-width="0.8"/>
<text x="459.00" y="644.68" font-size="4.4" text-anchor="end" fill="#1c1c1c" stroke="#1c1c1c" stroke-width="0.129">40</text>
<line x1="476.50" y1="643.10" x2="476.50" y2="645.30" stroke="#222" stroke-width="0.8"/>
<line x1="495.50" y1="643.10" x2="495.50" y2="645.30" stroke="#222" stroke-width="0.8"/>
<text x="471.90" y="581.63" font-size="4.54" text-anchor="start" fill="#1c1c1c" stroke="#1c1c1c" stroke-width="0.137" textLength="28.50" lengthAdjust="spacingAndGlyphs">P value 0.0300</text>
<text x="485.85" y="653.39" font-size="4.7" text-anchor="middle" fill="#1c1c1c" stroke="#1c1c1c" stroke-width="0.147" textLength="35.20" lengthAdjust="spacingAndGlyphs">Diagnosis Relapse</text>
<text transform="translate(445.00,612.30) rotate(-90) skewX(-12)" x="0" y="2.3" font-size="6.4" text-anchor="middle" fill="#333" textLength="14.0" lengthAdjust="spacingAndGlyphs">PTCH1</text>
<rect x="0.5" y="0.5" width="519" height="660" fill="none" stroke="#000" stroke-width="1.2"/>
</svg>
</body></html>
